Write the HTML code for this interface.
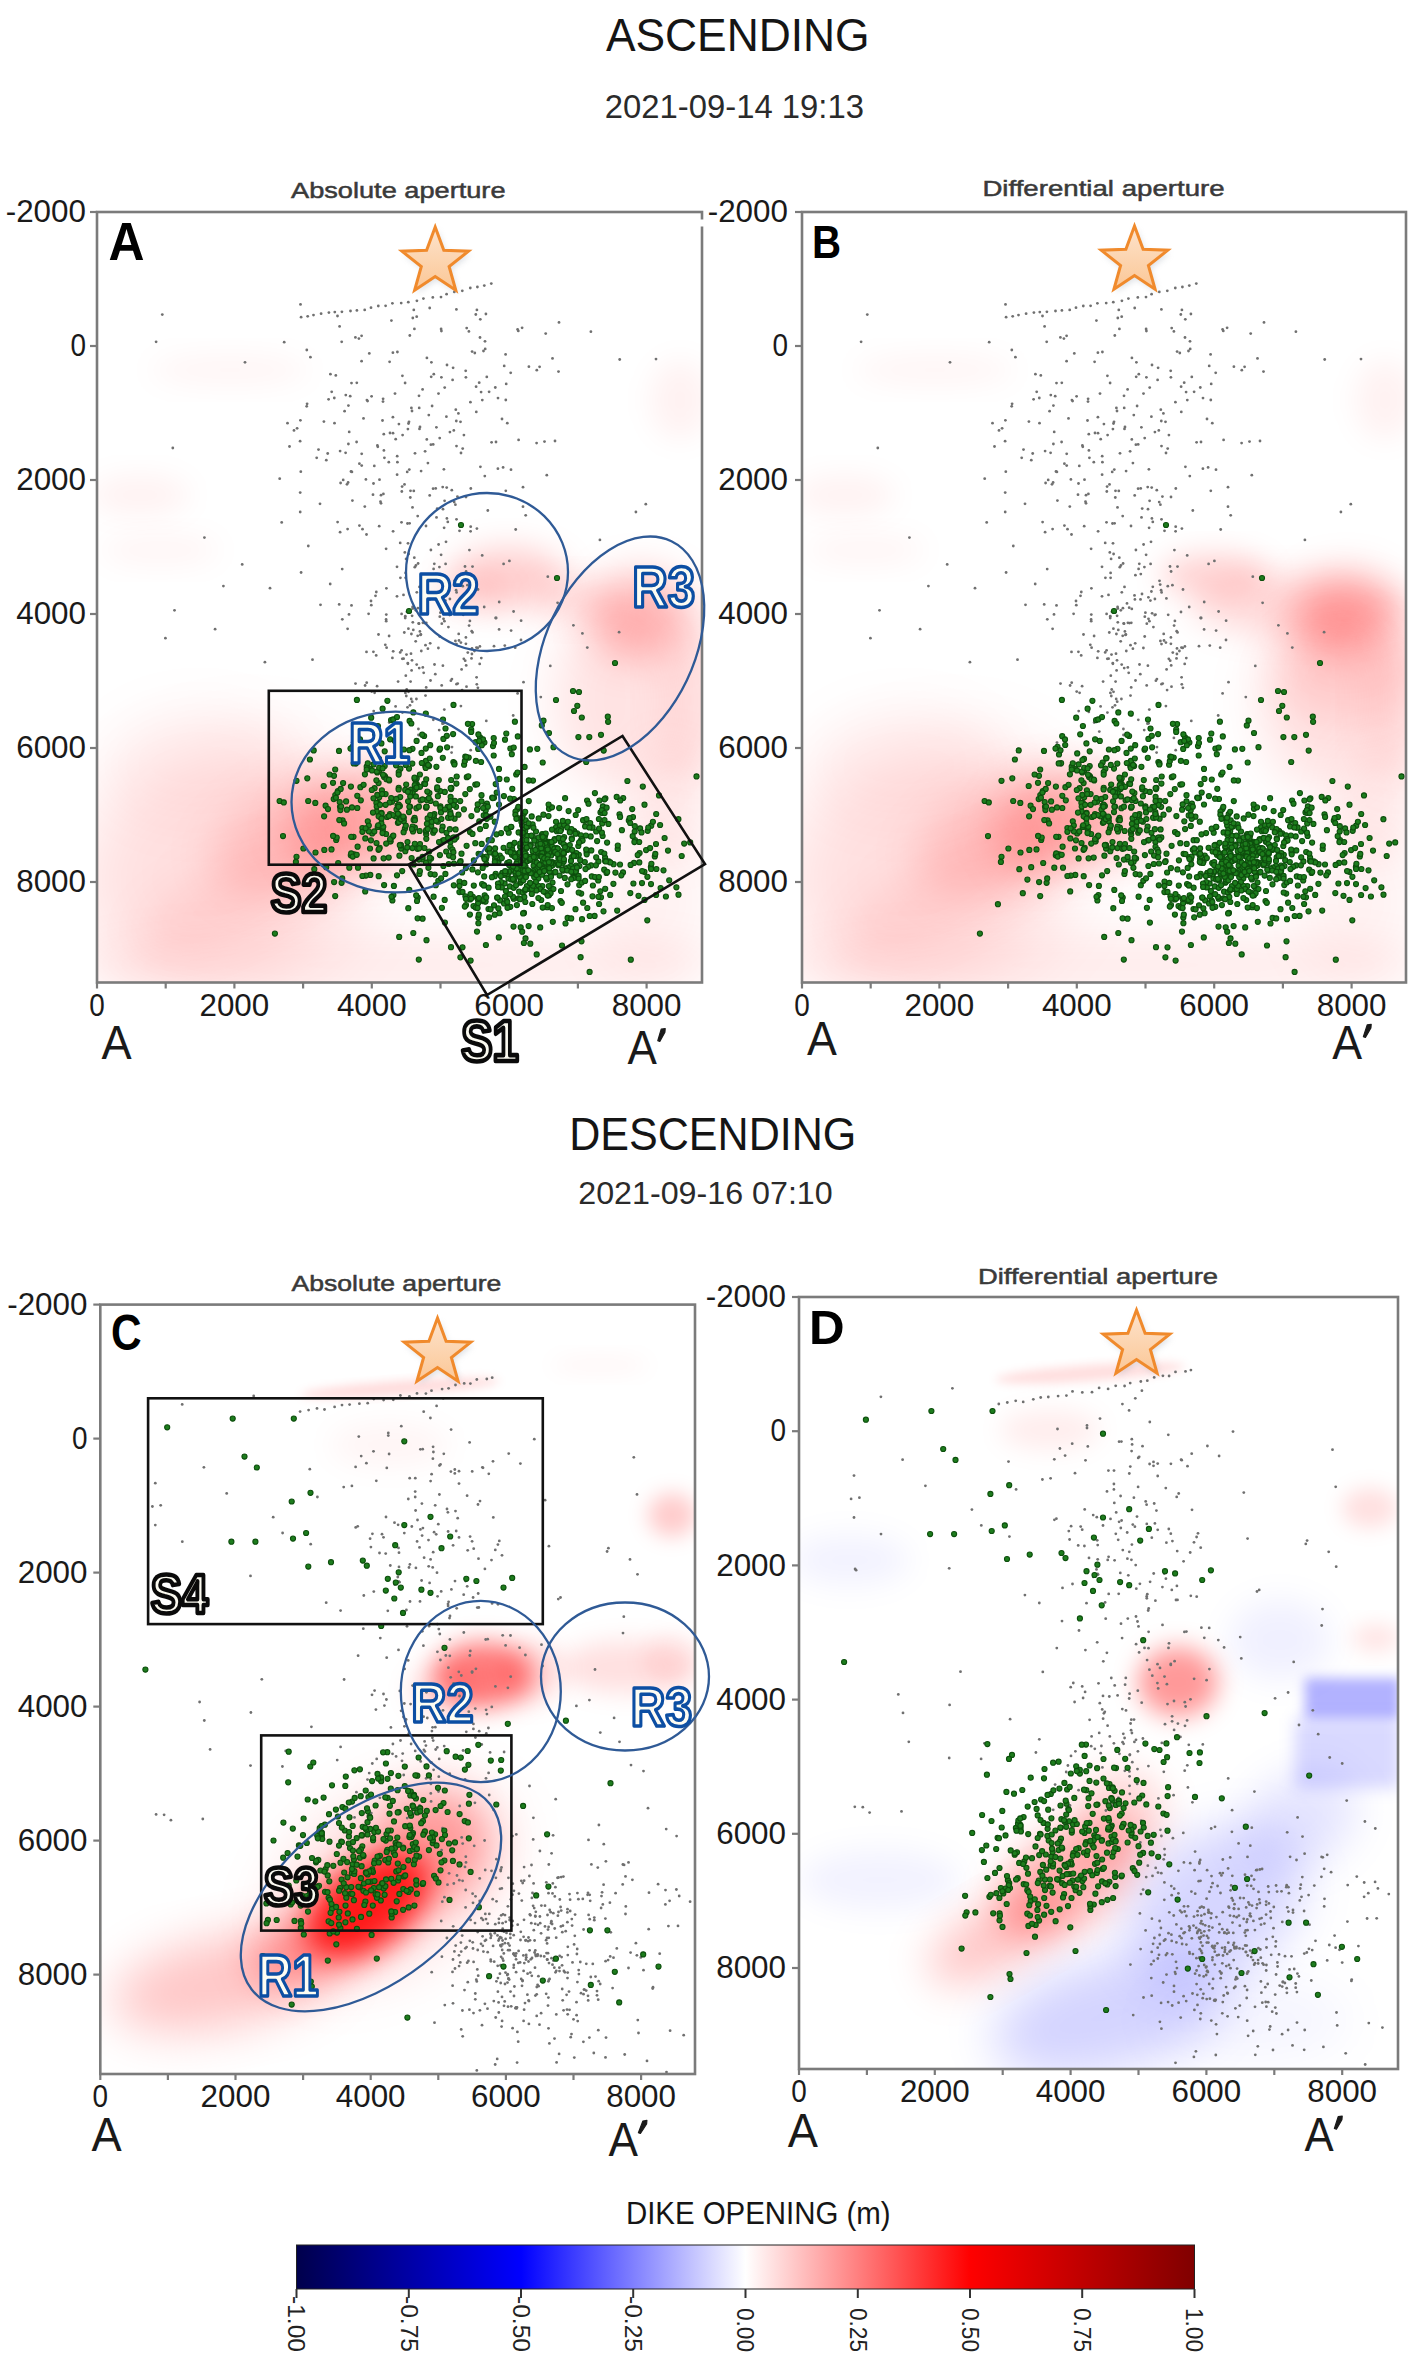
<!DOCTYPE html>
<html><head><meta charset="utf-8"><style>
html,body{margin:0;padding:0;background:#fff;width:1420px;height:2362px;overflow:hidden}
</style></head><body>
<svg width="1420" height="2362" viewBox="0 0 1420 2362" style="position:absolute;left:0;top:0">
<defs><g id="abgray" fill="#707070"><circle cx="301.1" cy="317.2" r="1.4"/><circle cx="307.7" cy="316.3" r="1.4"/><circle cx="313.5" cy="315.1" r="1.4"/><circle cx="321.1" cy="313.7" r="1.4"/><circle cx="328.9" cy="312.6" r="1.4"/><circle cx="334.8" cy="312.1" r="1.4"/><circle cx="341.9" cy="311.8" r="1.4"/><circle cx="350.5" cy="311.0" r="1.4"/><circle cx="356.9" cy="310.4" r="1.4"/><circle cx="364.7" cy="309.9" r="1.4"/><circle cx="371.0" cy="307.7" r="1.4"/><circle cx="378.3" cy="306.0" r="1.4"/><circle cx="385.6" cy="305.8" r="1.4"/><circle cx="392.4" cy="303.3" r="1.4"/><circle cx="401.2" cy="303.1" r="1.4"/><circle cx="408.3" cy="302.2" r="1.4"/><circle cx="416.9" cy="300.8" r="1.4"/><circle cx="423.4" cy="298.6" r="1.4"/><circle cx="432.8" cy="297.4" r="1.4"/><circle cx="441.0" cy="297.1" r="1.4"/><circle cx="446.6" cy="294.2" r="1.4"/><circle cx="454.3" cy="291.9" r="1.4"/><circle cx="462.3" cy="290.8" r="1.4"/><circle cx="470.3" cy="288.0" r="1.4"/><circle cx="477.4" cy="287.0" r="1.4"/><circle cx="484.3" cy="285.6" r="1.4"/><circle cx="491.3" cy="283.6" r="1.4"/><circle cx="412.0" cy="411.0" r="1.4"/><circle cx="474.8" cy="353.0" r="1.4"/><circle cx="497.9" cy="468.7" r="1.4"/><circle cx="480.0" cy="337.5" r="1.4"/><circle cx="481.1" cy="392.1" r="1.4"/><circle cx="436.4" cy="427.3" r="1.4"/><circle cx="438.5" cy="393.6" r="1.4"/><circle cx="300.1" cy="441.2" r="1.4"/><circle cx="491.6" cy="442.3" r="1.4"/><circle cx="361.6" cy="335.8" r="1.4"/><circle cx="456.3" cy="421.0" r="1.4"/><circle cx="334.5" cy="423.2" r="1.4"/><circle cx="308.3" cy="546.0" r="1.4"/><circle cx="395.7" cy="439.2" r="1.4"/><circle cx="355.4" cy="337.4" r="1.4"/><circle cx="397.4" cy="352.0" r="1.4"/><circle cx="300.8" cy="471.7" r="1.4"/><circle cx="391.4" cy="320.6" r="1.4"/><circle cx="432.1" cy="406.0" r="1.4"/><circle cx="337.6" cy="522.1" r="1.4"/><circle cx="429.7" cy="308.0" r="1.4"/><circle cx="349.2" cy="431.9" r="1.4"/><circle cx="458.4" cy="413.4" r="1.4"/><circle cx="404.5" cy="484.4" r="1.4"/><circle cx="485.9" cy="314.0" r="1.4"/><circle cx="381.0" cy="503.3" r="1.4"/><circle cx="441.1" cy="328.9" r="1.4"/><circle cx="281.7" cy="522.4" r="1.4"/><circle cx="393.0" cy="433.2" r="1.4"/><circle cx="381.0" cy="495.2" r="1.4"/><circle cx="470.6" cy="531.3" r="1.4"/><circle cx="328.6" cy="399.3" r="1.4"/><circle cx="455.8" cy="409.7" r="1.4"/><circle cx="404.8" cy="552.4" r="1.4"/><circle cx="412.8" cy="318.0" r="1.4"/><circle cx="523.0" cy="487.2" r="1.4"/><circle cx="421.1" cy="471.1" r="1.4"/><circle cx="449.9" cy="432.1" r="1.4"/><circle cx="460.5" cy="421.8" r="1.4"/><circle cx="511.0" cy="469.7" r="1.4"/><circle cx="374.3" cy="465.9" r="1.4"/><circle cx="320.0" cy="503.8" r="1.4"/><circle cx="279.7" cy="478.7" r="1.4"/><circle cx="498.0" cy="398.1" r="1.4"/><circle cx="443.9" cy="469.3" r="1.4"/><circle cx="307.1" cy="403.8" r="1.4"/><circle cx="518.6" cy="439.9" r="1.4"/><circle cx="555.0" cy="441.0" r="1.4"/><circle cx="392.9" cy="417.2" r="1.4"/><circle cx="408.0" cy="543.3" r="1.4"/><circle cx="361.6" cy="361.2" r="1.4"/><circle cx="379.2" cy="526.2" r="1.4"/><circle cx="489.1" cy="391.8" r="1.4"/><circle cx="459.5" cy="530.8" r="1.4"/><circle cx="419.2" cy="407.9" r="1.4"/><circle cx="465.7" cy="370.8" r="1.4"/><circle cx="429.7" cy="495.4" r="1.4"/><circle cx="525.7" cy="515.3" r="1.4"/><circle cx="447.0" cy="365.0" r="1.4"/><circle cx="463.9" cy="435.1" r="1.4"/><circle cx="536.6" cy="443.1" r="1.4"/><circle cx="422.6" cy="389.4" r="1.4"/><circle cx="409.3" cy="469.6" r="1.4"/><circle cx="348.4" cy="405.6" r="1.4"/><circle cx="339.6" cy="326.4" r="1.4"/><circle cx="452.6" cy="379.9" r="1.4"/><circle cx="388.8" cy="462.2" r="1.4"/><circle cx="366.9" cy="400.1" r="1.4"/><circle cx="402.4" cy="375.8" r="1.4"/><circle cx="362.5" cy="529.2" r="1.4"/><circle cx="446.7" cy="487.6" r="1.4"/><circle cx="334.3" cy="398.0" r="1.4"/><circle cx="466.0" cy="497.0" r="1.4"/><circle cx="359.4" cy="463.7" r="1.4"/><circle cx="505.8" cy="490.8" r="1.4"/><circle cx="405.1" cy="383.0" r="1.4"/><circle cx="306.7" cy="406.3" r="1.4"/><circle cx="419.5" cy="428.9" r="1.4"/><circle cx="401.8" cy="491.5" r="1.4"/><circle cx="485.2" cy="348.9" r="1.4"/><circle cx="420.0" cy="426.9" r="1.4"/><circle cx="419.0" cy="395.8" r="1.4"/><circle cx="447.8" cy="521.9" r="1.4"/><circle cx="383.0" cy="401.6" r="1.4"/><circle cx="485.0" cy="341.3" r="1.4"/><circle cx="453.8" cy="430.4" r="1.4"/><circle cx="361.7" cy="453.8" r="1.4"/><circle cx="397.4" cy="462.2" r="1.4"/><circle cx="446.4" cy="416.7" r="1.4"/><circle cx="430.9" cy="444.7" r="1.4"/><circle cx="402.1" cy="486.6" r="1.4"/><circle cx="407.5" cy="523.5" r="1.4"/><circle cx="383.1" cy="398.8" r="1.4"/><circle cx="413.8" cy="309.9" r="1.4"/><circle cx="552.5" cy="358.4" r="1.4"/><circle cx="431.4" cy="362.3" r="1.4"/><circle cx="462.7" cy="448.6" r="1.4"/><circle cx="505.8" cy="400.0" r="1.4"/><circle cx="428.8" cy="415.1" r="1.4"/><circle cx="431.2" cy="376.8" r="1.4"/><circle cx="401.5" cy="522.3" r="1.4"/><circle cx="468.9" cy="331.4" r="1.4"/><circle cx="426.8" cy="439.4" r="1.4"/><circle cx="340.6" cy="483.0" r="1.4"/><circle cx="361.7" cy="465.6" r="1.4"/><circle cx="479.2" cy="382.7" r="1.4"/><circle cx="455.4" cy="504.7" r="1.4"/><circle cx="379.5" cy="479.7" r="1.4"/><circle cx="515.7" cy="529.5" r="1.4"/><circle cx="392.9" cy="352.7" r="1.4"/><circle cx="495.3" cy="387.5" r="1.4"/><circle cx="517.6" cy="329.4" r="1.4"/><circle cx="377.4" cy="445.5" r="1.4"/><circle cx="365.9" cy="479.4" r="1.4"/><circle cx="544.5" cy="441.6" r="1.4"/><circle cx="442.7" cy="487.1" r="1.4"/><circle cx="409.6" cy="523.3" r="1.4"/><circle cx="330.4" cy="374.2" r="1.4"/><circle cx="327.7" cy="453.5" r="1.4"/><circle cx="503.1" cy="467.4" r="1.4"/><circle cx="398.9" cy="424.1" r="1.4"/><circle cx="502.0" cy="419.0" r="1.4"/><circle cx="377.8" cy="446.8" r="1.4"/><circle cx="300.4" cy="420.3" r="1.4"/><circle cx="411.4" cy="407.9" r="1.4"/><circle cx="487.8" cy="510.5" r="1.4"/><circle cx="483.5" cy="351.0" r="1.4"/><circle cx="408.5" cy="423.5" r="1.4"/><circle cx="410.3" cy="497.5" r="1.4"/><circle cx="414.3" cy="557.7" r="1.4"/><circle cx="415.0" cy="453.3" r="1.4"/><circle cx="480.4" cy="466.8" r="1.4"/><circle cx="348.1" cy="482.5" r="1.4"/><circle cx="539.6" cy="366.8" r="1.4"/><circle cx="476.3" cy="411.9" r="1.4"/><circle cx="300.2" cy="492.6" r="1.4"/><circle cx="441.4" cy="377.3" r="1.4"/><circle cx="496.0" cy="442.0" r="1.4"/><circle cx="433.1" cy="488.7" r="1.4"/><circle cx="373.0" cy="494.7" r="1.4"/><circle cx="416.7" cy="316.7" r="1.4"/><circle cx="456.4" cy="309.4" r="1.4"/><circle cx="373.5" cy="483.5" r="1.4"/><circle cx="364.8" cy="506.6" r="1.4"/><circle cx="340.1" cy="451.1" r="1.4"/><circle cx="470.4" cy="402.2" r="1.4"/><circle cx="382.5" cy="420.5" r="1.4"/><circle cx="345.8" cy="395.1" r="1.4"/><circle cx="389.6" cy="361.8" r="1.4"/><circle cx="457.4" cy="496.6" r="1.4"/><circle cx="413.8" cy="490.9" r="1.4"/><circle cx="506.2" cy="383.9" r="1.4"/><circle cx="558.5" cy="371.6" r="1.4"/><circle cx="412.5" cy="507.4" r="1.4"/><circle cx="356.6" cy="442.0" r="1.4"/><circle cx="397.2" cy="456.2" r="1.4"/><circle cx="528.9" cy="366.7" r="1.4"/><circle cx="367.6" cy="401.1" r="1.4"/><circle cx="356.8" cy="382.8" r="1.4"/><circle cx="347.6" cy="529.1" r="1.4"/><circle cx="417.7" cy="516.1" r="1.4"/><circle cx="466.7" cy="328.1" r="1.4"/><circle cx="437.2" cy="508.6" r="1.4"/><circle cx="383.8" cy="434.2" r="1.4"/><circle cx="414.4" cy="328.9" r="1.4"/><circle cx="383.4" cy="493.9" r="1.4"/><circle cx="435.7" cy="488.4" r="1.4"/><circle cx="350.2" cy="396.2" r="1.4"/><circle cx="480.3" cy="319.3" r="1.4"/><circle cx="409.8" cy="335.5" r="1.4"/><circle cx="426.0" cy="526.0" r="1.4"/><circle cx="505.6" cy="354.4" r="1.4"/><circle cx="444.7" cy="387.6" r="1.4"/><circle cx="559.0" cy="322.4" r="1.4"/><circle cx="351.5" cy="383.1" r="1.4"/><circle cx="475.8" cy="314.5" r="1.4"/><circle cx="476.1" cy="386.7" r="1.4"/><circle cx="465.9" cy="377.3" r="1.4"/><circle cx="351.9" cy="471.9" r="1.4"/><circle cx="407.9" cy="429.1" r="1.4"/><circle cx="546.8" cy="475.2" r="1.4"/><circle cx="482.3" cy="400.1" r="1.4"/><circle cx="522.1" cy="327.8" r="1.4"/><circle cx="340.1" cy="532.2" r="1.4"/><circle cx="436.5" cy="517.4" r="1.4"/><circle cx="444.6" cy="500.8" r="1.4"/><circle cx="507.3" cy="423.2" r="1.4"/><circle cx="407.2" cy="471.9" r="1.4"/><circle cx="439.7" cy="438.1" r="1.4"/><circle cx="433.8" cy="374.2" r="1.4"/><circle cx="444.1" cy="527.8" r="1.4"/><circle cx="454.2" cy="502.1" r="1.4"/><circle cx="469.4" cy="550.1" r="1.4"/><circle cx="348.4" cy="444.0" r="1.4"/><circle cx="486.8" cy="376.9" r="1.4"/><circle cx="297.1" cy="428.3" r="1.4"/><circle cx="306.8" cy="350.0" r="1.4"/><circle cx="358.9" cy="338.6" r="1.4"/><circle cx="390.0" cy="433.0" r="1.4"/><circle cx="310.4" cy="357.2" r="1.4"/><circle cx="425.1" cy="451.3" r="1.4"/><circle cx="461.0" cy="453.0" r="1.4"/><circle cx="294.0" cy="430.4" r="1.4"/><circle cx="397.1" cy="474.7" r="1.4"/><circle cx="410.5" cy="490.8" r="1.4"/><circle cx="344.6" cy="411.2" r="1.4"/><circle cx="331.7" cy="391.8" r="1.4"/><circle cx="476.9" cy="309.9" r="1.4"/><circle cx="351.0" cy="471.5" r="1.4"/><circle cx="383.9" cy="450.4" r="1.4"/><circle cx="523.0" cy="506.7" r="1.4"/><circle cx="384.4" cy="457.8" r="1.4"/><circle cx="433.2" cy="444.4" r="1.4"/><circle cx="347.0" cy="484.3" r="1.4"/><circle cx="510.7" cy="372.8" r="1.4"/><circle cx="352.4" cy="500.6" r="1.4"/><circle cx="456.5" cy="446.1" r="1.4"/><circle cx="343.2" cy="479.9" r="1.4"/><circle cx="380.5" cy="501.7" r="1.4"/><circle cx="451.8" cy="490.2" r="1.4"/><circle cx="341.7" cy="341.8" r="1.4"/><circle cx="484.8" cy="476.1" r="1.4"/><circle cx="395.0" cy="393.6" r="1.4"/><circle cx="402.6" cy="435.1" r="1.4"/><circle cx="369.3" cy="353.4" r="1.4"/><circle cx="409.0" cy="421.8" r="1.4"/><circle cx="363.5" cy="418.4" r="1.4"/><circle cx="323.9" cy="421.6" r="1.4"/><circle cx="289.5" cy="446.5" r="1.4"/><circle cx="456.5" cy="519.3" r="1.4"/><circle cx="424.2" cy="607.7" r="1.4"/><circle cx="462.1" cy="690.1" r="1.4"/><circle cx="349.0" cy="614.4" r="1.4"/><circle cx="412.8" cy="608.5" r="1.4"/><circle cx="394.3" cy="731.6" r="1.4"/><circle cx="450.9" cy="680.7" r="1.4"/><circle cx="407.5" cy="707.3" r="1.4"/><circle cx="426.8" cy="608.9" r="1.4"/><circle cx="355.5" cy="683.6" r="1.4"/><circle cx="386.1" cy="548.8" r="1.4"/><circle cx="462.8" cy="586.2" r="1.4"/><circle cx="426.2" cy="687.4" r="1.4"/><circle cx="342.3" cy="619.3" r="1.4"/><circle cx="418.5" cy="735.0" r="1.4"/><circle cx="430.5" cy="680.5" r="1.4"/><circle cx="471.5" cy="658.4" r="1.4"/><circle cx="447.8" cy="586.8" r="1.4"/><circle cx="419.0" cy="623.7" r="1.4"/><circle cx="412.2" cy="701.7" r="1.4"/><circle cx="465.9" cy="643.8" r="1.4"/><circle cx="439.8" cy="616.7" r="1.4"/><circle cx="445.6" cy="563.9" r="1.4"/><circle cx="435.3" cy="674.2" r="1.4"/><circle cx="405.6" cy="577.8" r="1.4"/><circle cx="389.2" cy="722.5" r="1.4"/><circle cx="339.2" cy="604.4" r="1.4"/><circle cx="406.7" cy="689.5" r="1.4"/><circle cx="449.9" cy="599.0" r="1.4"/><circle cx="438.6" cy="544.5" r="1.4"/><circle cx="400.4" cy="577.8" r="1.4"/><circle cx="449.7" cy="615.1" r="1.4"/><circle cx="513.6" cy="611.5" r="1.4"/><circle cx="430.2" cy="643.3" r="1.4"/><circle cx="521.0" cy="640.0" r="1.4"/><circle cx="359.4" cy="525.6" r="1.4"/><circle cx="451.9" cy="679.1" r="1.4"/><circle cx="412.0" cy="660.3" r="1.4"/><circle cx="468.9" cy="737.9" r="1.4"/><circle cx="389.1" cy="636.0" r="1.4"/><circle cx="377.1" cy="686.2" r="1.4"/><circle cx="419.5" cy="586.9" r="1.4"/><circle cx="461.6" cy="669.4" r="1.4"/><circle cx="423.7" cy="672.8" r="1.4"/><circle cx="342.2" cy="569.1" r="1.4"/><circle cx="419.9" cy="631.4" r="1.4"/><circle cx="494.9" cy="738.8" r="1.4"/><circle cx="472.5" cy="632.4" r="1.4"/><circle cx="400.2" cy="652.4" r="1.4"/><circle cx="393.1" cy="531.3" r="1.4"/><circle cx="375.5" cy="595.8" r="1.4"/><circle cx="515.2" cy="647.7" r="1.4"/><circle cx="420.5" cy="634.9" r="1.4"/><circle cx="397.0" cy="717.5" r="1.4"/><circle cx="452.9" cy="735.4" r="1.4"/><circle cx="386.4" cy="588.3" r="1.4"/><circle cx="503.6" cy="563.9" r="1.4"/><circle cx="422.8" cy="667.4" r="1.4"/><circle cx="408.6" cy="554.0" r="1.4"/><circle cx="425.5" cy="695.6" r="1.4"/><circle cx="447.1" cy="613.3" r="1.4"/><circle cx="513.2" cy="715.5" r="1.4"/><circle cx="460.9" cy="642.6" r="1.4"/><circle cx="477.7" cy="647.9" r="1.4"/><circle cx="422.0" cy="603.4" r="1.4"/><circle cx="466.5" cy="686.7" r="1.4"/><circle cx="444.3" cy="709.6" r="1.4"/><circle cx="402.3" cy="658.8" r="1.4"/><circle cx="445.4" cy="600.6" r="1.4"/><circle cx="420.9" cy="634.4" r="1.4"/><circle cx="450.5" cy="614.6" r="1.4"/><circle cx="443.6" cy="723.3" r="1.4"/><circle cx="517.6" cy="693.4" r="1.4"/><circle cx="397.0" cy="566.8" r="1.4"/><circle cx="471.9" cy="654.0" r="1.4"/><circle cx="405.3" cy="616.2" r="1.4"/><circle cx="433.6" cy="568.9" r="1.4"/><circle cx="452.0" cy="747.1" r="1.4"/><circle cx="412.6" cy="607.0" r="1.4"/><circle cx="395.6" cy="706.4" r="1.4"/><circle cx="403.5" cy="594.9" r="1.4"/><circle cx="424.5" cy="623.1" r="1.4"/><circle cx="434.5" cy="664.5" r="1.4"/><circle cx="406.1" cy="558.9" r="1.4"/><circle cx="415.9" cy="565.5" r="1.4"/><circle cx="406.3" cy="696.0" r="1.4"/><circle cx="411.0" cy="653.7" r="1.4"/><circle cx="440.4" cy="612.7" r="1.4"/><circle cx="418.4" cy="729.0" r="1.4"/><circle cx="444.4" cy="621.2" r="1.4"/><circle cx="435.5" cy="599.4" r="1.4"/><circle cx="448.4" cy="627.1" r="1.4"/><circle cx="465.9" cy="637.4" r="1.4"/><circle cx="429.3" cy="743.5" r="1.4"/><circle cx="419.2" cy="668.1" r="1.4"/><circle cx="399.7" cy="761.2" r="1.4"/><circle cx="386.1" cy="619.5" r="1.4"/><circle cx="413.3" cy="629.9" r="1.4"/><circle cx="371.3" cy="605.2" r="1.4"/><circle cx="459.0" cy="640.5" r="1.4"/><circle cx="476.0" cy="612.0" r="1.4"/><circle cx="426.9" cy="715.3" r="1.4"/><circle cx="421.3" cy="651.0" r="1.4"/><circle cx="469.1" cy="625.6" r="1.4"/><circle cx="393.2" cy="651.3" r="1.4"/><circle cx="446.4" cy="591.5" r="1.4"/><circle cx="408.5" cy="691.8" r="1.4"/><circle cx="521.1" cy="620.7" r="1.4"/><circle cx="523.5" cy="682.2" r="1.4"/><circle cx="412.8" cy="622.3" r="1.4"/><circle cx="402.4" cy="712.6" r="1.4"/><circle cx="499.2" cy="602.0" r="1.4"/><circle cx="405.4" cy="692.9" r="1.4"/><circle cx="439.4" cy="567.1" r="1.4"/><circle cx="417.7" cy="635.8" r="1.4"/><circle cx="442.9" cy="665.7" r="1.4"/><circle cx="442.5" cy="723.7" r="1.4"/><circle cx="386.2" cy="621.2" r="1.4"/><circle cx="408.4" cy="628.7" r="1.4"/><circle cx="460.9" cy="706.1" r="1.4"/><circle cx="458.7" cy="633.9" r="1.4"/><circle cx="404.3" cy="632.5" r="1.4"/><circle cx="540.8" cy="697.1" r="1.4"/><circle cx="446.0" cy="541.8" r="1.4"/><circle cx="422.9" cy="622.8" r="1.4"/><circle cx="356.1" cy="765.5" r="1.4"/><circle cx="366.5" cy="651.9" r="1.4"/><circle cx="496.2" cy="618.0" r="1.4"/><circle cx="470.7" cy="750.2" r="1.4"/><circle cx="429.9" cy="599.4" r="1.4"/><circle cx="467.8" cy="652.6" r="1.4"/><circle cx="403.6" cy="658.7" r="1.4"/><circle cx="398.1" cy="681.6" r="1.4"/><circle cx="451.6" cy="752.6" r="1.4"/><circle cx="366.5" cy="534.5" r="1.4"/><circle cx="412.1" cy="615.8" r="1.4"/><circle cx="463.8" cy="658.8" r="1.4"/><circle cx="351.5" cy="605.4" r="1.4"/><circle cx="470.7" cy="526.7" r="1.4"/><circle cx="435.8" cy="574.1" r="1.4"/><circle cx="416.7" cy="664.6" r="1.4"/><circle cx="504.8" cy="645.6" r="1.4"/><circle cx="406.9" cy="611.8" r="1.4"/><circle cx="438.4" cy="648.0" r="1.4"/><circle cx="401.6" cy="650.3" r="1.4"/><circle cx="441.8" cy="623.7" r="1.4"/><circle cx="385.3" cy="644.8" r="1.4"/><circle cx="417.9" cy="608.2" r="1.4"/><circle cx="405.2" cy="618.0" r="1.4"/><circle cx="407.8" cy="663.1" r="1.4"/><circle cx="454.5" cy="580.8" r="1.4"/><circle cx="479.9" cy="646.4" r="1.4"/><circle cx="443.5" cy="618.8" r="1.4"/><circle cx="466.1" cy="571.5" r="1.4"/><circle cx="430.9" cy="550.0" r="1.4"/><circle cx="474.4" cy="651.0" r="1.4"/><circle cx="465.0" cy="566.5" r="1.4"/><circle cx="434.3" cy="563.8" r="1.4"/><circle cx="373.7" cy="711.1" r="1.4"/><circle cx="486.3" cy="720.9" r="1.4"/><circle cx="455.2" cy="584.6" r="1.4"/><circle cx="376.3" cy="592.0" r="1.4"/><circle cx="456.5" cy="644.1" r="1.4"/><circle cx="443.4" cy="597.3" r="1.4"/><circle cx="371.7" cy="691.6" r="1.4"/><circle cx="426.3" cy="622.8" r="1.4"/><circle cx="407.9" cy="663.8" r="1.4"/><circle cx="392.4" cy="657.9" r="1.4"/><circle cx="383.8" cy="711.9" r="1.4"/><circle cx="373.4" cy="651.8" r="1.4"/><circle cx="441.7" cy="685.4" r="1.4"/><circle cx="376.2" cy="655.4" r="1.4"/><circle cx="366.7" cy="682.7" r="1.4"/><circle cx="411.6" cy="670.4" r="1.4"/><circle cx="416.4" cy="699.0" r="1.4"/><circle cx="472.5" cy="566.6" r="1.4"/><circle cx="478.0" cy="589.5" r="1.4"/><circle cx="347.6" cy="628.8" r="1.4"/><circle cx="405.6" cy="572.9" r="1.4"/><circle cx="481.3" cy="658.1" r="1.4"/><circle cx="456.6" cy="592.4" r="1.4"/><circle cx="469.9" cy="620.9" r="1.4"/><circle cx="365.1" cy="685.5" r="1.4"/><circle cx="406.5" cy="654.6" r="1.4"/><circle cx="418.7" cy="623.4" r="1.4"/><circle cx="477.9" cy="687.8" r="1.4"/><circle cx="411.4" cy="634.0" r="1.4"/><circle cx="425.5" cy="645.2" r="1.4"/><circle cx="482.2" cy="555.4" r="1.4"/><circle cx="466.2" cy="665.4" r="1.4"/><circle cx="433.3" cy="719.8" r="1.4"/><circle cx="378.5" cy="634.5" r="1.4"/><circle cx="467.4" cy="585.2" r="1.4"/><circle cx="371.0" cy="601.0" r="1.4"/><circle cx="439.2" cy="730.1" r="1.4"/><circle cx="484.2" cy="607.0" r="1.4"/><circle cx="463.2" cy="614.8" r="1.4"/><circle cx="410.0" cy="705.3" r="1.4"/><circle cx="479.7" cy="663.9" r="1.4"/><circle cx="476.8" cy="684.3" r="1.4"/><circle cx="439.7" cy="636.5" r="1.4"/><circle cx="427.9" cy="648.7" r="1.4"/><circle cx="410.6" cy="681.6" r="1.4"/><circle cx="455.4" cy="641.0" r="1.4"/><circle cx="397.0" cy="596.3" r="1.4"/><circle cx="416.8" cy="592.3" r="1.4"/><circle cx="418.1" cy="563.5" r="1.4"/><circle cx="437.0" cy="594.0" r="1.4"/><circle cx="415.7" cy="641.3" r="1.4"/><circle cx="411.2" cy="699.0" r="1.4"/><circle cx="476.9" cy="528.6" r="1.4"/><circle cx="429.5" cy="595.4" r="1.4"/><circle cx="374.6" cy="692.8" r="1.4"/><circle cx="509.4" cy="560.9" r="1.4"/><circle cx="405.8" cy="675.7" r="1.4"/><circle cx="430.4" cy="575.2" r="1.4"/><circle cx="456.1" cy="590.2" r="1.4"/><circle cx="456.5" cy="684.2" r="1.4"/><circle cx="368.6" cy="613.8" r="1.4"/><circle cx="352.0" cy="742.6" r="1.4"/><circle cx="457.7" cy="683.6" r="1.4"/><circle cx="245.0" cy="362.3" r="1.4"/><circle cx="587.3" cy="647.6" r="1.4"/><circle cx="635.9" cy="512.0" r="1.4"/><circle cx="162.3" cy="314.6" r="1.4"/><circle cx="264.9" cy="662.2" r="1.4"/><circle cx="312.5" cy="659.7" r="1.4"/><circle cx="337.5" cy="316.0" r="1.4"/><circle cx="547.8" cy="576.7" r="1.4"/><circle cx="443.0" cy="509.2" r="1.4"/><circle cx="504.2" cy="365.9" r="1.4"/><circle cx="318.5" cy="449.6" r="1.4"/><circle cx="204.4" cy="537.6" r="1.4"/><circle cx="426.9" cy="357.9" r="1.4"/><circle cx="590.9" cy="331.7" r="1.4"/><circle cx="335.8" cy="375.4" r="1.4"/><circle cx="536.8" cy="370.2" r="1.4"/><circle cx="174.5" cy="610.3" r="1.4"/><circle cx="330.2" cy="584.0" r="1.4"/><circle cx="511.1" cy="630.6" r="1.4"/><circle cx="320.5" cy="604.8" r="1.4"/><circle cx="410.7" cy="612.1" r="1.4"/><circle cx="284.2" cy="342.2" r="1.4"/><circle cx="472.0" cy="648.4" r="1.4"/><circle cx="300.2" cy="512.0" r="1.4"/><circle cx="441.4" cy="331.0" r="1.4"/><circle cx="461.4" cy="598.4" r="1.4"/><circle cx="300.5" cy="304.4" r="1.4"/><circle cx="316.7" cy="457.8" r="1.4"/><circle cx="453.1" cy="367.8" r="1.4"/><circle cx="165.4" cy="638.2" r="1.4"/><circle cx="427.9" cy="463.1" r="1.4"/><circle cx="545.7" cy="333.6" r="1.4"/><circle cx="495.6" cy="618.0" r="1.4"/><circle cx="345.6" cy="452.8" r="1.4"/><circle cx="619.7" cy="359.5" r="1.4"/><circle cx="470.8" cy="488.5" r="1.4"/><circle cx="400.2" cy="542.9" r="1.4"/><circle cx="441.1" cy="554.8" r="1.4"/><circle cx="270.0" cy="588.2" r="1.4"/><circle cx="371.6" cy="396.3" r="1.4"/><circle cx="223.4" cy="586.1" r="1.4"/><circle cx="619.1" cy="632.2" r="1.4"/><circle cx="550.3" cy="665.9" r="1.4"/><circle cx="645.8" cy="504.2" r="1.4"/><circle cx="518.3" cy="330.9" r="1.4"/><circle cx="156.1" cy="341.8" r="1.4"/><circle cx="465.2" cy="660.7" r="1.4"/><circle cx="386.6" cy="647.7" r="1.4"/><circle cx="242.2" cy="564.4" r="1.4"/><circle cx="472.1" cy="351.6" r="1.4"/><circle cx="301.1" cy="572.5" r="1.4"/><circle cx="414.8" cy="567.2" r="1.4"/><circle cx="401.6" cy="613.9" r="1.4"/><circle cx="446.9" cy="518.4" r="1.4"/><circle cx="573.4" cy="625.3" r="1.4"/><circle cx="476.6" cy="677.3" r="1.4"/><circle cx="471.7" cy="631.2" r="1.4"/><circle cx="415.8" cy="610.3" r="1.4"/><circle cx="326.3" cy="460.2" r="1.4"/><circle cx="494.0" cy="646.2" r="1.4"/><circle cx="582.4" cy="633.4" r="1.4"/><circle cx="476.4" cy="647.6" r="1.4"/><circle cx="656.0" cy="359.1" r="1.4"/><circle cx="287.5" cy="423.2" r="1.4"/><circle cx="386.3" cy="614.6" r="1.4"/><circle cx="599.9" cy="539.9" r="1.4"/><circle cx="172.8" cy="448.0" r="1.4"/><circle cx="499.1" cy="629.4" r="1.4"/><circle cx="215.1" cy="629.2" r="1.4"/><circle cx="557.6" cy="602.8" r="1.4"/></g><g fill="#a09aa2"><circle cx="246.3" cy="651.3" r="1.4"/><circle cx="297.3" cy="695.0" r="1.4"/><circle cx="333.7" cy="721.5" r="1.4"/><circle cx="335.7" cy="718.6" r="1.4"/><circle cx="307.1" cy="682.0" r="1.4"/><circle cx="314.1" cy="727.1" r="1.4"/><circle cx="307.0" cy="719.0" r="1.4"/><circle cx="267.6" cy="738.7" r="1.4"/><circle cx="312.5" cy="709.8" r="1.4"/><circle cx="272.4" cy="771.8" r="1.4"/><circle cx="257.9" cy="744.0" r="1.4"/><circle cx="327.8" cy="759.2" r="1.4"/><circle cx="230.0" cy="729.9" r="1.4"/><circle cx="275.6" cy="737.4" r="1.4"/><circle cx="293.2" cy="742.6" r="1.4"/><circle cx="288.8" cy="713.0" r="1.4"/><circle cx="286.5" cy="755.2" r="1.4"/><circle cx="311.8" cy="709.5" r="1.4"/><circle cx="335.2" cy="777.6" r="1.4"/><circle cx="293.8" cy="698.4" r="1.4"/><circle cx="321.4" cy="736.8" r="1.4"/><circle cx="304.1" cy="735.1" r="1.4"/><circle cx="287.0" cy="749.5" r="1.4"/><circle cx="290.7" cy="651.8" r="1.4"/><circle cx="298.3" cy="745.5" r="1.4"/><circle cx="303.9" cy="742.1" r="1.4"/><circle cx="293.0" cy="689.6" r="1.4"/><circle cx="314.2" cy="750.8" r="1.4"/><circle cx="274.9" cy="745.3" r="1.4"/><circle cx="301.1" cy="671.3" r="1.4"/><circle cx="313.8" cy="695.1" r="1.4"/><circle cx="299.0" cy="643.3" r="1.4"/><circle cx="332.1" cy="714.0" r="1.4"/><circle cx="309.1" cy="712.1" r="1.4"/><circle cx="268.2" cy="726.6" r="1.4"/><circle cx="264.5" cy="734.2" r="1.4"/><circle cx="323.3" cy="715.0" r="1.4"/><circle cx="256.3" cy="754.5" r="1.4"/><circle cx="265.0" cy="721.5" r="1.4"/><circle cx="300.5" cy="724.7" r="1.4"/><circle cx="253.0" cy="743.1" r="1.4"/><circle cx="274.5" cy="721.8" r="1.4"/><circle cx="333.4" cy="751.1" r="1.4"/><circle cx="288.6" cy="715.5" r="1.4"/><circle cx="334.2" cy="725.2" r="1.4"/></g>
<g id="abgreen" fill="#1d7d1d" stroke="#0d4f0d" stroke-width="1.1"><circle cx="398.8" cy="814.7" r="2.55"/><circle cx="424.2" cy="783.5" r="2.55"/><circle cx="382.8" cy="830.3" r="2.55"/><circle cx="377.8" cy="802.9" r="2.55"/><circle cx="442.8" cy="840.5" r="2.55"/><circle cx="376.4" cy="803.1" r="2.55"/><circle cx="360.8" cy="800.3" r="2.55"/><circle cx="426.1" cy="807.7" r="2.55"/><circle cx="456.1" cy="806.8" r="2.55"/><circle cx="376.7" cy="811.5" r="2.55"/><circle cx="398.7" cy="787.8" r="2.55"/><circle cx="399.1" cy="819.0" r="2.55"/><circle cx="335.2" cy="896.1" r="2.55"/><circle cx="486.9" cy="803.7" r="2.55"/><circle cx="523.7" cy="814.0" r="2.55"/><circle cx="464.1" cy="764.7" r="2.55"/><circle cx="414.9" cy="827.7" r="2.55"/><circle cx="315.5" cy="852.5" r="2.55"/><circle cx="333.0" cy="782.8" r="2.55"/><circle cx="411.6" cy="858.0" r="2.55"/><circle cx="381.4" cy="743.4" r="2.55"/><circle cx="417.8" cy="786.1" r="2.55"/><circle cx="429.4" cy="793.0" r="2.55"/><circle cx="425.4" cy="766.2" r="2.55"/><circle cx="431.1" cy="858.6" r="2.55"/><circle cx="279.6" cy="801.0" r="2.55"/><circle cx="433.9" cy="817.9" r="2.55"/><circle cx="499.0" cy="804.5" r="2.55"/><circle cx="426.2" cy="834.2" r="2.55"/><circle cx="376.7" cy="806.6" r="2.55"/><circle cx="397.9" cy="822.8" r="2.55"/><circle cx="400.2" cy="797.1" r="2.55"/><circle cx="517.5" cy="809.1" r="2.55"/><circle cx="425.8" cy="748.6" r="2.55"/><circle cx="354.2" cy="854.3" r="2.55"/><circle cx="409.0" cy="768.6" r="2.55"/><circle cx="470.0" cy="832.1" r="2.55"/><circle cx="373.6" cy="858.4" r="2.55"/><circle cx="296.5" cy="856.8" r="2.55"/><circle cx="430.6" cy="874.1" r="2.55"/><circle cx="384.7" cy="766.0" r="2.55"/><circle cx="431.3" cy="823.0" r="2.55"/><circle cx="440.4" cy="806.4" r="2.55"/><circle cx="426.3" cy="838.8" r="2.55"/><circle cx="346.1" cy="801.4" r="2.55"/><circle cx="409.0" cy="812.1" r="2.55"/><circle cx="373.0" cy="812.6" r="2.55"/><circle cx="335.2" cy="769.5" r="2.55"/><circle cx="453.9" cy="837.5" r="2.55"/><circle cx="331.5" cy="849.4" r="2.55"/><circle cx="454.8" cy="800.9" r="2.55"/><circle cx="409.3" cy="889.9" r="2.55"/><circle cx="449.1" cy="817.8" r="2.55"/><circle cx="380.3" cy="826.6" r="2.55"/><circle cx="379.2" cy="770.5" r="2.55"/><circle cx="405.3" cy="851.2" r="2.55"/><circle cx="389.2" cy="780.5" r="2.55"/><circle cx="455.6" cy="829.4" r="2.55"/><circle cx="428.6" cy="861.8" r="2.55"/><circle cx="413.0" cy="831.5" r="2.55"/><circle cx="440.2" cy="791.0" r="2.55"/><circle cx="388.7" cy="857.6" r="2.55"/><circle cx="379.0" cy="758.9" r="2.55"/><circle cx="416.6" cy="783.9" r="2.55"/><circle cx="362.4" cy="828.0" r="2.55"/><circle cx="340.0" cy="806.8" r="2.55"/><circle cx="392.1" cy="801.7" r="2.55"/><circle cx="350.8" cy="855.2" r="2.55"/><circle cx="485.8" cy="825.9" r="2.55"/><circle cx="385.1" cy="776.6" r="2.55"/><circle cx="367.8" cy="821.3" r="2.55"/><circle cx="400.4" cy="768.7" r="2.55"/><circle cx="403.8" cy="821.2" r="2.55"/><circle cx="341.6" cy="882.8" r="2.55"/><circle cx="373.6" cy="764.4" r="2.55"/><circle cx="416.4" cy="808.2" r="2.55"/><circle cx="379.2" cy="797.3" r="2.55"/><circle cx="379.7" cy="826.5" r="2.55"/><circle cx="342.2" cy="878.4" r="2.55"/><circle cx="390.1" cy="739.3" r="2.55"/><circle cx="442.6" cy="826.7" r="2.55"/><circle cx="408.1" cy="801.3" r="2.55"/><circle cx="412.6" cy="826.6" r="2.55"/><circle cx="420.0" cy="786.8" r="2.55"/><circle cx="397.6" cy="814.9" r="2.55"/><circle cx="450.4" cy="841.9" r="2.55"/><circle cx="416.7" cy="778.5" r="2.55"/><circle cx="398.9" cy="821.9" r="2.55"/><circle cx="428.0" cy="824.6" r="2.55"/><circle cx="422.6" cy="859.5" r="2.55"/><circle cx="317.8" cy="893.2" r="2.55"/><circle cx="384.1" cy="885.1" r="2.55"/><circle cx="456.3" cy="837.4" r="2.55"/><circle cx="335.3" cy="795.0" r="2.55"/><circle cx="353.5" cy="836.8" r="2.55"/><circle cx="410.0" cy="790.5" r="2.55"/><circle cx="339.7" cy="802.0" r="2.55"/><circle cx="410.9" cy="789.7" r="2.55"/><circle cx="395.4" cy="816.3" r="2.55"/><circle cx="352.5" cy="746.8" r="2.55"/><circle cx="349.3" cy="867.7" r="2.55"/><circle cx="399.9" cy="806.1" r="2.55"/><circle cx="390.0" cy="814.2" r="2.55"/><circle cx="370.3" cy="874.9" r="2.55"/><circle cx="450.5" cy="846.8" r="2.55"/><circle cx="427.6" cy="818.4" r="2.55"/><circle cx="426.5" cy="806.9" r="2.55"/><circle cx="459.4" cy="892.1" r="2.55"/><circle cx="392.4" cy="836.8" r="2.55"/><circle cx="453.3" cy="837.5" r="2.55"/><circle cx="437.9" cy="821.7" r="2.55"/><circle cx="419.4" cy="873.9" r="2.55"/><circle cx="439.9" cy="855.1" r="2.55"/><circle cx="413.3" cy="933.0" r="2.55"/><circle cx="518.3" cy="806.9" r="2.55"/><circle cx="456.4" cy="783.6" r="2.55"/><circle cx="469.8" cy="789.1" r="2.55"/><circle cx="448.8" cy="864.0" r="2.55"/><circle cx="410.0" cy="806.7" r="2.55"/><circle cx="434.7" cy="874.6" r="2.55"/><circle cx="412.3" cy="763.6" r="2.55"/><circle cx="433.2" cy="832.7" r="2.55"/><circle cx="417.6" cy="918.3" r="2.55"/><circle cx="412.4" cy="848.1" r="2.55"/><circle cx="377.4" cy="760.0" r="2.55"/><circle cx="337.9" cy="791.0" r="2.55"/><circle cx="478.2" cy="748.9" r="2.55"/><circle cx="414.6" cy="817.9" r="2.55"/><circle cx="499.0" cy="768.9" r="2.55"/><circle cx="370.9" cy="840.3" r="2.55"/><circle cx="384.2" cy="775.5" r="2.55"/><circle cx="434.0" cy="830.5" r="2.55"/><circle cx="383.6" cy="858.3" r="2.55"/><circle cx="443.4" cy="866.0" r="2.55"/><circle cx="453.4" cy="804.9" r="2.55"/><circle cx="340.7" cy="788.9" r="2.55"/><circle cx="425.9" cy="760.9" r="2.55"/><circle cx="325.6" cy="805.7" r="2.55"/><circle cx="522.2" cy="825.4" r="2.55"/><circle cx="466.8" cy="777.2" r="2.55"/><circle cx="426.0" cy="862.8" r="2.55"/><circle cx="454.6" cy="818.7" r="2.55"/><circle cx="418.9" cy="859.6" r="2.55"/><circle cx="404.9" cy="828.7" r="2.55"/><circle cx="415.4" cy="784.2" r="2.55"/><circle cx="396.5" cy="809.5" r="2.55"/><circle cx="323.7" cy="786.0" r="2.55"/><circle cx="414.7" cy="778.9" r="2.55"/><circle cx="452.4" cy="849.6" r="2.55"/><circle cx="390.7" cy="841.2" r="2.55"/><circle cx="417.4" cy="848.8" r="2.55"/><circle cx="384.1" cy="776.9" r="2.55"/><circle cx="356.1" cy="763.2" r="2.55"/><circle cx="429.1" cy="766.1" r="2.55"/><circle cx="463.9" cy="809.3" r="2.55"/><circle cx="333.7" cy="799.1" r="2.55"/><circle cx="481.5" cy="801.4" r="2.55"/><circle cx="430.5" cy="800.9" r="2.55"/><circle cx="336.2" cy="839.9" r="2.55"/><circle cx="394.8" cy="740.9" r="2.55"/><circle cx="400.5" cy="844.9" r="2.55"/><circle cx="362.4" cy="831.8" r="2.55"/><circle cx="446.5" cy="832.8" r="2.55"/><circle cx="353.7" cy="763.4" r="2.55"/><circle cx="413.8" cy="864.5" r="2.55"/><circle cx="405.2" cy="789.9" r="2.55"/><circle cx="434.4" cy="814.0" r="2.55"/><circle cx="357.2" cy="736.2" r="2.55"/><circle cx="372.2" cy="833.4" r="2.55"/><circle cx="374.6" cy="788.2" r="2.55"/><circle cx="441.4" cy="819.0" r="2.55"/><circle cx="360.4" cy="787.2" r="2.55"/><circle cx="376.5" cy="843.1" r="2.55"/><circle cx="460.6" cy="861.2" r="2.55"/><circle cx="351.2" cy="853.4" r="2.55"/><circle cx="307.3" cy="778.3" r="2.55"/><circle cx="412.7" cy="792.6" r="2.55"/><circle cx="397.9" cy="813.7" r="2.55"/><circle cx="406.2" cy="784.5" r="2.55"/><circle cx="440.4" cy="808.0" r="2.55"/><circle cx="346.9" cy="809.7" r="2.55"/><circle cx="436.4" cy="766.8" r="2.55"/><circle cx="437.2" cy="789.3" r="2.55"/><circle cx="431.2" cy="826.0" r="2.55"/><circle cx="480.1" cy="829.1" r="2.55"/><circle cx="372.2" cy="753.4" r="2.55"/><circle cx="410.0" cy="792.7" r="2.55"/><circle cx="472.5" cy="833.9" r="2.55"/><circle cx="450.3" cy="812.2" r="2.55"/><circle cx="343.1" cy="783.1" r="2.55"/><circle cx="313.7" cy="750.4" r="2.55"/><circle cx="447.6" cy="806.8" r="2.55"/><circle cx="400.9" cy="819.3" r="2.55"/><circle cx="443.9" cy="840.1" r="2.55"/><circle cx="381.9" cy="790.3" r="2.55"/><circle cx="466.6" cy="845.8" r="2.55"/><circle cx="377.3" cy="772.5" r="2.55"/><circle cx="426.0" cy="831.5" r="2.55"/><circle cx="393.9" cy="885.9" r="2.55"/><circle cx="418.9" cy="806.7" r="2.55"/><circle cx="506.8" cy="779.5" r="2.55"/><circle cx="414.7" cy="785.3" r="2.55"/><circle cx="494.0" cy="797.8" r="2.55"/><circle cx="413.6" cy="819.9" r="2.55"/><circle cx="357.6" cy="846.7" r="2.55"/><circle cx="527.9" cy="826.6" r="2.55"/><circle cx="376.9" cy="771.5" r="2.55"/><circle cx="381.5" cy="812.9" r="2.55"/><circle cx="403.9" cy="749.5" r="2.55"/><circle cx="494.8" cy="821.7" r="2.55"/><circle cx="334.1" cy="882.1" r="2.55"/><circle cx="386.1" cy="834.0" r="2.55"/><circle cx="420.0" cy="844.1" r="2.55"/><circle cx="431.9" cy="821.7" r="2.55"/><circle cx="342.6" cy="820.3" r="2.55"/><circle cx="380.1" cy="804.8" r="2.55"/><circle cx="432.8" cy="815.3" r="2.55"/><circle cx="426.8" cy="799.9" r="2.55"/><circle cx="379.2" cy="767.8" r="2.55"/><circle cx="309.9" cy="759.5" r="2.55"/><circle cx="402.2" cy="871.1" r="2.55"/><circle cx="357.3" cy="808.0" r="2.55"/><circle cx="377.7" cy="826.9" r="2.55"/><circle cx="495.9" cy="862.7" r="2.55"/><circle cx="385.6" cy="794.1" r="2.55"/><circle cx="415.5" cy="789.1" r="2.55"/><circle cx="370.2" cy="769.0" r="2.55"/><circle cx="419.9" cy="774.5" r="2.55"/><circle cx="481.5" cy="795.2" r="2.55"/><circle cx="380.9" cy="818.1" r="2.55"/><circle cx="403.6" cy="832.2" r="2.55"/><circle cx="315.3" cy="802.9" r="2.55"/><circle cx="401.5" cy="758.0" r="2.55"/><circle cx="368.8" cy="825.6" r="2.55"/><circle cx="429.8" cy="758.5" r="2.55"/><circle cx="372.0" cy="770.4" r="2.55"/><circle cx="421.8" cy="763.0" r="2.55"/><circle cx="401.0" cy="848.6" r="2.55"/><circle cx="389.8" cy="841.4" r="2.55"/><circle cx="468.3" cy="776.3" r="2.55"/><circle cx="363.6" cy="784.8" r="2.55"/><circle cx="381.5" cy="813.6" r="2.55"/><circle cx="339.3" cy="820.1" r="2.55"/><circle cx="370.0" cy="848.5" r="2.55"/><circle cx="515.5" cy="811.6" r="2.55"/><circle cx="511.9" cy="854.7" r="2.55"/><circle cx="430.2" cy="745.2" r="2.55"/><circle cx="416.5" cy="787.5" r="2.55"/><circle cx="453.4" cy="852.2" r="2.55"/><circle cx="415.9" cy="796.4" r="2.55"/><circle cx="525.7" cy="820.3" r="2.55"/><circle cx="437.9" cy="796.2" r="2.55"/><circle cx="425.1" cy="783.9" r="2.55"/><circle cx="409.4" cy="806.8" r="2.55"/><circle cx="377.3" cy="794.9" r="2.55"/><circle cx="397.6" cy="805.5" r="2.55"/><circle cx="391.2" cy="798.1" r="2.55"/><circle cx="387.1" cy="817.0" r="2.55"/><circle cx="383.3" cy="826.8" r="2.55"/><circle cx="378.5" cy="849.8" r="2.55"/><circle cx="366.7" cy="766.7" r="2.55"/><circle cx="308.2" cy="801.0" r="2.55"/><circle cx="381.4" cy="823.3" r="2.55"/><circle cx="386.4" cy="779.2" r="2.55"/><circle cx="450.6" cy="796.9" r="2.55"/><circle cx="450.7" cy="815.0" r="2.55"/><circle cx="460.2" cy="801.1" r="2.55"/><circle cx="426.2" cy="779.3" r="2.55"/><circle cx="389.6" cy="802.5" r="2.55"/><circle cx="411.9" cy="829.0" r="2.55"/><circle cx="368.8" cy="831.3" r="2.55"/><circle cx="337.4" cy="792.5" r="2.55"/><circle cx="407.5" cy="842.0" r="2.55"/><circle cx="430.2" cy="815.0" r="2.55"/><circle cx="326.2" cy="867.2" r="2.55"/><circle cx="424.4" cy="848.0" r="2.55"/><circle cx="471.4" cy="816.1" r="2.55"/><circle cx="365.6" cy="828.3" r="2.55"/><circle cx="374.3" cy="831.4" r="2.55"/><circle cx="378.2" cy="825.3" r="2.55"/><circle cx="377.9" cy="726.0" r="2.55"/><circle cx="444.8" cy="791.9" r="2.55"/><circle cx="490.4" cy="816.7" r="2.55"/><circle cx="344.1" cy="823.4" r="2.55"/><circle cx="354.0" cy="754.4" r="2.55"/><circle cx="352.0" cy="807.4" r="2.55"/><circle cx="414.9" cy="820.2" r="2.55"/><circle cx="419.7" cy="831.0" r="2.55"/><circle cx="465.3" cy="794.1" r="2.55"/><circle cx="448.1" cy="817.7" r="2.55"/><circle cx="324.3" cy="849.9" r="2.55"/><circle cx="351.2" cy="836.8" r="2.55"/><circle cx="401.1" cy="845.4" r="2.55"/><circle cx="481.7" cy="843.9" r="2.55"/><circle cx="324.1" cy="816.3" r="2.55"/><circle cx="385.6" cy="804.8" r="2.55"/><circle cx="399.8" cy="845.2" r="2.55"/><circle cx="414.5" cy="777.7" r="2.55"/><circle cx="492.2" cy="797.5" r="2.55"/><circle cx="382.6" cy="768.4" r="2.55"/><circle cx="388.9" cy="779.7" r="2.55"/><circle cx="484.1" cy="857.0" r="2.55"/><circle cx="283.0" cy="836.1" r="2.55"/><circle cx="397.6" cy="762.6" r="2.55"/><circle cx="336.7" cy="837.6" r="2.55"/><circle cx="407.2" cy="847.4" r="2.55"/><circle cx="365.9" cy="875.6" r="2.55"/><circle cx="426.5" cy="806.7" r="2.55"/><circle cx="451.1" cy="817.4" r="2.55"/><circle cx="383.0" cy="774.8" r="2.55"/><circle cx="413.3" cy="712.4" r="2.55"/><circle cx="367.8" cy="763.3" r="2.55"/><circle cx="446.2" cy="851.5" r="2.55"/><circle cx="382.1" cy="794.0" r="2.55"/><circle cx="479.3" cy="821.3" r="2.55"/><circle cx="477.1" cy="809.7" r="2.55"/><circle cx="435.8" cy="885.2" r="2.55"/><circle cx="386.2" cy="843.6" r="2.55"/><circle cx="439.5" cy="749.7" r="2.55"/><circle cx="499.4" cy="778.9" r="2.55"/><circle cx="441.0" cy="812.4" r="2.55"/><circle cx="373.5" cy="798.3" r="2.55"/><circle cx="453.4" cy="762.1" r="2.55"/><circle cx="409.6" cy="720.9" r="2.55"/><circle cx="371.2" cy="717.7" r="2.55"/><circle cx="378.6" cy="816.3" r="2.55"/><circle cx="283.8" cy="802.4" r="2.55"/><circle cx="371.8" cy="790.0" r="2.55"/><circle cx="426.9" cy="823.8" r="2.55"/><circle cx="461.5" cy="853.7" r="2.55"/><circle cx="379.7" cy="847.8" r="2.55"/><circle cx="449.4" cy="806.8" r="2.55"/><circle cx="378.6" cy="783.1" r="2.55"/><circle cx="365.3" cy="838.4" r="2.55"/><circle cx="381.6" cy="818.5" r="2.55"/><circle cx="364.9" cy="774.3" r="2.55"/><circle cx="508.4" cy="878.4" r="2.55"/><circle cx="445.0" cy="809.5" r="2.55"/><circle cx="358.0" cy="867.7" r="2.55"/><circle cx="340.4" cy="810.1" r="2.55"/><circle cx="412.5" cy="748.8" r="2.55"/><circle cx="399.4" cy="855.7" r="2.55"/><circle cx="443.4" cy="738.9" r="2.55"/><circle cx="464.8" cy="761.2" r="2.55"/><circle cx="398.7" cy="804.7" r="2.55"/><circle cx="352.8" cy="856.6" r="2.55"/><circle cx="405.8" cy="825.7" r="2.55"/><circle cx="334.0" cy="775.8" r="2.55"/><circle cx="485.7" cy="810.5" r="2.55"/><circle cx="392.9" cy="815.1" r="2.55"/><circle cx="360.0" cy="739.4" r="2.55"/><circle cx="341.1" cy="806.5" r="2.55"/><circle cx="441.8" cy="830.3" r="2.55"/><circle cx="329.6" cy="774.5" r="2.55"/><circle cx="362.4" cy="876.0" r="2.55"/><circle cx="350.9" cy="786.6" r="2.55"/><circle cx="428.4" cy="867.8" r="2.55"/><circle cx="439.0" cy="842.1" r="2.55"/><circle cx="481.1" cy="762.0" r="2.55"/><circle cx="435.8" cy="803.5" r="2.55"/><circle cx="451.4" cy="787.9" r="2.55"/><circle cx="459.5" cy="881.5" r="2.55"/><circle cx="533.0" cy="780.6" r="2.55"/><circle cx="382.5" cy="833.1" r="2.55"/><circle cx="475.3" cy="784.6" r="2.55"/><circle cx="477.1" cy="784.3" r="2.55"/><circle cx="485.5" cy="806.1" r="2.55"/><circle cx="453.1" cy="734.1" r="2.55"/><circle cx="303.4" cy="848.5" r="2.55"/><circle cx="295.9" cy="861.9" r="2.55"/><circle cx="335.9" cy="797.8" r="2.55"/><circle cx="450.4" cy="814.1" r="2.55"/><circle cx="403.8" cy="817.8" r="2.55"/><circle cx="390.1" cy="839.0" r="2.55"/><circle cx="434.8" cy="830.4" r="2.55"/><circle cx="427.3" cy="791.6" r="2.55"/><circle cx="356.9" cy="699.9" r="2.55"/><circle cx="483.7" cy="815.4" r="2.55"/><circle cx="426.2" cy="830.2" r="2.55"/><circle cx="365.2" cy="891.4" r="2.55"/><circle cx="420.6" cy="800.3" r="2.55"/><circle cx="410.2" cy="796.5" r="2.55"/><circle cx="274.9" cy="933.6" r="2.55"/><circle cx="422.5" cy="799.4" r="2.55"/><circle cx="357.3" cy="795.8" r="2.55"/><circle cx="360.2" cy="745.0" r="2.55"/><circle cx="296.5" cy="780.8" r="2.55"/><circle cx="428.8" cy="798.2" r="2.55"/><circle cx="436.1" cy="820.8" r="2.55"/><circle cx="328.0" cy="809.1" r="2.55"/><circle cx="454.4" cy="763.2" r="2.55"/><circle cx="366.7" cy="769.5" r="2.55"/><circle cx="376.4" cy="780.3" r="2.55"/><circle cx="355.5" cy="750.3" r="2.55"/><circle cx="454.4" cy="764.5" r="2.55"/><circle cx="396.3" cy="798.9" r="2.55"/><circle cx="379.1" cy="849.0" r="2.55"/><circle cx="393.3" cy="835.7" r="2.55"/><circle cx="338.2" cy="863.0" r="2.55"/><circle cx="392.4" cy="900.5" r="2.55"/><circle cx="566.5" cy="849.6" r="2.55"/><circle cx="525.2" cy="830.9" r="2.55"/><circle cx="552.6" cy="853.3" r="2.55"/><circle cx="571.7" cy="857.3" r="2.55"/><circle cx="563.4" cy="859.7" r="2.55"/><circle cx="539.7" cy="864.1" r="2.55"/><circle cx="524.4" cy="873.5" r="2.55"/><circle cx="517.7" cy="854.3" r="2.55"/><circle cx="562.0" cy="856.7" r="2.55"/><circle cx="538.9" cy="854.9" r="2.55"/><circle cx="534.9" cy="856.9" r="2.55"/><circle cx="548.7" cy="844.9" r="2.55"/><circle cx="528.8" cy="857.4" r="2.55"/><circle cx="495.1" cy="858.9" r="2.55"/><circle cx="574.1" cy="831.0" r="2.55"/><circle cx="542.1" cy="854.1" r="2.55"/><circle cx="541.4" cy="850.4" r="2.55"/><circle cx="587.1" cy="800.6" r="2.55"/><circle cx="527.2" cy="835.9" r="2.55"/><circle cx="537.0" cy="849.3" r="2.55"/><circle cx="545.6" cy="848.8" r="2.55"/><circle cx="544.9" cy="868.6" r="2.55"/><circle cx="526.3" cy="843.4" r="2.55"/><circle cx="521.1" cy="874.7" r="2.55"/><circle cx="532.6" cy="824.3" r="2.55"/><circle cx="548.6" cy="841.8" r="2.55"/><circle cx="551.2" cy="855.5" r="2.55"/><circle cx="576.0" cy="865.6" r="2.55"/><circle cx="580.2" cy="860.2" r="2.55"/><circle cx="578.3" cy="846.0" r="2.55"/><circle cx="546.9" cy="879.5" r="2.55"/><circle cx="536.0" cy="831.5" r="2.55"/><circle cx="545.0" cy="856.3" r="2.55"/><circle cx="505.9" cy="890.9" r="2.55"/><circle cx="521.6" cy="864.0" r="2.55"/><circle cx="495.7" cy="873.8" r="2.55"/><circle cx="545.6" cy="863.2" r="2.55"/><circle cx="560.7" cy="841.4" r="2.55"/><circle cx="521.0" cy="866.4" r="2.55"/><circle cx="550.5" cy="888.2" r="2.55"/><circle cx="543.0" cy="842.4" r="2.55"/><circle cx="521.4" cy="822.0" r="2.55"/><circle cx="484.7" cy="895.3" r="2.55"/><circle cx="584.8" cy="862.1" r="2.55"/><circle cx="548.6" cy="842.9" r="2.55"/><circle cx="540.1" cy="869.8" r="2.55"/><circle cx="576.1" cy="870.7" r="2.55"/><circle cx="518.6" cy="832.4" r="2.55"/><circle cx="525.1" cy="849.3" r="2.55"/><circle cx="558.4" cy="858.2" r="2.55"/><circle cx="540.3" cy="852.5" r="2.55"/><circle cx="517.6" cy="858.8" r="2.55"/><circle cx="538.4" cy="871.9" r="2.55"/><circle cx="525.7" cy="854.0" r="2.55"/><circle cx="573.6" cy="875.8" r="2.55"/><circle cx="536.5" cy="840.3" r="2.55"/><circle cx="546.1" cy="877.7" r="2.55"/><circle cx="577.1" cy="833.3" r="2.55"/><circle cx="508.8" cy="873.1" r="2.55"/><circle cx="520.3" cy="882.7" r="2.55"/><circle cx="534.0" cy="857.1" r="2.55"/><circle cx="508.7" cy="832.7" r="2.55"/><circle cx="525.5" cy="860.9" r="2.55"/><circle cx="537.3" cy="867.6" r="2.55"/><circle cx="555.9" cy="827.5" r="2.55"/><circle cx="537.3" cy="871.0" r="2.55"/><circle cx="562.4" cy="863.5" r="2.55"/><circle cx="580.7" cy="840.7" r="2.55"/><circle cx="548.4" cy="851.0" r="2.55"/><circle cx="585.1" cy="826.4" r="2.55"/><circle cx="542.8" cy="846.7" r="2.55"/><circle cx="578.2" cy="810.1" r="2.55"/><circle cx="532.9" cy="836.8" r="2.55"/><circle cx="519.1" cy="891.7" r="2.55"/><circle cx="519.7" cy="852.4" r="2.55"/><circle cx="544.5" cy="856.4" r="2.55"/><circle cx="530.2" cy="844.5" r="2.55"/><circle cx="557.3" cy="862.5" r="2.55"/><circle cx="494.7" cy="876.2" r="2.55"/><circle cx="527.4" cy="860.9" r="2.55"/><circle cx="552.0" cy="829.6" r="2.55"/><circle cx="485.8" cy="859.8" r="2.55"/><circle cx="521.9" cy="870.6" r="2.55"/><circle cx="578.8" cy="854.8" r="2.55"/><circle cx="488.6" cy="840.2" r="2.55"/><circle cx="566.1" cy="849.9" r="2.55"/><circle cx="517.7" cy="869.0" r="2.55"/><circle cx="586.6" cy="852.2" r="2.55"/><circle cx="576.3" cy="853.0" r="2.55"/><circle cx="534.2" cy="874.7" r="2.55"/><circle cx="546.4" cy="844.2" r="2.55"/><circle cx="520.0" cy="860.4" r="2.55"/><circle cx="512.2" cy="849.4" r="2.55"/><circle cx="532.7" cy="851.1" r="2.55"/><circle cx="510.3" cy="844.8" r="2.55"/><circle cx="605.1" cy="857.7" r="2.55"/><circle cx="560.1" cy="825.4" r="2.55"/><circle cx="541.7" cy="835.4" r="2.55"/><circle cx="551.3" cy="847.8" r="2.55"/><circle cx="525.2" cy="811.8" r="2.55"/><circle cx="576.0" cy="856.1" r="2.55"/><circle cx="553.3" cy="850.8" r="2.55"/><circle cx="486.6" cy="856.7" r="2.55"/><circle cx="541.5" cy="867.6" r="2.55"/><circle cx="523.3" cy="829.8" r="2.55"/><circle cx="571.8" cy="838.3" r="2.55"/><circle cx="586.7" cy="854.3" r="2.55"/><circle cx="538.3" cy="878.5" r="2.55"/><circle cx="515.4" cy="814.7" r="2.55"/><circle cx="525.9" cy="856.7" r="2.55"/><circle cx="507.7" cy="863.0" r="2.55"/><circle cx="537.4" cy="845.3" r="2.55"/><circle cx="532.0" cy="856.4" r="2.55"/><circle cx="545.3" cy="854.2" r="2.55"/><circle cx="524.3" cy="857.4" r="2.55"/><circle cx="540.5" cy="873.5" r="2.55"/><circle cx="543.0" cy="868.9" r="2.55"/><circle cx="534.2" cy="876.9" r="2.55"/><circle cx="555.8" cy="848.5" r="2.55"/><circle cx="544.6" cy="859.4" r="2.55"/><circle cx="574.0" cy="831.3" r="2.55"/><circle cx="544.7" cy="846.0" r="2.55"/><circle cx="507.4" cy="874.2" r="2.55"/><circle cx="498.6" cy="861.5" r="2.55"/><circle cx="567.5" cy="884.3" r="2.55"/><circle cx="507.7" cy="851.4" r="2.55"/><circle cx="514.3" cy="853.1" r="2.55"/><circle cx="555.2" cy="852.8" r="2.55"/><circle cx="529.9" cy="859.6" r="2.55"/><circle cx="524.9" cy="853.6" r="2.55"/><circle cx="525.7" cy="843.4" r="2.55"/><circle cx="526.4" cy="848.2" r="2.55"/><circle cx="570.9" cy="866.1" r="2.55"/><circle cx="545.2" cy="843.8" r="2.55"/><circle cx="591.3" cy="850.4" r="2.55"/><circle cx="533.4" cy="827.7" r="2.55"/><circle cx="542.2" cy="837.7" r="2.55"/><circle cx="581.0" cy="835.3" r="2.55"/><circle cx="531.7" cy="816.4" r="2.55"/><circle cx="564.1" cy="837.2" r="2.55"/><circle cx="573.5" cy="855.2" r="2.55"/><circle cx="535.4" cy="857.3" r="2.55"/><circle cx="529.2" cy="888.9" r="2.55"/><circle cx="491.8" cy="840.2" r="2.55"/><circle cx="537.8" cy="845.3" r="2.55"/><circle cx="536.9" cy="851.5" r="2.55"/><circle cx="551.6" cy="842.1" r="2.55"/><circle cx="547.5" cy="853.0" r="2.55"/><circle cx="537.4" cy="848.6" r="2.55"/><circle cx="564.1" cy="825.0" r="2.55"/><circle cx="507.3" cy="863.0" r="2.55"/><circle cx="548.6" cy="870.2" r="2.55"/><circle cx="558.5" cy="865.2" r="2.55"/><circle cx="567.8" cy="867.6" r="2.55"/><circle cx="516.7" cy="863.0" r="2.55"/><circle cx="513.7" cy="898.7" r="2.55"/><circle cx="602.2" cy="823.5" r="2.55"/><circle cx="534.6" cy="863.0" r="2.55"/><circle cx="573.4" cy="876.9" r="2.55"/><circle cx="533.6" cy="865.7" r="2.55"/><circle cx="556.3" cy="848.2" r="2.55"/><circle cx="514.2" cy="856.2" r="2.55"/><circle cx="558.9" cy="863.9" r="2.55"/><circle cx="542.2" cy="834.0" r="2.55"/><circle cx="542.2" cy="852.9" r="2.55"/><circle cx="563.8" cy="861.4" r="2.55"/><circle cx="520.3" cy="847.2" r="2.55"/><circle cx="540.5" cy="887.7" r="2.55"/><circle cx="556.8" cy="831.2" r="2.55"/><circle cx="573.1" cy="868.5" r="2.55"/><circle cx="503.6" cy="847.8" r="2.55"/><circle cx="531.4" cy="835.7" r="2.55"/><circle cx="509.8" cy="886.4" r="2.55"/><circle cx="590.2" cy="823.0" r="2.55"/><circle cx="537.2" cy="868.2" r="2.55"/><circle cx="559.6" cy="875.6" r="2.55"/><circle cx="557.4" cy="848.5" r="2.55"/><circle cx="511.8" cy="870.5" r="2.55"/><circle cx="515.4" cy="873.7" r="2.55"/><circle cx="521.2" cy="878.0" r="2.55"/><circle cx="581.3" cy="840.8" r="2.55"/><circle cx="564.5" cy="845.2" r="2.55"/><circle cx="552.4" cy="862.2" r="2.55"/><circle cx="552.5" cy="882.6" r="2.55"/><circle cx="551.0" cy="875.3" r="2.55"/><circle cx="561.5" cy="842.1" r="2.55"/><circle cx="553.4" cy="889.1" r="2.55"/><circle cx="549.1" cy="852.7" r="2.55"/><circle cx="559.2" cy="808.1" r="2.55"/><circle cx="537.2" cy="872.6" r="2.55"/><circle cx="549.2" cy="865.0" r="2.55"/><circle cx="538.6" cy="837.5" r="2.55"/><circle cx="535.2" cy="872.9" r="2.55"/><circle cx="602.9" cy="806.4" r="2.55"/><circle cx="534.8" cy="870.0" r="2.55"/><circle cx="542.3" cy="886.0" r="2.55"/><circle cx="552.2" cy="846.5" r="2.55"/><circle cx="560.3" cy="860.2" r="2.55"/><circle cx="556.0" cy="821.8" r="2.55"/><circle cx="563.5" cy="844.0" r="2.55"/><circle cx="547.8" cy="855.4" r="2.55"/><circle cx="544.5" cy="838.8" r="2.55"/><circle cx="552.9" cy="865.1" r="2.55"/><circle cx="591.0" cy="865.4" r="2.55"/><circle cx="515.3" cy="871.5" r="2.55"/><circle cx="554.5" cy="872.5" r="2.55"/><circle cx="549.0" cy="895.2" r="2.55"/><circle cx="561.2" cy="829.3" r="2.55"/><circle cx="499.8" cy="855.6" r="2.55"/><circle cx="562.6" cy="858.4" r="2.55"/><circle cx="567.3" cy="827.5" r="2.55"/><circle cx="534.1" cy="873.5" r="2.55"/><circle cx="540.8" cy="856.3" r="2.55"/><circle cx="554.4" cy="848.7" r="2.55"/><circle cx="542.3" cy="844.9" r="2.55"/><circle cx="511.3" cy="869.8" r="2.55"/><circle cx="551.4" cy="866.1" r="2.55"/><circle cx="541.7" cy="856.7" r="2.55"/><circle cx="513.7" cy="887.8" r="2.55"/><circle cx="549.6" cy="871.8" r="2.55"/><circle cx="519.6" cy="874.6" r="2.55"/><circle cx="543.1" cy="860.5" r="2.55"/><circle cx="516.9" cy="905.1" r="2.55"/><circle cx="513.5" cy="853.8" r="2.55"/><circle cx="535.7" cy="884.0" r="2.55"/><circle cx="565.5" cy="868.6" r="2.55"/><circle cx="530.5" cy="858.6" r="2.55"/><circle cx="517.1" cy="862.0" r="2.55"/><circle cx="567.7" cy="849.8" r="2.55"/><circle cx="545.4" cy="862.6" r="2.55"/><circle cx="522.5" cy="840.1" r="2.55"/><circle cx="514.0" cy="880.4" r="2.55"/><circle cx="554.2" cy="840.5" r="2.55"/><circle cx="486.3" cy="864.3" r="2.55"/><circle cx="542.0" cy="874.7" r="2.55"/><circle cx="516.7" cy="863.7" r="2.55"/><circle cx="496.1" cy="856.3" r="2.55"/><circle cx="554.7" cy="839.0" r="2.55"/><circle cx="538.4" cy="885.8" r="2.55"/><circle cx="530.8" cy="845.0" r="2.55"/><circle cx="523.4" cy="865.1" r="2.55"/><circle cx="522.6" cy="858.9" r="2.55"/><circle cx="559.3" cy="856.8" r="2.55"/><circle cx="560.0" cy="858.4" r="2.55"/><circle cx="533.1" cy="871.2" r="2.55"/><circle cx="575.4" cy="833.7" r="2.55"/><circle cx="545.6" cy="892.6" r="2.55"/><circle cx="535.7" cy="857.5" r="2.55"/><circle cx="530.0" cy="860.1" r="2.55"/><circle cx="541.2" cy="900.0" r="2.55"/><circle cx="397.0" cy="875.3" r="2.55"/><circle cx="521.0" cy="881.8" r="2.55"/><circle cx="579.3" cy="885.1" r="2.55"/><circle cx="568.6" cy="811.1" r="2.55"/><circle cx="604.5" cy="820.0" r="2.55"/><circle cx="642.8" cy="786.6" r="2.55"/><circle cx="650.9" cy="866.9" r="2.55"/><circle cx="620.0" cy="864.5" r="2.55"/><circle cx="633.4" cy="883.5" r="2.55"/><circle cx="588.2" cy="866.8" r="2.55"/><circle cx="549.0" cy="808.8" r="2.55"/><circle cx="627.4" cy="781.0" r="2.55"/><circle cx="528.8" cy="801.1" r="2.55"/><circle cx="560.5" cy="901.1" r="2.55"/><circle cx="509.2" cy="862.1" r="2.55"/><circle cx="504.6" cy="883.4" r="2.55"/><circle cx="551.4" cy="862.4" r="2.55"/><circle cx="638.5" cy="895.8" r="2.55"/><circle cx="590.7" cy="836.4" r="2.55"/><circle cx="604.2" cy="869.7" r="2.55"/><circle cx="608.4" cy="823.9" r="2.55"/><circle cx="635.0" cy="840.2" r="2.55"/><circle cx="651.0" cy="884.1" r="2.55"/><circle cx="642.0" cy="883.1" r="2.55"/><circle cx="664.6" cy="838.0" r="2.55"/><circle cx="584.8" cy="820.7" r="2.55"/><circle cx="608.8" cy="861.4" r="2.55"/><circle cx="623.2" cy="798.0" r="2.55"/><circle cx="530.5" cy="856.8" r="2.55"/><circle cx="462.5" cy="891.9" r="2.55"/><circle cx="676.4" cy="887.3" r="2.55"/><circle cx="656.4" cy="869.0" r="2.55"/><circle cx="684.2" cy="843.6" r="2.55"/><circle cx="547.2" cy="907.2" r="2.55"/><circle cx="654.8" cy="856.4" r="2.55"/><circle cx="617.7" cy="848.9" r="2.55"/><circle cx="582.0" cy="839.1" r="2.55"/><circle cx="655.3" cy="853.9" r="2.55"/><circle cx="567.6" cy="917.9" r="2.55"/><circle cx="598.4" cy="861.4" r="2.55"/><circle cx="547.7" cy="905.1" r="2.55"/><circle cx="573.8" cy="877.9" r="2.55"/><circle cx="615.4" cy="872.6" r="2.55"/><circle cx="639.3" cy="862.4" r="2.55"/><circle cx="639.6" cy="853.0" r="2.55"/><circle cx="563.1" cy="870.6" r="2.55"/><circle cx="646.1" cy="850.1" r="2.55"/><circle cx="554.6" cy="840.3" r="2.55"/><circle cx="544.3" cy="858.3" r="2.55"/><circle cx="465.4" cy="896.3" r="2.55"/><circle cx="600.3" cy="891.3" r="2.55"/><circle cx="602.6" cy="836.0" r="2.55"/><circle cx="569.8" cy="845.1" r="2.55"/><circle cx="565.5" cy="923.5" r="2.55"/><circle cx="596.2" cy="831.5" r="2.55"/><circle cx="526.9" cy="886.2" r="2.55"/><circle cx="592.9" cy="885.5" r="2.55"/><circle cx="600.5" cy="812.4" r="2.55"/><circle cx="602.3" cy="812.9" r="2.55"/><circle cx="526.5" cy="826.8" r="2.55"/><circle cx="592.5" cy="896.3" r="2.55"/><circle cx="548.8" cy="886.1" r="2.55"/><circle cx="530.3" cy="943.7" r="2.55"/><circle cx="521.1" cy="861.8" r="2.55"/><circle cx="540.1" cy="889.1" r="2.55"/><circle cx="678.4" cy="819.2" r="2.55"/><circle cx="575.7" cy="815.0" r="2.55"/><circle cx="473.8" cy="885.6" r="2.55"/><circle cx="632.2" cy="809.1" r="2.55"/><circle cx="640.1" cy="828.4" r="2.55"/><circle cx="601.9" cy="810.2" r="2.55"/><circle cx="460.1" cy="862.0" r="2.55"/><circle cx="466.0" cy="905.1" r="2.55"/><circle cx="580.6" cy="957.2" r="2.55"/><circle cx="558.7" cy="837.9" r="2.55"/><circle cx="542.9" cy="837.5" r="2.55"/><circle cx="595.9" cy="865.3" r="2.55"/><circle cx="444.9" cy="922.6" r="2.55"/><circle cx="583.1" cy="902.7" r="2.55"/><circle cx="536.4" cy="875.0" r="2.55"/><circle cx="545.1" cy="835.4" r="2.55"/><circle cx="681.7" cy="856.0" r="2.55"/><circle cx="567.1" cy="848.8" r="2.55"/><circle cx="520.8" cy="879.6" r="2.55"/><circle cx="534.3" cy="840.6" r="2.55"/><circle cx="560.2" cy="851.0" r="2.55"/><circle cx="633.0" cy="817.1" r="2.55"/><circle cx="489.2" cy="917.3" r="2.55"/><circle cx="558.5" cy="830.2" r="2.55"/><circle cx="644.4" cy="871.8" r="2.55"/><circle cx="469.9" cy="914.6" r="2.55"/><circle cx="644.5" cy="899.9" r="2.55"/><circle cx="585.9" cy="835.5" r="2.55"/><circle cx="575.5" cy="909.2" r="2.55"/><circle cx="561.8" cy="902.8" r="2.55"/><circle cx="509.1" cy="865.0" r="2.55"/><circle cx="606.5" cy="872.9" r="2.55"/><circle cx="594.9" cy="793.1" r="2.55"/><circle cx="647.4" cy="876.8" r="2.55"/><circle cx="619.5" cy="814.3" r="2.55"/><circle cx="641.5" cy="832.4" r="2.55"/><circle cx="511.2" cy="879.4" r="2.55"/><circle cx="487.8" cy="849.8" r="2.55"/><circle cx="601.2" cy="852.0" r="2.55"/><circle cx="525.5" cy="938.4" r="2.55"/><circle cx="542.4" cy="836.4" r="2.55"/><circle cx="547.5" cy="859.3" r="2.55"/><circle cx="579.4" cy="866.0" r="2.55"/><circle cx="582.6" cy="840.5" r="2.55"/><circle cx="536.3" cy="890.4" r="2.55"/><circle cx="557.7" cy="848.6" r="2.55"/><circle cx="604.3" cy="853.6" r="2.55"/><circle cx="515.2" cy="856.9" r="2.55"/><circle cx="613.6" cy="864.2" r="2.55"/><circle cx="571.2" cy="918.4" r="2.55"/><circle cx="563.9" cy="853.7" r="2.55"/><circle cx="579.1" cy="842.6" r="2.55"/><circle cx="522.8" cy="892.4" r="2.55"/><circle cx="596.2" cy="857.3" r="2.55"/><circle cx="552.0" cy="807.3" r="2.55"/><circle cx="586.2" cy="762.0" r="2.55"/><circle cx="601.9" cy="832.7" r="2.55"/><circle cx="511.3" cy="827.0" r="2.55"/><circle cx="594.6" cy="915.9" r="2.55"/><circle cx="628.8" cy="820.6" r="2.55"/><circle cx="571.4" cy="830.0" r="2.55"/><circle cx="591.9" cy="827.6" r="2.55"/><circle cx="551.9" cy="908.1" r="2.55"/><circle cx="512.3" cy="845.3" r="2.55"/><circle cx="605.4" cy="798.3" r="2.55"/><circle cx="445.4" cy="873.9" r="2.55"/><circle cx="525.0" cy="890.5" r="2.55"/><circle cx="617.8" cy="845.5" r="2.55"/><circle cx="656.1" cy="895.0" r="2.55"/><circle cx="542.7" cy="835.3" r="2.55"/><circle cx="588.5" cy="803.7" r="2.55"/><circle cx="501.8" cy="887.4" r="2.55"/><circle cx="634.7" cy="831.6" r="2.55"/><circle cx="623.0" cy="872.4" r="2.55"/><circle cx="536.7" cy="954.4" r="2.55"/><circle cx="516.1" cy="885.3" r="2.55"/><circle cx="565.1" cy="798.2" r="2.55"/><circle cx="651.1" cy="869.0" r="2.55"/><circle cx="634.8" cy="826.2" r="2.55"/><circle cx="562.0" cy="945.5" r="2.55"/><circle cx="634.0" cy="862.9" r="2.55"/><circle cx="601.0" cy="897.3" r="2.55"/><circle cx="478.4" cy="923.2" r="2.55"/><circle cx="630.6" cy="864.9" r="2.55"/><circle cx="564.8" cy="877.9" r="2.55"/><circle cx="606.6" cy="807.7" r="2.55"/><circle cx="532.3" cy="904.0" r="2.55"/><circle cx="549.3" cy="868.2" r="2.55"/><circle cx="562.3" cy="869.7" r="2.55"/><circle cx="669.2" cy="880.3" r="2.55"/><circle cx="571.5" cy="829.0" r="2.55"/><circle cx="690.2" cy="842.4" r="2.55"/><circle cx="610.3" cy="862.4" r="2.55"/><circle cx="604.6" cy="813.1" r="2.55"/><circle cx="478.1" cy="903.2" r="2.55"/><circle cx="630.2" cy="823.0" r="2.55"/><circle cx="586.2" cy="849.6" r="2.55"/><circle cx="477.9" cy="872.3" r="2.55"/><circle cx="598.9" cy="819.0" r="2.55"/><circle cx="530.1" cy="846.0" r="2.55"/><circle cx="548.5" cy="816.1" r="2.55"/><circle cx="639.2" cy="842.0" r="2.55"/><circle cx="617.2" cy="910.6" r="2.55"/><circle cx="539.6" cy="871.9" r="2.55"/><circle cx="632.7" cy="836.2" r="2.55"/><circle cx="591.8" cy="876.4" r="2.55"/><circle cx="581.5" cy="941.3" r="2.55"/><circle cx="572.2" cy="850.1" r="2.55"/><circle cx="545.7" cy="833.5" r="2.55"/><circle cx="483.3" cy="901.2" r="2.55"/><circle cx="561.0" cy="891.0" r="2.55"/><circle cx="656.2" cy="814.0" r="2.55"/><circle cx="604.5" cy="799.3" r="2.55"/><circle cx="660.1" cy="825.0" r="2.55"/><circle cx="560.5" cy="831.1" r="2.55"/><circle cx="512.3" cy="788.8" r="2.55"/><circle cx="478.6" cy="853.8" r="2.55"/><circle cx="605.2" cy="888.8" r="2.55"/><circle cx="472.4" cy="869.4" r="2.55"/><circle cx="524.5" cy="866.0" r="2.55"/><circle cx="634.4" cy="842.1" r="2.55"/><circle cx="660.6" cy="888.1" r="2.55"/><circle cx="485.9" cy="945.0" r="2.55"/><circle cx="668.0" cy="850.6" r="2.55"/><circle cx="517.5" cy="818.0" r="2.55"/><circle cx="637.7" cy="855.1" r="2.55"/><circle cx="518.3" cy="869.7" r="2.55"/><circle cx="642.1" cy="871.1" r="2.55"/><circle cx="470.6" cy="960.6" r="2.55"/><circle cx="581.2" cy="893.6" r="2.55"/><circle cx="547.5" cy="847.8" r="2.55"/><circle cx="585.5" cy="869.1" r="2.55"/><circle cx="616.7" cy="796.9" r="2.55"/><circle cx="607.2" cy="871.9" r="2.55"/><circle cx="555.2" cy="851.9" r="2.55"/><circle cx="605.1" cy="861.0" r="2.55"/><circle cx="569.8" cy="832.2" r="2.55"/><circle cx="562.9" cy="839.1" r="2.55"/><circle cx="501.1" cy="833.1" r="2.55"/><circle cx="541.2" cy="848.2" r="2.55"/><circle cx="525.5" cy="875.1" r="2.55"/><circle cx="550.6" cy="893.3" r="2.55"/><circle cx="597.1" cy="841.1" r="2.55"/><circle cx="494.8" cy="914.7" r="2.55"/><circle cx="663.5" cy="870.3" r="2.55"/><circle cx="629.6" cy="818.1" r="2.55"/><circle cx="621.9" cy="830.2" r="2.55"/><circle cx="578.4" cy="737.1" r="2.55"/><circle cx="503.8" cy="874.9" r="2.55"/><circle cx="651.2" cy="825.7" r="2.55"/><circle cx="508.9" cy="871.5" r="2.55"/><circle cx="516.2" cy="774.5" r="2.55"/><circle cx="502.3" cy="873.0" r="2.55"/><circle cx="550.9" cy="863.1" r="2.55"/><circle cx="599.4" cy="800.5" r="2.55"/><circle cx="496.5" cy="834.3" r="2.55"/><circle cx="583.1" cy="820.2" r="2.55"/><circle cx="526.4" cy="856.9" r="2.55"/><circle cx="484.5" cy="859.1" r="2.55"/><circle cx="530.4" cy="858.7" r="2.55"/><circle cx="567.2" cy="870.5" r="2.55"/><circle cx="505.0" cy="896.5" r="2.55"/><circle cx="524.0" cy="912.9" r="2.55"/><circle cx="524.3" cy="896.9" r="2.55"/><circle cx="598.4" cy="896.8" r="2.55"/><circle cx="581.8" cy="882.5" r="2.55"/><circle cx="497.2" cy="897.7" r="2.55"/><circle cx="525.5" cy="866.6" r="2.55"/><circle cx="480.4" cy="854.1" r="2.55"/><circle cx="578.6" cy="875.9" r="2.55"/><circle cx="599.1" cy="828.5" r="2.55"/><circle cx="501.8" cy="858.1" r="2.55"/><circle cx="516.7" cy="868.6" r="2.55"/><circle cx="630.3" cy="893.1" r="2.55"/><circle cx="492.7" cy="798.1" r="2.55"/><circle cx="453.8" cy="885.3" r="2.55"/><circle cx="393.4" cy="895.0" r="2.55"/><circle cx="598.2" cy="880.5" r="2.55"/><circle cx="567.9" cy="821.8" r="2.55"/><circle cx="449.1" cy="855.6" r="2.55"/><circle cx="575.6" cy="871.6" r="2.55"/><circle cx="650.1" cy="848.1" r="2.55"/><circle cx="607.1" cy="842.6" r="2.55"/><circle cx="505.8" cy="871.9" r="2.55"/><circle cx="459.4" cy="885.9" r="2.55"/><circle cx="620.1" cy="816.9" r="2.55"/><circle cx="444.7" cy="899.9" r="2.55"/><circle cx="523.4" cy="880.3" r="2.55"/><circle cx="483.9" cy="885.2" r="2.55"/><circle cx="589.7" cy="916.0" r="2.55"/><circle cx="555.4" cy="871.9" r="2.55"/><circle cx="514.0" cy="799.0" r="2.55"/><circle cx="696.5" cy="776.4" r="2.55"/><circle cx="659.0" cy="795.4" r="2.55"/><circle cx="656.0" cy="844.0" r="2.55"/><circle cx="589.6" cy="971.9" r="2.55"/><circle cx="514.5" cy="878.6" r="2.55"/><circle cx="389.0" cy="816.0" r="2.55"/><circle cx="419.2" cy="848.3" r="2.55"/><circle cx="665.9" cy="896.5" r="2.55"/><circle cx="651.4" cy="863.8" r="2.55"/><circle cx="610.2" cy="894.9" r="2.55"/><circle cx="454.6" cy="839.6" r="2.55"/><circle cx="522.1" cy="817.7" r="2.55"/><circle cx="586.5" cy="819.0" r="2.55"/><circle cx="477.7" cy="804.4" r="2.55"/><circle cx="501.2" cy="882.0" r="2.55"/><circle cx="495.1" cy="848.4" r="2.55"/><circle cx="419.9" cy="871.0" r="2.55"/><circle cx="500.1" cy="900.4" r="2.55"/><circle cx="314.3" cy="869.2" r="2.55"/><circle cx="543.4" cy="814.7" r="2.55"/><circle cx="403.2" cy="816.5" r="2.55"/><circle cx="495.7" cy="784.1" r="2.55"/><circle cx="571.3" cy="871.8" r="2.55"/><circle cx="538.7" cy="818.4" r="2.55"/><circle cx="489.9" cy="852.4" r="2.55"/><circle cx="448.1" cy="837.9" r="2.55"/><circle cx="536.8" cy="862.5" r="2.55"/><circle cx="528.6" cy="926.1" r="2.55"/><circle cx="520.4" cy="846.3" r="2.55"/><circle cx="429.7" cy="857.7" r="2.55"/><circle cx="398.5" cy="806.7" r="2.55"/><circle cx="585.1" cy="880.9" r="2.55"/><circle cx="620.3" cy="800.4" r="2.55"/><circle cx="582.0" cy="919.2" r="2.55"/><circle cx="482.1" cy="884.1" r="2.55"/><circle cx="417.7" cy="897.5" r="2.55"/><circle cx="405.8" cy="764.9" r="2.55"/><circle cx="422.6" cy="918.7" r="2.55"/><circle cx="433.6" cy="896.7" r="2.55"/><circle cx="456.7" cy="776.5" r="2.55"/><circle cx="539.5" cy="864.9" r="2.55"/><circle cx="469.9" cy="899.4" r="2.55"/><circle cx="292.9" cy="904.2" r="2.55"/><circle cx="497.4" cy="897.5" r="2.55"/><circle cx="438.3" cy="880.8" r="2.55"/><circle cx="416.2" cy="895.4" r="2.55"/><circle cx="647.3" cy="920.3" r="2.55"/><circle cx="407.9" cy="791.7" r="2.55"/><circle cx="462.1" cy="872.5" r="2.55"/><circle cx="510.4" cy="748.5" r="2.55"/><circle cx="644.5" cy="804.7" r="2.55"/><circle cx="578.7" cy="892.5" r="2.55"/><circle cx="509.5" cy="845.4" r="2.55"/><circle cx="499.6" cy="913.2" r="2.55"/><circle cx="526.7" cy="847.6" r="2.55"/><circle cx="498.8" cy="937.4" r="2.55"/><circle cx="605.9" cy="861.4" r="2.55"/><circle cx="510.1" cy="798.7" r="2.55"/><circle cx="516.4" cy="818.8" r="2.55"/><circle cx="506.7" cy="828.7" r="2.55"/><circle cx="398.6" cy="789.5" r="2.55"/><circle cx="595.0" cy="877.1" r="2.55"/><circle cx="418.8" cy="959.6" r="2.55"/><circle cx="613.4" cy="883.8" r="2.55"/><circle cx="563.9" cy="859.3" r="2.55"/><circle cx="557.4" cy="854.1" r="2.55"/><circle cx="414.8" cy="843.8" r="2.55"/><circle cx="486.7" cy="818.8" r="2.55"/><circle cx="322.4" cy="879.6" r="2.55"/><circle cx="630.8" cy="959.7" r="2.55"/><circle cx="571.2" cy="879.2" r="2.55"/><circle cx="540.2" cy="927.4" r="2.55"/><circle cx="478.3" cy="917.6" r="2.55"/><circle cx="598.9" cy="877.0" r="2.55"/><circle cx="571.0" cy="860.9" r="2.55"/><circle cx="450.5" cy="801.1" r="2.55"/><circle cx="498.0" cy="862.9" r="2.55"/><circle cx="522.4" cy="835.1" r="2.55"/><circle cx="487.8" cy="806.7" r="2.55"/><circle cx="551.5" cy="842.1" r="2.55"/><circle cx="502.6" cy="872.9" r="2.55"/><circle cx="647.7" cy="830.8" r="2.55"/><circle cx="488.6" cy="887.7" r="2.55"/><circle cx="592.6" cy="827.4" r="2.55"/><circle cx="599.1" cy="904.0" r="2.55"/><circle cx="399.2" cy="936.9" r="2.55"/><circle cx="678.5" cy="894.7" r="2.55"/><circle cx="547.0" cy="847.5" r="2.55"/><circle cx="451.2" cy="780.0" r="2.55"/><circle cx="529.9" cy="749.4" r="2.55"/><circle cx="378.7" cy="876.2" r="2.55"/><circle cx="427.8" cy="829.1" r="2.55"/><circle cx="603.5" cy="911.3" r="2.55"/><circle cx="429.2" cy="851.5" r="2.55"/><circle cx="493.0" cy="746.1" r="2.55"/><circle cx="422.6" cy="856.9" r="2.55"/><circle cx="356.7" cy="854.8" r="2.55"/><circle cx="460.4" cy="957.3" r="2.55"/><circle cx="437.2" cy="787.4" r="2.55"/><circle cx="489.2" cy="848.4" r="2.55"/><circle cx="398.7" cy="772.0" r="2.55"/><circle cx="425.7" cy="767.9" r="2.55"/><circle cx="587.3" cy="908.0" r="2.55"/><circle cx="471.2" cy="729.5" r="2.55"/><circle cx="578.6" cy="878.6" r="2.55"/><circle cx="525.3" cy="902.0" r="2.55"/><circle cx="458.5" cy="814.7" r="2.55"/><circle cx="652.9" cy="821.8" r="2.55"/><circle cx="447.1" cy="747.3" r="2.55"/><circle cx="535.4" cy="849.9" r="2.55"/><circle cx="391.5" cy="896.8" r="2.55"/><circle cx="484.4" cy="742.6" r="2.55"/><circle cx="552.8" cy="921.8" r="2.55"/><circle cx="571.8" cy="839.2" r="2.55"/><circle cx="621.3" cy="875.3" r="2.55"/><circle cx="532.0" cy="872.8" r="2.55"/><circle cx="408.3" cy="908.2" r="2.55"/><circle cx="398.7" cy="774.6" r="2.55"/><circle cx="504.1" cy="903.4" r="2.55"/><circle cx="547.7" cy="849.4" r="2.55"/><circle cx="475.3" cy="843.2" r="2.55"/><circle cx="522.7" cy="832.7" r="2.55"/><circle cx="562.8" cy="820.9" r="2.55"/><circle cx="648.3" cy="827.5" r="2.55"/><circle cx="528.5" cy="823.3" r="2.55"/><circle cx="451.0" cy="789.1" r="2.55"/><circle cx="417.0" cy="901.0" r="2.55"/><circle cx="333.1" cy="835.9" r="2.55"/><circle cx="473.9" cy="860.3" r="2.55"/><circle cx="339.0" cy="750.9" r="2.55"/><circle cx="531.8" cy="888.9" r="2.55"/><circle cx="535.9" cy="882.1" r="2.55"/><circle cx="453.1" cy="857.2" r="2.55"/><circle cx="543.5" cy="720.7" r="2.55"/><circle cx="517.8" cy="736.4" r="2.55"/><circle cx="438.8" cy="780.1" r="2.55"/><circle cx="450.6" cy="788.0" r="2.55"/><circle cx="528.8" cy="780.4" r="2.55"/><circle cx="465.3" cy="756.7" r="2.55"/><circle cx="503.9" cy="796.1" r="2.55"/><circle cx="577.3" cy="705.8" r="2.55"/><circle cx="480.0" cy="737.4" r="2.55"/><circle cx="449.9" cy="829.2" r="2.55"/><circle cx="483.1" cy="808.0" r="2.55"/><circle cx="483.0" cy="739.4" r="2.55"/><circle cx="511.8" cy="754.2" r="2.55"/><circle cx="542.7" cy="762.5" r="2.55"/><circle cx="442.8" cy="757.8" r="2.55"/><circle cx="541.8" cy="725.4" r="2.55"/><circle cx="517.5" cy="772.5" r="2.55"/><circle cx="524.6" cy="766.9" r="2.55"/><circle cx="478.4" cy="734.4" r="2.55"/><circle cx="468.7" cy="757.6" r="2.55"/><circle cx="496.7" cy="792.6" r="2.55"/><circle cx="486.2" cy="815.5" r="2.55"/><circle cx="493.7" cy="738.0" r="2.55"/><circle cx="505.0" cy="739.7" r="2.55"/><circle cx="514.9" cy="721.7" r="2.55"/><circle cx="428.1" cy="764.9" r="2.55"/><circle cx="494.0" cy="743.1" r="2.55"/><circle cx="513.7" cy="747.6" r="2.55"/><circle cx="506.3" cy="733.5" r="2.55"/><circle cx="446.8" cy="735.8" r="2.55"/><circle cx="453.5" cy="704.9" r="2.55"/><circle cx="382.6" cy="708.7" r="2.55"/><circle cx="409.4" cy="750.2" r="2.55"/><circle cx="411.3" cy="723.5" r="2.55"/><circle cx="387.4" cy="700.8" r="2.55"/><circle cx="350.5" cy="748.6" r="2.55"/><circle cx="443.0" cy="719.5" r="2.55"/><circle cx="475.7" cy="742.2" r="2.55"/><circle cx="391.1" cy="720.1" r="2.55"/><circle cx="475.9" cy="760.9" r="2.55"/><circle cx="421.5" cy="752.9" r="2.55"/><circle cx="493.7" cy="755.5" r="2.55"/><circle cx="440.1" cy="748.5" r="2.55"/><circle cx="472.1" cy="724.0" r="2.55"/><circle cx="445.5" cy="728.5" r="2.55"/><circle cx="375.2" cy="734.3" r="2.55"/><circle cx="425.8" cy="713.6" r="2.55"/><circle cx="466.4" cy="757.1" r="2.55"/><circle cx="467.9" cy="723.8" r="2.55"/><circle cx="384.7" cy="751.3" r="2.55"/><circle cx="401.2" cy="758.3" r="2.55"/><circle cx="416.6" cy="740.9" r="2.55"/><circle cx="424.1" cy="736.0" r="2.55"/><circle cx="481.8" cy="745.2" r="2.55"/><circle cx="396.0" cy="765.3" r="2.55"/><circle cx="479.2" cy="741.1" r="2.55"/><circle cx="393.2" cy="719.4" r="2.55"/><circle cx="397.0" cy="717.1" r="2.55"/><circle cx="471.2" cy="731.9" r="2.55"/><circle cx="422.2" cy="734.7" r="2.55"/><circle cx="494.8" cy="862.0" r="2.55"/><circle cx="519.8" cy="876.8" r="2.55"/><circle cx="477.7" cy="899.0" r="2.55"/><circle cx="451.0" cy="947.2" r="2.55"/><circle cx="513.0" cy="896.8" r="2.55"/><circle cx="488.5" cy="909.0" r="2.55"/><circle cx="494.3" cy="854.4" r="2.55"/><circle cx="520.7" cy="927.3" r="2.55"/><circle cx="510.1" cy="894.2" r="2.55"/><circle cx="538.4" cy="898.0" r="2.55"/><circle cx="495.2" cy="853.7" r="2.55"/><circle cx="531.8" cy="894.0" r="2.55"/><circle cx="510.5" cy="852.2" r="2.55"/><circle cx="500.8" cy="875.9" r="2.55"/><circle cx="505.1" cy="873.2" r="2.55"/><circle cx="544.3" cy="870.9" r="2.55"/><circle cx="464.3" cy="882.9" r="2.55"/><circle cx="484.8" cy="901.1" r="2.55"/><circle cx="465.9" cy="898.8" r="2.55"/><circle cx="530.8" cy="873.2" r="2.55"/><circle cx="477.0" cy="931.6" r="2.55"/><circle cx="589.4" cy="827.5" r="2.55"/><circle cx="472.8" cy="896.8" r="2.55"/><circle cx="526.5" cy="840.0" r="2.55"/><circle cx="527.4" cy="870.3" r="2.55"/><circle cx="548.9" cy="862.2" r="2.55"/><circle cx="483.9" cy="885.5" r="2.55"/><circle cx="518.4" cy="873.6" r="2.55"/><circle cx="454.0" cy="863.5" r="2.55"/><circle cx="505.2" cy="871.2" r="2.55"/><circle cx="565.0" cy="847.2" r="2.55"/><circle cx="563.5" cy="852.9" r="2.55"/><circle cx="524.5" cy="871.1" r="2.55"/><circle cx="518.6" cy="898.4" r="2.55"/><circle cx="485.6" cy="901.6" r="2.55"/><circle cx="544.4" cy="837.9" r="2.55"/><circle cx="498.3" cy="908.3" r="2.55"/><circle cx="525.4" cy="889.3" r="2.55"/><circle cx="510.3" cy="906.8" r="2.55"/><circle cx="498.0" cy="883.5" r="2.55"/><circle cx="441.9" cy="907.8" r="2.55"/><circle cx="523.1" cy="913.4" r="2.55"/><circle cx="522.2" cy="931.7" r="2.55"/><circle cx="473.5" cy="906.1" r="2.55"/><circle cx="533.8" cy="857.1" r="2.55"/><circle cx="494.0" cy="905.3" r="2.55"/><circle cx="533.1" cy="885.7" r="2.55"/><circle cx="573.7" cy="856.0" r="2.55"/><circle cx="542.8" cy="836.9" r="2.55"/><circle cx="475.6" cy="907.6" r="2.55"/><circle cx="506.6" cy="900.5" r="2.55"/><circle cx="507.5" cy="907.8" r="2.55"/><circle cx="483.5" cy="900.1" r="2.55"/><circle cx="464.8" cy="906.6" r="2.55"/><circle cx="543.6" cy="891.5" r="2.55"/><circle cx="540.5" cy="843.7" r="2.55"/><circle cx="478.9" cy="898.1" r="2.55"/><circle cx="491.9" cy="877.2" r="2.55"/><circle cx="513.1" cy="866.6" r="2.55"/><circle cx="542.7" cy="907.6" r="2.55"/><circle cx="520.1" cy="899.2" r="2.55"/><circle cx="484.2" cy="876.4" r="2.55"/><circle cx="462.5" cy="947.3" r="2.55"/><circle cx="548.6" cy="804.5" r="2.55"/><circle cx="471.2" cy="898.6" r="2.55"/><circle cx="470.5" cy="894.0" r="2.55"/><circle cx="528.3" cy="870.3" r="2.55"/><circle cx="514.6" cy="842.8" r="2.55"/><circle cx="513.5" cy="926.6" r="2.55"/><circle cx="465.9" cy="868.1" r="2.55"/><circle cx="486.2" cy="897.4" r="2.55"/><circle cx="426.5" cy="940.2" r="2.55"/><circle cx="523.8" cy="864.9" r="2.55"/><circle cx="498.1" cy="887.0" r="2.55"/><circle cx="482.7" cy="867.9" r="2.55"/><circle cx="490.6" cy="909.3" r="2.55"/><circle cx="530.1" cy="882.9" r="2.55"/><circle cx="478.8" cy="914.7" r="2.55"/><circle cx="547.7" cy="895.6" r="2.55"/><circle cx="526.0" cy="876.9" r="2.55"/><circle cx="507.3" cy="902.1" r="2.55"/><circle cx="511.1" cy="826.8" r="2.55"/><circle cx="477.6" cy="908.1" r="2.55"/><circle cx="520.2" cy="843.6" r="2.55"/><circle cx="441.1" cy="878.3" r="2.55"/><circle cx="551.0" cy="876.7" r="2.55"/><circle cx="523.9" cy="943.0" r="2.55"/><circle cx="576.9" cy="867.4" r="2.55"/><circle cx="512.9" cy="879.1" r="2.55"/><circle cx="525.6" cy="856.1" r="2.55"/><circle cx="601.0" cy="734.8" r="2.55"/><circle cx="608.1" cy="721.8" r="2.55"/><circle cx="537.3" cy="748.8" r="2.55"/><circle cx="607.8" cy="716.7" r="2.55"/><circle cx="581.8" cy="717.5" r="2.55"/><circle cx="553.5" cy="747.2" r="2.55"/><circle cx="589.3" cy="737.1" r="2.55"/><circle cx="603.7" cy="750.6" r="2.55"/><circle cx="461.0" cy="525.0" r="2.55"/><circle cx="557.0" cy="578.0" r="2.55"/><circle cx="409.0" cy="611.0" r="2.55"/><circle cx="615.0" cy="663.0" r="2.55"/><circle cx="573.0" cy="691.0" r="2.55"/><circle cx="579.0" cy="692.0" r="2.55"/><circle cx="556.0" cy="700.0" r="2.55"/><circle cx="574.0" cy="711.0" r="2.55"/><circle cx="549.0" cy="733.0" r="2.55"/></g>
<g id="cdgray" fill="#707070"><circle cx="299.3" cy="1411.0" r="1.4"/><circle cx="307.8" cy="1409.5" r="1.4"/><circle cx="316.2" cy="1407.8" r="1.4"/><circle cx="323.7" cy="1408.9" r="1.4"/><circle cx="333.8" cy="1406.3" r="1.4"/><circle cx="341.2" cy="1404.5" r="1.4"/><circle cx="348.8" cy="1404.0" r="1.4"/><circle cx="358.6" cy="1403.1" r="1.4"/><circle cx="366.9" cy="1402.6" r="1.4"/><circle cx="373.0" cy="1398.4" r="1.4"/><circle cx="382.8" cy="1399.4" r="1.4"/><circle cx="392.5" cy="1399.2" r="1.4"/><circle cx="399.6" cy="1394.9" r="1.4"/><circle cx="408.6" cy="1395.9" r="1.4"/><circle cx="416.2" cy="1392.8" r="1.4"/><circle cx="425.1" cy="1393.0" r="1.4"/><circle cx="430.7" cy="1390.1" r="1.4"/><circle cx="441.3" cy="1388.5" r="1.4"/><circle cx="447.8" cy="1387.7" r="1.4"/><circle cx="454.7" cy="1384.4" r="1.4"/><circle cx="463.4" cy="1382.8" r="1.4"/><circle cx="469.6" cy="1383.0" r="1.4"/><circle cx="476.0" cy="1378.9" r="1.4"/><circle cx="486.0" cy="1378.4" r="1.4"/><circle cx="491.4" cy="1377.1" r="1.4"/><circle cx="381.2" cy="1533.6" r="1.4"/><circle cx="440.4" cy="1590.8" r="1.4"/><circle cx="385.2" cy="1516.4" r="1.4"/><circle cx="356.9" cy="1525.7" r="1.4"/><circle cx="447.8" cy="1601.2" r="1.4"/><circle cx="438.7" cy="1464.9" r="1.4"/><circle cx="371.2" cy="1694.2" r="1.4"/><circle cx="472.9" cy="1548.1" r="1.4"/><circle cx="519.6" cy="1463.0" r="1.4"/><circle cx="371.6" cy="1533.2" r="1.4"/><circle cx="372.7" cy="1450.7" r="1.4"/><circle cx="416.7" cy="1519.4" r="1.4"/><circle cx="419.6" cy="1448.7" r="1.4"/><circle cx="354.9" cy="1526.8" r="1.4"/><circle cx="488.0" cy="1473.2" r="1.4"/><circle cx="501.2" cy="1554.7" r="1.4"/><circle cx="476.5" cy="1607.0" r="1.4"/><circle cx="428.3" cy="1625.6" r="1.4"/><circle cx="450.1" cy="1471.0" r="1.4"/><circle cx="481.6" cy="1466.7" r="1.4"/><circle cx="482.2" cy="1467.2" r="1.4"/><circle cx="386.0" cy="1467.3" r="1.4"/><circle cx="435.4" cy="1533.7" r="1.4"/><circle cx="454.2" cy="1580.5" r="1.4"/><circle cx="447.3" cy="1605.3" r="1.4"/><circle cx="398.2" cy="1552.1" r="1.4"/><circle cx="436.8" cy="1595.7" r="1.4"/><circle cx="438.6" cy="1493.9" r="1.4"/><circle cx="358.0" cy="1436.0" r="1.4"/><circle cx="439.0" cy="1633.4" r="1.4"/><circle cx="452.3" cy="1544.7" r="1.4"/><circle cx="373.0" cy="1591.0" r="1.4"/><circle cx="370.1" cy="1546.5" r="1.4"/><circle cx="400.5" cy="1425.6" r="1.4"/><circle cx="375.5" cy="1480.2" r="1.4"/><circle cx="426.3" cy="1684.9" r="1.4"/><circle cx="429.6" cy="1417.4" r="1.4"/><circle cx="405.6" cy="1609.4" r="1.4"/><circle cx="427.9" cy="1565.7" r="1.4"/><circle cx="342.9" cy="1486.5" r="1.4"/><circle cx="309.0" cy="1468.6" r="1.4"/><circle cx="419.6" cy="1528.8" r="1.4"/><circle cx="422.1" cy="1527.5" r="1.4"/><circle cx="458.2" cy="1470.6" r="1.4"/><circle cx="436.2" cy="1572.1" r="1.4"/><circle cx="450.6" cy="1588.8" r="1.4"/><circle cx="454.0" cy="1472.8" r="1.4"/><circle cx="469.3" cy="1536.0" r="1.4"/><circle cx="435.8" cy="1405.3" r="1.4"/><circle cx="475.1" cy="1668.2" r="1.4"/><circle cx="414.8" cy="1509.9" r="1.4"/><circle cx="397.0" cy="1576.4" r="1.4"/><circle cx="397.7" cy="1547.3" r="1.4"/><circle cx="432.4" cy="1551.6" r="1.4"/><circle cx="408.9" cy="1477.6" r="1.4"/><circle cx="407.4" cy="1659.8" r="1.4"/><circle cx="421.9" cy="1448.6" r="1.4"/><circle cx="455.4" cy="1530.4" r="1.4"/><circle cx="438.3" cy="1697.7" r="1.4"/><circle cx="408.2" cy="1566.9" r="1.4"/><circle cx="434.4" cy="1504.7" r="1.4"/><circle cx="458.2" cy="1483.0" r="1.4"/><circle cx="432.6" cy="1451.4" r="1.4"/><circle cx="393.7" cy="1522.1" r="1.4"/><circle cx="454.0" cy="1468.9" r="1.4"/><circle cx="509.9" cy="1676.1" r="1.4"/><circle cx="439.7" cy="1463.8" r="1.4"/><circle cx="387.7" cy="1579.1" r="1.4"/><circle cx="465.0" cy="1683.6" r="1.4"/><circle cx="448.7" cy="1617.5" r="1.4"/><circle cx="421.1" cy="1503.0" r="1.4"/><circle cx="432.1" cy="1458.1" r="1.4"/><circle cx="471.3" cy="1540.7" r="1.4"/><circle cx="466.3" cy="1495.1" r="1.4"/><circle cx="420.8" cy="1579.9" r="1.4"/><circle cx="415.1" cy="1567.3" r="1.4"/><circle cx="494.5" cy="1549.3" r="1.4"/><circle cx="443.0" cy="1453.2" r="1.4"/><circle cx="479.2" cy="1500.5" r="1.4"/><circle cx="378.7" cy="1552.4" r="1.4"/><circle cx="471.4" cy="1470.8" r="1.4"/><circle cx="398.6" cy="1581.6" r="1.4"/><circle cx="369.3" cy="1538.1" r="1.4"/><circle cx="339.8" cy="1610.0" r="1.4"/><circle cx="477.7" cy="1558.1" r="1.4"/><circle cx="466.4" cy="1585.7" r="1.4"/><circle cx="397.7" cy="1649.3" r="1.4"/><circle cx="431.9" cy="1566.8" r="1.4"/><circle cx="490.7" cy="1559.5" r="1.4"/><circle cx="354.8" cy="1466.3" r="1.4"/><circle cx="429.8" cy="1480.5" r="1.4"/><circle cx="497.2" cy="1603.7" r="1.4"/><circle cx="351.1" cy="1485.3" r="1.4"/><circle cx="449.2" cy="1615.4" r="1.4"/><circle cx="447.1" cy="1511.7" r="1.4"/><circle cx="382.7" cy="1536.7" r="1.4"/><circle cx="456.9" cy="1517.6" r="1.4"/><circle cx="414.4" cy="1496.4" r="1.4"/><circle cx="389.5" cy="1564.9" r="1.4"/><circle cx="460.5" cy="1674.9" r="1.4"/><circle cx="363.0" cy="1594.9" r="1.4"/><circle cx="446.2" cy="1508.4" r="1.4"/><circle cx="533.5" cy="1438.6" r="1.4"/><circle cx="418.7" cy="1546.8" r="1.4"/><circle cx="428.8" cy="1582.3" r="1.4"/><circle cx="447.2" cy="1603.5" r="1.4"/><circle cx="411.0" cy="1525.9" r="1.4"/><circle cx="477.2" cy="1503.9" r="1.4"/><circle cx="429.8" cy="1558.8" r="1.4"/><circle cx="360.4" cy="1455.5" r="1.4"/><circle cx="468.8" cy="1441.8" r="1.4"/><circle cx="421.3" cy="1535.0" r="1.4"/><circle cx="467.4" cy="1691.2" r="1.4"/><circle cx="387.5" cy="1435.0" r="1.4"/><circle cx="384.9" cy="1553.0" r="1.4"/><circle cx="442.4" cy="1397.7" r="1.4"/><circle cx="427.7" cy="1539.5" r="1.4"/><circle cx="398.2" cy="1566.3" r="1.4"/><circle cx="477.4" cy="1592.9" r="1.4"/><circle cx="463.0" cy="1631.9" r="1.4"/><circle cx="423.3" cy="1557.1" r="1.4"/><circle cx="478.0" cy="1606.9" r="1.4"/><circle cx="437.5" cy="1523.6" r="1.4"/><circle cx="458.7" cy="1695.4" r="1.4"/><circle cx="387.5" cy="1432.4" r="1.4"/><circle cx="397.3" cy="1524.2" r="1.4"/><circle cx="416.3" cy="1540.8" r="1.4"/><circle cx="433.3" cy="1531.6" r="1.4"/><circle cx="484.1" cy="1568.3" r="1.4"/><circle cx="464.8" cy="1580.5" r="1.4"/><circle cx="432.3" cy="1446.2" r="1.4"/><circle cx="414.5" cy="1477.6" r="1.4"/><circle cx="447.3" cy="1530.9" r="1.4"/><circle cx="407.5" cy="1498.4" r="1.4"/><circle cx="398.1" cy="1581.0" r="1.4"/><circle cx="548.1" cy="1545.6" r="1.4"/><circle cx="498.5" cy="1540.3" r="1.4"/><circle cx="414.4" cy="1491.0" r="1.4"/><circle cx="491.3" cy="1602.8" r="1.4"/><circle cx="393.8" cy="1583.9" r="1.4"/><circle cx="507.9" cy="1453.0" r="1.4"/><circle cx="452.8" cy="1682.7" r="1.4"/><circle cx="466.9" cy="1549.7" r="1.4"/><circle cx="497.1" cy="1544.0" r="1.4"/><circle cx="449.1" cy="1638.8" r="1.4"/><circle cx="419.2" cy="1600.8" r="1.4"/><circle cx="430.8" cy="1473.6" r="1.4"/><circle cx="388.3" cy="1453.4" r="1.4"/><circle cx="454.7" cy="1510.5" r="1.4"/><circle cx="484.9" cy="1638.9" r="1.4"/><circle cx="379.1" cy="1797.2" r="1.4"/><circle cx="424.1" cy="1750.8" r="1.4"/><circle cx="494.6" cy="1685.8" r="1.4"/><circle cx="436.5" cy="1746.8" r="1.4"/><circle cx="432.8" cy="1769.2" r="1.4"/><circle cx="445.0" cy="1654.9" r="1.4"/><circle cx="441.1" cy="1804.8" r="1.4"/><circle cx="353.7" cy="1816.8" r="1.4"/><circle cx="442.2" cy="1709.7" r="1.4"/><circle cx="404.4" cy="1720.3" r="1.4"/><circle cx="509.7" cy="1634.9" r="1.4"/><circle cx="422.6" cy="1645.1" r="1.4"/><circle cx="448.9" cy="1773.1" r="1.4"/><circle cx="472.6" cy="1728.3" r="1.4"/><circle cx="449.9" cy="1676.7" r="1.4"/><circle cx="501.9" cy="1634.7" r="1.4"/><circle cx="486.9" cy="1638.6" r="1.4"/><circle cx="414.4" cy="1750.3" r="1.4"/><circle cx="438.0" cy="1628.5" r="1.4"/><circle cx="391.7" cy="1753.2" r="1.4"/><circle cx="362.5" cy="1628.1" r="1.4"/><circle cx="488.4" cy="1794.4" r="1.4"/><circle cx="449.0" cy="1655.2" r="1.4"/><circle cx="447.6" cy="1667.1" r="1.4"/><circle cx="458.0" cy="1671.2" r="1.4"/><circle cx="504.8" cy="1644.8" r="1.4"/><circle cx="489.3" cy="1751.8" r="1.4"/><circle cx="472.6" cy="1723.3" r="1.4"/><circle cx="474.6" cy="1736.9" r="1.4"/><circle cx="400.3" cy="1710.2" r="1.4"/><circle cx="434.5" cy="1726.6" r="1.4"/><circle cx="406.4" cy="1817.5" r="1.4"/><circle cx="430.4" cy="1761.7" r="1.4"/><circle cx="419.9" cy="1760.8" r="1.4"/><circle cx="421.5" cy="1630.7" r="1.4"/><circle cx="441.7" cy="1827.6" r="1.4"/><circle cx="457.9" cy="1690.1" r="1.4"/><circle cx="355.6" cy="1791.6" r="1.4"/><circle cx="418.9" cy="1804.9" r="1.4"/><circle cx="485.3" cy="1709.2" r="1.4"/><circle cx="430.0" cy="1792.8" r="1.4"/><circle cx="383.6" cy="1705.0" r="1.4"/><circle cx="432.4" cy="1740.0" r="1.4"/><circle cx="431.8" cy="1726.7" r="1.4"/><circle cx="415.2" cy="1692.4" r="1.4"/><circle cx="425.1" cy="1745.0" r="1.4"/><circle cx="402.7" cy="1716.4" r="1.4"/><circle cx="464.3" cy="1778.8" r="1.4"/><circle cx="401.2" cy="1760.2" r="1.4"/><circle cx="430.1" cy="1783.3" r="1.4"/><circle cx="390.1" cy="1726.8" r="1.4"/><circle cx="458.9" cy="1805.4" r="1.4"/><circle cx="438.4" cy="1758.3" r="1.4"/><circle cx="385.6" cy="1698.9" r="1.4"/><circle cx="431.1" cy="1730.5" r="1.4"/><circle cx="465.5" cy="1731.2" r="1.4"/><circle cx="469.5" cy="1650.3" r="1.4"/><circle cx="400.6" cy="1843.0" r="1.4"/><circle cx="375.9" cy="1758.3" r="1.4"/><circle cx="429.7" cy="1705.5" r="1.4"/><circle cx="465.4" cy="1819.3" r="1.4"/><circle cx="425.4" cy="1812.4" r="1.4"/><circle cx="392.1" cy="1743.4" r="1.4"/><circle cx="491.0" cy="1706.3" r="1.4"/><circle cx="462.3" cy="1749.9" r="1.4"/><circle cx="440.8" cy="1849.5" r="1.4"/><circle cx="409.8" cy="1703.5" r="1.4"/><circle cx="410.3" cy="1743.4" r="1.4"/><circle cx="485.5" cy="1732.8" r="1.4"/><circle cx="395.3" cy="1755.8" r="1.4"/><circle cx="469.0" cy="1654.9" r="1.4"/><circle cx="471.3" cy="1671.0" r="1.4"/><circle cx="507.1" cy="1687.2" r="1.4"/><circle cx="368.4" cy="1772.5" r="1.4"/><circle cx="434.9" cy="1748.9" r="1.4"/><circle cx="478.4" cy="1730.6" r="1.4"/><circle cx="425.3" cy="1777.8" r="1.4"/><circle cx="426.5" cy="1717.4" r="1.4"/><circle cx="411.8" cy="1685.0" r="1.4"/><circle cx="480.9" cy="1743.9" r="1.4"/><circle cx="430.1" cy="1700.7" r="1.4"/><circle cx="406.2" cy="1625.7" r="1.4"/><circle cx="447.4" cy="1841.2" r="1.4"/><circle cx="429.9" cy="1778.4" r="1.4"/><circle cx="418.1" cy="1702.4" r="1.4"/><circle cx="371.5" cy="1762.9" r="1.4"/><circle cx="423.1" cy="1749.2" r="1.4"/><circle cx="436.6" cy="1651.2" r="1.4"/><circle cx="438.0" cy="1776.1" r="1.4"/><circle cx="443.7" cy="1789.4" r="1.4"/><circle cx="471.3" cy="1671.9" r="1.4"/><circle cx="439.6" cy="1659.4" r="1.4"/><circle cx="401.9" cy="1753.0" r="1.4"/><circle cx="487.8" cy="1772.3" r="1.4"/><circle cx="423.8" cy="1740.8" r="1.4"/><circle cx="370.5" cy="1812.5" r="1.4"/><circle cx="399.0" cy="1690.3" r="1.4"/><circle cx="500.2" cy="1758.7" r="1.4"/><circle cx="405.3" cy="1718.8" r="1.4"/><circle cx="385.9" cy="1657.1" r="1.4"/><circle cx="461.9" cy="1843.0" r="1.4"/><circle cx="430.3" cy="1800.8" r="1.4"/><circle cx="403.6" cy="1725.7" r="1.4"/><circle cx="443.4" cy="1745.5" r="1.4"/><circle cx="518.8" cy="1647.1" r="1.4"/><circle cx="477.2" cy="1743.2" r="1.4"/><circle cx="382.7" cy="1693.4" r="1.4"/><circle cx="373.8" cy="1690.0" r="1.4"/><circle cx="431.6" cy="1737.2" r="1.4"/><circle cx="524.6" cy="1654.4" r="1.4"/><circle cx="413.4" cy="1812.6" r="1.4"/><circle cx="422.8" cy="1716.1" r="1.4"/><circle cx="399.7" cy="1739.9" r="1.4"/><circle cx="425.6" cy="1691.7" r="1.4"/><circle cx="375.1" cy="1709.0" r="1.4"/><circle cx="343.3" cy="1678.9" r="1.4"/><circle cx="485.2" cy="1777.7" r="1.4"/><circle cx="408.1" cy="1732.7" r="1.4"/><circle cx="468.0" cy="1711.1" r="1.4"/><circle cx="403.5" cy="1702.9" r="1.4"/><circle cx="209.3" cy="1748.8" r="1.4"/><circle cx="198.8" cy="1701.4" r="1.4"/><circle cx="636.2" cy="1493.8" r="1.4"/><circle cx="181.5" cy="1541.1" r="1.4"/><circle cx="202.0" cy="1818.4" r="1.4"/><circle cx="203.1" cy="1466.7" r="1.4"/><circle cx="170.1" cy="1819.6" r="1.4"/><circle cx="450.3" cy="1429.0" r="1.4"/><circle cx="155.6" cy="1576.0" r="1.4"/><circle cx="284.9" cy="1750.3" r="1.4"/><circle cx="544.3" cy="1499.6" r="1.4"/><circle cx="151.6" cy="1505.9" r="1.4"/><circle cx="225.9" cy="1492.8" r="1.4"/><circle cx="261.0" cy="1678.7" r="1.4"/><circle cx="366.7" cy="1779.0" r="1.4"/><circle cx="557.5" cy="1598.5" r="1.4"/><circle cx="387.0" cy="1610.2" r="1.4"/><circle cx="636.7" cy="1573.7" r="1.4"/><circle cx="365.6" cy="1462.6" r="1.4"/><circle cx="599.5" cy="1732.0" r="1.4"/><circle cx="487.6" cy="1727.4" r="1.4"/><circle cx="339.8" cy="1746.3" r="1.4"/><circle cx="252.9" cy="1395.3" r="1.4"/><circle cx="486.1" cy="1713.5" r="1.4"/><circle cx="436.5" cy="1623.5" r="1.4"/><circle cx="422.9" cy="1411.1" r="1.4"/><circle cx="430.3" cy="1762.0" r="1.4"/><circle cx="159.9" cy="1504.7" r="1.4"/><circle cx="409.1" cy="1563.8" r="1.4"/><circle cx="492.2" cy="1460.7" r="1.4"/><circle cx="455.9" cy="1607.7" r="1.4"/><circle cx="541.8" cy="1665.4" r="1.4"/><circle cx="492.5" cy="1516.8" r="1.4"/><circle cx="607.6" cy="1547.6" r="1.4"/><circle cx="458.2" cy="1536.8" r="1.4"/><circle cx="575.6" cy="1705.3" r="1.4"/><circle cx="437.7" cy="1790.9" r="1.4"/><circle cx="606.3" cy="1550.9" r="1.4"/><circle cx="281.8" cy="1532.4" r="1.4"/><circle cx="272.4" cy="1516.6" r="1.4"/><circle cx="203.5" cy="1719.9" r="1.4"/><circle cx="336.4" cy="1759.5" r="1.4"/><circle cx="154.5" cy="1524.5" r="1.4"/><circle cx="630.2" cy="1764.5" r="1.4"/><circle cx="647.2" cy="1807.6" r="1.4"/><circle cx="594.2" cy="1668.9" r="1.4"/><circle cx="633.0" cy="1456.7" r="1.4"/><circle cx="379.5" cy="1637.5" r="1.4"/><circle cx="540.7" cy="1644.1" r="1.4"/><circle cx="249.7" cy="1765.0" r="1.4"/><circle cx="403.8" cy="1668.3" r="1.4"/><circle cx="155.3" cy="1813.8" r="1.4"/><circle cx="163.3" cy="1814.2" r="1.4"/><circle cx="462.9" cy="1594.1" r="1.4"/><circle cx="472.3" cy="1596.9" r="1.4"/><circle cx="618.7" cy="1741.2" r="1.4"/><circle cx="156.6" cy="1577.2" r="1.4"/><circle cx="310.6" cy="1726.2" r="1.4"/><circle cx="309.9" cy="1543.6" r="1.4"/><circle cx="622.2" cy="1632.5" r="1.4"/><circle cx="316.6" cy="1496.4" r="1.4"/><circle cx="154.5" cy="1482.6" r="1.4"/><circle cx="250.1" cy="1711.9" r="1.4"/><circle cx="629.2" cy="1558.8" r="1.4"/><circle cx="181.4" cy="1403.8" r="1.4"/><circle cx="642.7" cy="1770.5" r="1.4"/><circle cx="588.6" cy="1699.5" r="1.4"/><circle cx="403.5" cy="1532.5" r="1.4"/><circle cx="325.4" cy="1602.1" r="1.4"/><circle cx="249.7" cy="1575.3" r="1.4"/><circle cx="623.0" cy="1616.1" r="1.4"/><circle cx="409.2" cy="1600.9" r="1.4"/><circle cx="402.9" cy="1774.4" r="1.4"/><circle cx="474.5" cy="1708.0" r="1.4"/><circle cx="613.3" cy="1717.3" r="1.4"/><circle cx="503.3" cy="1751.4" r="1.4"/><circle cx="357.3" cy="1655.1" r="1.4"/><circle cx="281.6" cy="1765.9" r="1.4"/><circle cx="559.7" cy="1596.9" r="1.4"/><circle cx="474.1" cy="1802.2" r="1.4"/><circle cx="497.8" cy="2001.8" r="1.4"/><circle cx="560.4" cy="1910.0" r="1.4"/><circle cx="548.2" cy="1962.5" r="1.4"/><circle cx="558.7" cy="1970.5" r="1.4"/><circle cx="590.0" cy="1976.4" r="1.4"/><circle cx="525.4" cy="1954.4" r="1.4"/><circle cx="533.8" cy="1951.9" r="1.4"/><circle cx="527.7" cy="1936.9" r="1.4"/><circle cx="461.6" cy="2009.9" r="1.4"/><circle cx="539.1" cy="1915.9" r="1.4"/><circle cx="609.4" cy="1955.8" r="1.4"/><circle cx="464.2" cy="1866.3" r="1.4"/><circle cx="495.1" cy="1877.2" r="1.4"/><circle cx="472.2" cy="1902.2" r="1.4"/><circle cx="505.7" cy="1932.3" r="1.4"/><circle cx="522.8" cy="2020.3" r="1.4"/><circle cx="546.2" cy="1937.4" r="1.4"/><circle cx="536.8" cy="1984.2" r="1.4"/><circle cx="582.6" cy="2041.2" r="1.4"/><circle cx="507.3" cy="1949.6" r="1.4"/><circle cx="480.2" cy="1943.2" r="1.4"/><circle cx="444.0" cy="2004.5" r="1.4"/><circle cx="558.9" cy="1955.2" r="1.4"/><circle cx="481.8" cy="1935.7" r="1.4"/><circle cx="453.6" cy="1950.8" r="1.4"/><circle cx="503.0" cy="1952.8" r="1.4"/><circle cx="507.4" cy="1942.9" r="1.4"/><circle cx="479.1" cy="2009.7" r="1.4"/><circle cx="521.7" cy="1980.5" r="1.4"/><circle cx="525.5" cy="1956.7" r="1.4"/><circle cx="496.7" cy="1934.8" r="1.4"/><circle cx="520.0" cy="1931.2" r="1.4"/><circle cx="568.2" cy="1991.0" r="1.4"/><circle cx="494.5" cy="1923.6" r="1.4"/><circle cx="572.7" cy="2018.7" r="1.4"/><circle cx="484.5" cy="1913.3" r="1.4"/><circle cx="548.8" cy="1978.4" r="1.4"/><circle cx="503.2" cy="1931.1" r="1.4"/><circle cx="475.5" cy="1979.1" r="1.4"/><circle cx="502.5" cy="1960.1" r="1.4"/><circle cx="504.1" cy="1942.6" r="1.4"/><circle cx="602.8" cy="1884.1" r="1.4"/><circle cx="602.0" cy="1903.8" r="1.4"/><circle cx="523.3" cy="2009.1" r="1.4"/><circle cx="521.0" cy="1900.0" r="1.4"/><circle cx="501.0" cy="1887.8" r="1.4"/><circle cx="534.8" cy="1954.1" r="1.4"/><circle cx="601.3" cy="1891.7" r="1.4"/><circle cx="511.7" cy="1894.1" r="1.4"/><circle cx="550.8" cy="1852.7" r="1.4"/><circle cx="523.3" cy="1880.1" r="1.4"/><circle cx="554.9" cy="1958.1" r="1.4"/><circle cx="497.1" cy="1991.1" r="1.4"/><circle cx="500.8" cy="2026.0" r="1.4"/><circle cx="567.0" cy="1946.2" r="1.4"/><circle cx="535.0" cy="1911.2" r="1.4"/><circle cx="529.1" cy="1913.7" r="1.4"/><circle cx="504.7" cy="1972.0" r="1.4"/><circle cx="484.1" cy="1940.2" r="1.4"/><circle cx="540.3" cy="1932.7" r="1.4"/><circle cx="547.2" cy="1929.0" r="1.4"/><circle cx="535.9" cy="2015.3" r="1.4"/><circle cx="511.4" cy="1925.1" r="1.4"/><circle cx="486.9" cy="1923.0" r="1.4"/><circle cx="485.2" cy="1918.5" r="1.4"/><circle cx="501.4" cy="1949.4" r="1.4"/><circle cx="596.2" cy="1994.7" r="1.4"/><circle cx="575.8" cy="2014.6" r="1.4"/><circle cx="498.0" cy="2011.9" r="1.4"/><circle cx="477.4" cy="1975.1" r="1.4"/><circle cx="521.2" cy="1985.2" r="1.4"/><circle cx="566.9" cy="2013.7" r="1.4"/><circle cx="612.7" cy="1957.1" r="1.4"/><circle cx="529.6" cy="1914.7" r="1.4"/><circle cx="547.7" cy="2027.7" r="1.4"/><circle cx="493.4" cy="1961.1" r="1.4"/><circle cx="559.8" cy="1906.4" r="1.4"/><circle cx="452.4" cy="1925.7" r="1.4"/><circle cx="515.3" cy="1958.7" r="1.4"/><circle cx="500.3" cy="1945.7" r="1.4"/><circle cx="513.6" cy="1985.9" r="1.4"/><circle cx="508.8" cy="1945.0" r="1.4"/><circle cx="522.6" cy="1954.8" r="1.4"/><circle cx="603.0" cy="1843.6" r="1.4"/><circle cx="519.7" cy="1939.4" r="1.4"/><circle cx="575.7" cy="2001.6" r="1.4"/><circle cx="452.2" cy="1958.9" r="1.4"/><circle cx="460.4" cy="2028.8" r="1.4"/><circle cx="503.2" cy="2005.2" r="1.4"/><circle cx="489.6" cy="1933.3" r="1.4"/><circle cx="496.4" cy="2058.3" r="1.4"/><circle cx="600.3" cy="1907.4" r="1.4"/><circle cx="513.1" cy="1890.2" r="1.4"/><circle cx="512.9" cy="1967.1" r="1.4"/><circle cx="593.5" cy="1917.0" r="1.4"/><circle cx="517.4" cy="2041.1" r="1.4"/><circle cx="504.8" cy="1938.3" r="1.4"/><circle cx="507.7" cy="1977.9" r="1.4"/><circle cx="530.7" cy="1864.4" r="1.4"/><circle cx="488.5" cy="1913.3" r="1.4"/><circle cx="549.9" cy="1911.6" r="1.4"/><circle cx="561.9" cy="1999.7" r="1.4"/><circle cx="600.7" cy="1895.5" r="1.4"/><circle cx="544.2" cy="1905.1" r="1.4"/><circle cx="458.2" cy="1954.7" r="1.4"/><circle cx="484.4" cy="1869.4" r="1.4"/><circle cx="509.6" cy="1937.3" r="1.4"/><circle cx="551.7" cy="1964.1" r="1.4"/><circle cx="443.6" cy="1896.6" r="1.4"/><circle cx="569.4" cy="1910.4" r="1.4"/><circle cx="515.7" cy="2007.8" r="1.4"/><circle cx="524.2" cy="2002.5" r="1.4"/><circle cx="533.8" cy="1939.9" r="1.4"/><circle cx="547.7" cy="1892.6" r="1.4"/><circle cx="482.2" cy="1919.3" r="1.4"/><circle cx="582.0" cy="1898.3" r="1.4"/><circle cx="547.6" cy="1980.7" r="1.4"/><circle cx="521.8" cy="1979.9" r="1.4"/><circle cx="540.3" cy="2012.6" r="1.4"/><circle cx="499.1" cy="1973.1" r="1.4"/><circle cx="481.2" cy="2024.6" r="1.4"/><circle cx="576.9" cy="2020.5" r="1.4"/><circle cx="480.6" cy="1917.6" r="1.4"/><circle cx="551.7" cy="1892.8" r="1.4"/><circle cx="461.4" cy="1935.0" r="1.4"/><circle cx="513.7" cy="1954.7" r="1.4"/><circle cx="537.8" cy="1985.6" r="1.4"/><circle cx="582.7" cy="1993.6" r="1.4"/><circle cx="440.4" cy="1920.4" r="1.4"/><circle cx="566.7" cy="1908.6" r="1.4"/><circle cx="505.0" cy="1921.2" r="1.4"/><circle cx="580.2" cy="1992.6" r="1.4"/><circle cx="544.2" cy="1925.8" r="1.4"/><circle cx="548.9" cy="1909.4" r="1.4"/><circle cx="441.5" cy="1901.1" r="1.4"/><circle cx="589.4" cy="1900.2" r="1.4"/><circle cx="554.6" cy="1886.6" r="1.4"/><circle cx="562.6" cy="1876.0" r="1.4"/><circle cx="516.2" cy="2006.8" r="1.4"/><circle cx="550.7" cy="1957.6" r="1.4"/><circle cx="548.0" cy="1937.2" r="1.4"/><circle cx="496.9" cy="1965.2" r="1.4"/><circle cx="526.6" cy="1994.1" r="1.4"/><circle cx="583.6" cy="1989.0" r="1.4"/><circle cx="526.8" cy="1973.1" r="1.4"/><circle cx="472.8" cy="1961.3" r="1.4"/><circle cx="604.6" cy="1918.0" r="1.4"/><circle cx="500.6" cy="1937.3" r="1.4"/><circle cx="508.9" cy="1917.0" r="1.4"/><circle cx="497.7" cy="1940.0" r="1.4"/><circle cx="508.8" cy="1919.5" r="1.4"/><circle cx="593.5" cy="1919.6" r="1.4"/><circle cx="501.8" cy="1939.9" r="1.4"/><circle cx="534.6" cy="1995.0" r="1.4"/><circle cx="510.0" cy="1898.7" r="1.4"/><circle cx="566.6" cy="1911.8" r="1.4"/><circle cx="520.4" cy="1978.4" r="1.4"/><circle cx="597.9" cy="1980.6" r="1.4"/><circle cx="587.2" cy="1892.2" r="1.4"/><circle cx="588.9" cy="1894.2" r="1.4"/><circle cx="476.9" cy="1949.4" r="1.4"/><circle cx="558.3" cy="2053.3" r="1.4"/><circle cx="516.9" cy="1924.1" r="1.4"/><circle cx="547.2" cy="1952.6" r="1.4"/><circle cx="550.3" cy="1922.6" r="1.4"/><circle cx="545.5" cy="1881.7" r="1.4"/><circle cx="536.0" cy="1986.4" r="1.4"/><circle cx="522.8" cy="1970.3" r="1.4"/><circle cx="486.7" cy="2008.1" r="1.4"/><circle cx="465.8" cy="1946.5" r="1.4"/><circle cx="459.5" cy="1961.8" r="1.4"/><circle cx="498.3" cy="1938.4" r="1.4"/><circle cx="554.7" cy="1971.7" r="1.4"/><circle cx="499.9" cy="1870.5" r="1.4"/><circle cx="478.9" cy="1877.8" r="1.4"/><circle cx="458.5" cy="1879.6" r="1.4"/><circle cx="508.4" cy="1979.0" r="1.4"/><circle cx="478.9" cy="1900.3" r="1.4"/><circle cx="489.9" cy="1937.3" r="1.4"/><circle cx="521.9" cy="1882.4" r="1.4"/><circle cx="466.4" cy="1962.1" r="1.4"/><circle cx="509.7" cy="1991.0" r="1.4"/><circle cx="546.3" cy="1942.8" r="1.4"/><circle cx="460.4" cy="1951.0" r="1.4"/><circle cx="472.2" cy="1947.9" r="1.4"/><circle cx="587.2" cy="1995.2" r="1.4"/><circle cx="561.3" cy="1964.7" r="1.4"/><circle cx="500.0" cy="1964.5" r="1.4"/><circle cx="586.8" cy="1894.2" r="1.4"/><circle cx="534.5" cy="1949.8" r="1.4"/><circle cx="552.6" cy="1960.0" r="1.4"/><circle cx="545.4" cy="1993.2" r="1.4"/><circle cx="531.2" cy="1957.4" r="1.4"/><circle cx="616.0" cy="1947.8" r="1.4"/><circle cx="558.6" cy="1967.1" r="1.4"/><circle cx="529.5" cy="1972.0" r="1.4"/><circle cx="476.9" cy="1931.4" r="1.4"/><circle cx="501.2" cy="1996.3" r="1.4"/><circle cx="508.9" cy="1949.6" r="1.4"/><circle cx="563.1" cy="1970.3" r="1.4"/><circle cx="500.0" cy="1869.0" r="1.4"/><circle cx="515.4" cy="1952.8" r="1.4"/><circle cx="529.2" cy="1939.7" r="1.4"/><circle cx="514.7" cy="2007.6" r="1.4"/><circle cx="486.9" cy="1951.6" r="1.4"/><circle cx="501.2" cy="1930.3" r="1.4"/><circle cx="522.8" cy="1936.2" r="1.4"/><circle cx="560.8" cy="1956.5" r="1.4"/><circle cx="548.0" cy="1863.9" r="1.4"/><circle cx="562.1" cy="1925.1" r="1.4"/><circle cx="560.1" cy="1925.8" r="1.4"/><circle cx="492.3" cy="1945.3" r="1.4"/><circle cx="498.1" cy="1922.3" r="1.4"/><circle cx="550.6" cy="1920.6" r="1.4"/><circle cx="571.0" cy="1918.5" r="1.4"/><circle cx="474.5" cy="1992.9" r="1.4"/><circle cx="527.8" cy="1999.9" r="1.4"/><circle cx="489.9" cy="1959.1" r="1.4"/><circle cx="545.7" cy="1952.5" r="1.4"/><circle cx="524.7" cy="1939.9" r="1.4"/><circle cx="506.5" cy="1974.4" r="1.4"/><circle cx="566.7" cy="1977.5" r="1.4"/><circle cx="557.1" cy="1915.1" r="1.4"/><circle cx="555.4" cy="1937.1" r="1.4"/><circle cx="525.1" cy="1939.5" r="1.4"/><circle cx="555.5" cy="2013.8" r="1.4"/><circle cx="571.7" cy="1961.8" r="1.4"/><circle cx="441.1" cy="1956.1" r="1.4"/><circle cx="471.8" cy="1893.1" r="1.4"/><circle cx="546.6" cy="1959.1" r="1.4"/><circle cx="474.2" cy="1922.5" r="1.4"/><circle cx="614.8" cy="1892.6" r="1.4"/><circle cx="556.7" cy="1877.2" r="1.4"/><circle cx="515.2" cy="2006.8" r="1.4"/><circle cx="454.9" cy="1945.0" r="1.4"/><circle cx="513.2" cy="1995.4" r="1.4"/><circle cx="528.1" cy="2023.3" r="1.4"/><circle cx="604.8" cy="1960.6" r="1.4"/><circle cx="533.0" cy="1929.6" r="1.4"/><circle cx="537.2" cy="1924.2" r="1.4"/><circle cx="512.9" cy="1934.6" r="1.4"/><circle cx="510.4" cy="2005.7" r="1.4"/><circle cx="582.8" cy="1928.9" r="1.4"/><circle cx="527.7" cy="1960.9" r="1.4"/><circle cx="534.4" cy="1915.3" r="1.4"/><circle cx="454.2" cy="1967.9" r="1.4"/><circle cx="511.9" cy="1920.4" r="1.4"/><circle cx="493.0" cy="2000.5" r="1.4"/><circle cx="512.9" cy="1952.9" r="1.4"/><circle cx="561.5" cy="1931.6" r="1.4"/><circle cx="573.3" cy="1943.8" r="1.4"/><circle cx="485.2" cy="1939.3" r="1.4"/><circle cx="594.7" cy="1976.0" r="1.4"/><circle cx="516.6" cy="2031.3" r="1.4"/><circle cx="456.2" cy="1874.9" r="1.4"/><circle cx="499.9" cy="1982.4" r="1.4"/><circle cx="495.7" cy="1900.7" r="1.4"/><circle cx="564.9" cy="1930.6" r="1.4"/><circle cx="534.6" cy="1915.9" r="1.4"/><circle cx="507.2" cy="2006.1" r="1.4"/><circle cx="490.4" cy="1935.1" r="1.4"/><circle cx="536.9" cy="1953.8" r="1.4"/><circle cx="495.6" cy="1980.7" r="1.4"/><circle cx="476.5" cy="1968.8" r="1.4"/><circle cx="506.9" cy="1973.6" r="1.4"/><circle cx="528.2" cy="2000.5" r="1.4"/><circle cx="624.7" cy="1913.4" r="1.4"/><circle cx="553.9" cy="1927.9" r="1.4"/><circle cx="507.6" cy="1978.2" r="1.4"/><circle cx="568.7" cy="1893.5" r="1.4"/><circle cx="545.3" cy="1939.6" r="1.4"/><circle cx="567.0" cy="1954.5" r="1.4"/><circle cx="566.9" cy="1972.0" r="1.4"/><circle cx="451.7" cy="1971.3" r="1.4"/><circle cx="520.5" cy="1880.2" r="1.4"/><circle cx="460.1" cy="1928.0" r="1.4"/><circle cx="539.4" cy="1922.6" r="1.4"/><circle cx="592.0" cy="1963.3" r="1.4"/><circle cx="566.2" cy="2009.0" r="1.4"/><circle cx="500.4" cy="1914.7" r="1.4"/><circle cx="530.0" cy="1958.7" r="1.4"/><circle cx="564.1" cy="1971.7" r="1.4"/><circle cx="492.9" cy="1809.3" r="1.4"/><circle cx="518.1" cy="1893.0" r="1.4"/><circle cx="469.8" cy="1919.3" r="1.4"/><circle cx="577.9" cy="1969.5" r="1.4"/><circle cx="546.3" cy="1958.9" r="1.4"/><circle cx="551.3" cy="1923.4" r="1.4"/><circle cx="502.2" cy="1913.7" r="1.4"/><circle cx="535.9" cy="1993.7" r="1.4"/><circle cx="499.4" cy="1936.6" r="1.4"/><circle cx="576.4" cy="1948.4" r="1.4"/><circle cx="555.5" cy="1970.2" r="1.4"/><circle cx="535.1" cy="1955.4" r="1.4"/><circle cx="531.7" cy="1892.4" r="1.4"/><circle cx="467.0" cy="1981.6" r="1.4"/><circle cx="527.3" cy="1940.6" r="1.4"/><circle cx="587.8" cy="1914.3" r="1.4"/><circle cx="476.9" cy="1906.2" r="1.4"/><circle cx="554.0" cy="1895.8" r="1.4"/><circle cx="546.7" cy="1914.4" r="1.4"/><circle cx="547.2" cy="2005.0" r="1.4"/><circle cx="511.7" cy="1835.5" r="1.4"/><circle cx="559.0" cy="1898.9" r="1.4"/><circle cx="552.0" cy="1882.8" r="1.4"/><circle cx="464.8" cy="1906.8" r="1.4"/><circle cx="548.1" cy="1979.2" r="1.4"/><circle cx="494.0" cy="1932.6" r="1.4"/><circle cx="519.3" cy="1961.8" r="1.4"/><circle cx="658.9" cy="1953.1" r="1.4"/><circle cx="543.4" cy="1955.8" r="1.4"/><circle cx="491.9" cy="1898.6" r="1.4"/><circle cx="561.4" cy="1988.4" r="1.4"/><circle cx="509.5" cy="1933.4" r="1.4"/><circle cx="523.2" cy="1919.2" r="1.4"/><circle cx="587.4" cy="1999.8" r="1.4"/><circle cx="500.3" cy="1956.2" r="1.4"/><circle cx="509.6" cy="1919.5" r="1.4"/><circle cx="501.6" cy="1943.8" r="1.4"/><circle cx="499.2" cy="1888.2" r="1.4"/><circle cx="513.0" cy="1964.4" r="1.4"/><circle cx="504.2" cy="1914.5" r="1.4"/><circle cx="590.6" cy="1863.8" r="1.4"/><circle cx="536.8" cy="1955.2" r="1.4"/><circle cx="528.8" cy="1949.7" r="1.4"/><circle cx="640.0" cy="1956.8" r="1.4"/><circle cx="501.3" cy="2020.3" r="1.4"/><circle cx="474.7" cy="1895.7" r="1.4"/><circle cx="504.2" cy="1983.4" r="1.4"/><circle cx="525.2" cy="1958.9" r="1.4"/><circle cx="501.9" cy="1928.1" r="1.4"/><circle cx="507.1" cy="1905.7" r="1.4"/><circle cx="565.8" cy="1994.2" r="1.4"/><circle cx="611.8" cy="1987.5" r="1.4"/><circle cx="557.7" cy="1911.4" r="1.4"/><circle cx="534.4" cy="1923.2" r="1.4"/><circle cx="547.6" cy="1997.0" r="1.4"/><circle cx="461.9" cy="2035.7" r="1.4"/><circle cx="629.8" cy="1952.0" r="1.4"/><circle cx="497.1" cy="1977.5" r="1.4"/><circle cx="576.6" cy="1981.5" r="1.4"/><circle cx="609.1" cy="1902.1" r="1.4"/><circle cx="607.3" cy="1959.5" r="1.4"/><circle cx="528.6" cy="1875.4" r="1.4"/><circle cx="499.9" cy="1965.0" r="1.4"/><circle cx="623.3" cy="1864.3" r="1.4"/><circle cx="458.3" cy="1965.5" r="1.4"/><circle cx="627.7" cy="1967.4" r="1.4"/><circle cx="624.7" cy="1875.8" r="1.4"/><circle cx="512.0" cy="1883.1" r="1.4"/><circle cx="430.9" cy="1971.6" r="1.4"/><circle cx="482.0" cy="1945.2" r="1.4"/><circle cx="585.4" cy="1990.0" r="1.4"/><circle cx="468.6" cy="2009.1" r="1.4"/><circle cx="623.9" cy="2053.9" r="1.4"/><circle cx="570.7" cy="2033.5" r="1.4"/><circle cx="473.4" cy="1845.2" r="1.4"/><circle cx="587.7" cy="1839.3" r="1.4"/><circle cx="596.2" cy="1990.5" r="1.4"/><circle cx="511.8" cy="2027.6" r="1.4"/><circle cx="622.1" cy="1863.9" r="1.4"/><circle cx="625.0" cy="1905.8" r="1.4"/><circle cx="605.1" cy="1860.7" r="1.4"/><circle cx="503.9" cy="2000.8" r="1.4"/><circle cx="533.4" cy="1907.5" r="1.4"/><circle cx="490.7" cy="1870.2" r="1.4"/><circle cx="514.8" cy="1955.4" r="1.4"/><circle cx="530.5" cy="1922.6" r="1.4"/><circle cx="471.9" cy="1941.7" r="1.4"/><circle cx="646.2" cy="2060.3" r="1.4"/><circle cx="588.6" cy="2037.0" r="1.4"/><circle cx="499.6" cy="1944.6" r="1.4"/><circle cx="578.1" cy="1973.5" r="1.4"/><circle cx="538.7" cy="2024.1" r="1.4"/><circle cx="597.5" cy="2029.6" r="1.4"/><circle cx="540.0" cy="1955.4" r="1.4"/><circle cx="597.4" cy="1999.1" r="1.4"/><circle cx="576.1" cy="1953.4" r="1.4"/><circle cx="472.7" cy="2012.5" r="1.4"/><circle cx="553.7" cy="2038.0" r="1.4"/><circle cx="483.8" cy="1839.9" r="1.4"/><circle cx="494.9" cy="2016.9" r="1.4"/><circle cx="675.6" cy="1888.9" r="1.4"/><circle cx="554.9" cy="1798.6" r="1.4"/><circle cx="469.0" cy="1940.2" r="1.4"/><circle cx="512.6" cy="1953.5" r="1.4"/><circle cx="574.3" cy="1914.0" r="1.4"/><circle cx="678.4" cy="1895.4" r="1.4"/><circle cx="583.2" cy="1989.0" r="1.4"/><circle cx="585.5" cy="1963.2" r="1.4"/><circle cx="517.8" cy="1950.3" r="1.4"/><circle cx="523.3" cy="1866.5" r="1.4"/><circle cx="476.0" cy="1980.8" r="1.4"/><circle cx="494.4" cy="2063.9" r="1.4"/><circle cx="605.2" cy="2037.0" r="1.4"/><circle cx="637.0" cy="2019.5" r="1.4"/><circle cx="515.3" cy="1971.6" r="1.4"/><circle cx="552.5" cy="1912.6" r="1.4"/><circle cx="560.4" cy="1876.5" r="1.4"/><circle cx="553.5" cy="1967.1" r="1.4"/><circle cx="566.6" cy="1921.6" r="1.4"/><circle cx="577.6" cy="1898.6" r="1.4"/><circle cx="464.9" cy="1889.4" r="1.4"/><circle cx="507.6" cy="1877.2" r="1.4"/><circle cx="467.6" cy="1960.4" r="1.4"/><circle cx="448.3" cy="1872.7" r="1.4"/><circle cx="476.0" cy="2069.8" r="1.4"/><circle cx="647.9" cy="1928.6" r="1.4"/><circle cx="466.2" cy="1821.6" r="1.4"/><circle cx="532.6" cy="1817.2" r="1.4"/><circle cx="636.1" cy="1954.7" r="1.4"/><circle cx="631.6" cy="1879.2" r="1.4"/><circle cx="540.6" cy="1905.0" r="1.4"/><circle cx="579.5" cy="1961.4" r="1.4"/><circle cx="548.6" cy="2042.8" r="1.4"/><circle cx="532.3" cy="1905.2" r="1.4"/><circle cx="664.7" cy="1889.5" r="1.4"/><circle cx="621.9" cy="1883.8" r="1.4"/><circle cx="501.8" cy="1922.6" r="1.4"/><circle cx="452.2" cy="2002.7" r="1.4"/><circle cx="677.2" cy="1925.3" r="1.4"/><circle cx="604.7" cy="2056.8" r="1.4"/><circle cx="588.9" cy="1918.6" r="1.4"/><circle cx="547.8" cy="1926.4" r="1.4"/><circle cx="665.4" cy="1828.5" r="1.4"/><circle cx="682.9" cy="2034.6" r="1.4"/><circle cx="569.3" cy="1899.1" r="1.4"/><circle cx="562.8" cy="2009.7" r="1.4"/><circle cx="465.0" cy="1856.1" r="1.4"/><circle cx="460.1" cy="1942.0" r="1.4"/><circle cx="534.2" cy="1967.1" r="1.4"/><circle cx="501.7" cy="1958.0" r="1.4"/><circle cx="599.4" cy="1983.4" r="1.4"/><circle cx="652.2" cy="1986.6" r="1.4"/><circle cx="490.1" cy="1960.7" r="1.4"/><circle cx="557.7" cy="1876.9" r="1.4"/><circle cx="593.0" cy="2052.4" r="1.4"/><circle cx="571.3" cy="1925.0" r="1.4"/><circle cx="539.1" cy="1850.4" r="1.4"/><circle cx="576.6" cy="1892.5" r="1.4"/><circle cx="528.7" cy="1785.4" r="1.4"/><circle cx="573.5" cy="2057.0" r="1.4"/><circle cx="433.7" cy="2022.1" r="1.4"/><circle cx="516.3" cy="2062.0" r="1.4"/><circle cx="569.9" cy="2036.6" r="1.4"/><circle cx="498.1" cy="1918.2" r="1.4"/><circle cx="635.1" cy="1942.6" r="1.4"/><circle cx="648.2" cy="1892.1" r="1.4"/><circle cx="657.3" cy="1883.6" r="1.4"/><circle cx="500.7" cy="1866.9" r="1.4"/><circle cx="597.0" cy="1867.0" r="1.4"/><circle cx="574.0" cy="1935.2" r="1.4"/><circle cx="668.8" cy="1900.2" r="1.4"/><circle cx="532.8" cy="1882.8" r="1.4"/><circle cx="667.6" cy="1925.5" r="1.4"/><circle cx="675.8" cy="1835.5" r="1.4"/><circle cx="651.9" cy="1987.9" r="1.4"/><circle cx="689.3" cy="1901.1" r="1.4"/><circle cx="517.5" cy="1962.3" r="1.4"/><circle cx="506.7" cy="1982.0" r="1.4"/><circle cx="642.7" cy="1969.6" r="1.4"/><circle cx="474.5" cy="1998.7" r="1.4"/><circle cx="669.3" cy="2030.1" r="1.4"/><circle cx="610.0" cy="1931.7" r="1.4"/><circle cx="451.8" cy="1985.1" r="1.4"/><circle cx="515.5" cy="1833.8" r="1.4"/><circle cx="446.1" cy="1937.4" r="1.4"/><circle cx="464.5" cy="1947.7" r="1.4"/><circle cx="555.8" cy="2061.8" r="1.4"/><circle cx="484.1" cy="2003.2" r="1.4"/><circle cx="552.3" cy="1834.7" r="1.4"/><circle cx="446.7" cy="1884.1" r="1.4"/><circle cx="463.7" cy="1989.5" r="1.4"/><circle cx="531.0" cy="1975.2" r="1.4"/><circle cx="461.8" cy="1880.2" r="1.4"/><circle cx="598.1" cy="1824.4" r="1.4"/><circle cx="531.1" cy="1897.3" r="1.4"/><circle cx="664.6" cy="1903.8" r="1.4"/><circle cx="665.7" cy="2071.5" r="1.4"/><circle cx="495.6" cy="1858.6" r="1.4"/><circle cx="482.6" cy="1951.0" r="1.4"/><circle cx="465.2" cy="1861.8" r="1.4"/><circle cx="532.4" cy="1838.8" r="1.4"/><circle cx="460.9" cy="1836.8" r="1.4"/><circle cx="537.6" cy="1975.6" r="1.4"/><circle cx="523.5" cy="1962.5" r="1.4"/><circle cx="568.7" cy="2009.2" r="1.4"/><circle cx="453.0" cy="1882.9" r="1.4"/><circle cx="627.7" cy="1861.8" r="1.4"/><circle cx="637.7" cy="2032.4" r="1.4"/></g>
<g id="cdgreen" fill="#1d7d1d" stroke="#0d4f0d" stroke-width="1.1"><circle cx="166.4" cy="1426.7" r="2.55"/><circle cx="231.9" cy="1418.0" r="2.55"/><circle cx="293.0" cy="1418.0" r="2.55"/><circle cx="243.7" cy="1456.0" r="2.55"/><circle cx="256.0" cy="1466.9" r="2.55"/><circle cx="403.5" cy="1440.7" r="2.55"/><circle cx="290.9" cy="1500.9" r="2.55"/><circle cx="309.7" cy="1492.2" r="2.55"/><circle cx="429.7" cy="1516.2" r="2.55"/><circle cx="403.5" cy="1524.5" r="2.55"/><circle cx="305.3" cy="1532.4" r="2.55"/><circle cx="292.2" cy="1538.0" r="2.55"/><circle cx="230.6" cy="1541.1" r="2.55"/><circle cx="254.6" cy="1541.1" r="2.55"/><circle cx="449.4" cy="1535.9" r="2.55"/><circle cx="440.7" cy="1547.6" r="2.55"/><circle cx="394.4" cy="1544.6" r="2.55"/><circle cx="307.5" cy="1566.0" r="2.55"/><circle cx="330.2" cy="1561.6" r="2.55"/><circle cx="366.0" cy="1565.1" r="2.55"/><circle cx="387.0" cy="1578.2" r="2.55"/><circle cx="397.9" cy="1571.7" r="2.55"/><circle cx="400.0" cy="1587.0" r="2.55"/><circle cx="393.5" cy="1597.9" r="2.55"/><circle cx="402.2" cy="1612.3" r="2.55"/><circle cx="420.6" cy="1589.1" r="2.55"/><circle cx="429.7" cy="1592.2" r="2.55"/><circle cx="465.5" cy="1578.2" r="2.55"/><circle cx="475.6" cy="1580.4" r="2.55"/><circle cx="502.7" cy="1587.0" r="2.55"/><circle cx="511.4" cy="1577.3" r="2.55"/><circle cx="380.4" cy="1625.4" r="2.55"/><circle cx="144.6" cy="1669.0" r="2.55"/><circle cx="443.7" cy="1647.2" r="2.55"/><circle cx="507.0" cy="1723.2" r="2.55"/><circle cx="565.1" cy="1720.1" r="2.55"/><circle cx="395.0" cy="1582.0" r="2.55"/><circle cx="385.0" cy="1590.0" r="2.55"/><circle cx="362.0" cy="1560.0" r="2.55"/><circle cx="609.7" cy="1782.6" r="2.55"/><circle cx="546.3" cy="1833.7" r="2.55"/><circle cx="522.3" cy="1805.3" r="2.55"/><circle cx="547.6" cy="1886.0" r="2.55"/><circle cx="535.4" cy="1894.8" r="2.55"/><circle cx="589.1" cy="1929.7" r="2.55"/><circle cx="606.6" cy="1929.7" r="2.55"/><circle cx="555.1" cy="1958.1" r="2.55"/><circle cx="542.0" cy="1980.0" r="2.55"/><circle cx="502.7" cy="1966.0" r="2.55"/><circle cx="488.3" cy="1975.6" r="2.55"/><circle cx="590.0" cy="1984.3" r="2.55"/><circle cx="614.0" cy="1971.2" r="2.55"/><circle cx="642.4" cy="1953.8" r="2.55"/><circle cx="657.7" cy="1966.0" r="2.55"/><circle cx="618.4" cy="2001.8" r="2.55"/><circle cx="406.6" cy="2017.0" r="2.55"/><circle cx="376.0" cy="1958.0" r="2.55"/><circle cx="327.0" cy="1960.0" r="2.55"/><circle cx="290.9" cy="2004.0" r="2.55"/><circle cx="310.0" cy="1981.0" r="2.55"/><circle cx="311.0" cy="1986.0" r="2.55"/><circle cx="292.0" cy="1828.0" r="2.55"/><circle cx="300.0" cy="1875.0" r="2.55"/><circle cx="404.0" cy="1766.0" r="2.55"/><circle cx="410.0" cy="1791.0" r="2.55"/><circle cx="460.0" cy="1757.0" r="2.55"/><circle cx="490.0" cy="1760.0" r="2.55"/><circle cx="500.0" cy="1770.0" r="2.55"/><circle cx="308.4" cy="1887.2" r="2.55"/><circle cx="373.9" cy="1860.0" r="2.55"/><circle cx="361.5" cy="1845.7" r="2.55"/><circle cx="348.1" cy="1835.8" r="2.55"/><circle cx="385.7" cy="1833.4" r="2.55"/><circle cx="350.1" cy="1892.9" r="2.55"/><circle cx="350.4" cy="1886.5" r="2.55"/><circle cx="415.9" cy="1847.7" r="2.55"/><circle cx="363.1" cy="1882.9" r="2.55"/><circle cx="343.4" cy="1871.9" r="2.55"/><circle cx="359.1" cy="1857.1" r="2.55"/><circle cx="326.9" cy="1874.8" r="2.55"/><circle cx="442.7" cy="1802.5" r="2.55"/><circle cx="410.3" cy="1815.1" r="2.55"/><circle cx="373.3" cy="1862.7" r="2.55"/><circle cx="339.3" cy="1887.5" r="2.55"/><circle cx="431.9" cy="1842.6" r="2.55"/><circle cx="338.3" cy="1890.1" r="2.55"/><circle cx="402.4" cy="1847.0" r="2.55"/><circle cx="346.7" cy="1876.7" r="2.55"/><circle cx="374.8" cy="1893.6" r="2.55"/><circle cx="437.2" cy="1787.2" r="2.55"/><circle cx="413.0" cy="1863.6" r="2.55"/><circle cx="319.6" cy="1869.9" r="2.55"/><circle cx="351.8" cy="1863.7" r="2.55"/><circle cx="349.2" cy="1847.5" r="2.55"/><circle cx="300.0" cy="1927.3" r="2.55"/><circle cx="402.3" cy="1909.2" r="2.55"/><circle cx="340.5" cy="1840.9" r="2.55"/><circle cx="373.0" cy="1887.5" r="2.55"/><circle cx="347.9" cy="1842.9" r="2.55"/><circle cx="409.0" cy="1850.4" r="2.55"/><circle cx="379.1" cy="1855.2" r="2.55"/><circle cx="365.1" cy="1871.8" r="2.55"/><circle cx="360.1" cy="1848.8" r="2.55"/><circle cx="346.3" cy="1861.5" r="2.55"/><circle cx="386.6" cy="1849.2" r="2.55"/><circle cx="446.8" cy="1811.4" r="2.55"/><circle cx="402.3" cy="1847.7" r="2.55"/><circle cx="300.1" cy="1920.4" r="2.55"/><circle cx="384.4" cy="1859.5" r="2.55"/><circle cx="385.0" cy="1840.0" r="2.55"/><circle cx="416.1" cy="1893.1" r="2.55"/><circle cx="295.5" cy="1879.9" r="2.55"/><circle cx="385.9" cy="1851.3" r="2.55"/><circle cx="315.2" cy="1861.7" r="2.55"/><circle cx="307.5" cy="1883.1" r="2.55"/><circle cx="352.2" cy="1841.5" r="2.55"/><circle cx="411.8" cy="1805.0" r="2.55"/><circle cx="402.5" cy="1888.4" r="2.55"/><circle cx="419.3" cy="1807.5" r="2.55"/><circle cx="394.8" cy="1842.3" r="2.55"/><circle cx="403.2" cy="1875.9" r="2.55"/><circle cx="355.9" cy="1864.1" r="2.55"/><circle cx="454.2" cy="1841.8" r="2.55"/><circle cx="360.1" cy="1877.6" r="2.55"/><circle cx="392.9" cy="1851.9" r="2.55"/><circle cx="321.1" cy="1834.9" r="2.55"/><circle cx="366.7" cy="1833.8" r="2.55"/><circle cx="409.9" cy="1888.8" r="2.55"/><circle cx="469.8" cy="1871.3" r="2.55"/><circle cx="340.8" cy="1878.9" r="2.55"/><circle cx="451.4" cy="1849.7" r="2.55"/><circle cx="414.0" cy="1859.1" r="2.55"/><circle cx="407.8" cy="1891.4" r="2.55"/><circle cx="353.1" cy="1859.0" r="2.55"/><circle cx="303.8" cy="1900.4" r="2.55"/><circle cx="432.1" cy="1839.7" r="2.55"/><circle cx="360.2" cy="1916.3" r="2.55"/><circle cx="413.2" cy="1794.3" r="2.55"/><circle cx="336.2" cy="1932.0" r="2.55"/><circle cx="369.5" cy="1828.3" r="2.55"/><circle cx="395.8" cy="1844.5" r="2.55"/><circle cx="368.5" cy="1913.1" r="2.55"/><circle cx="298.1" cy="1844.8" r="2.55"/><circle cx="413.1" cy="1807.6" r="2.55"/><circle cx="351.5" cy="1893.5" r="2.55"/><circle cx="412.2" cy="1832.5" r="2.55"/><circle cx="387.4" cy="1861.9" r="2.55"/><circle cx="468.0" cy="1837.7" r="2.55"/><circle cx="382.9" cy="1888.0" r="2.55"/><circle cx="411.6" cy="1833.9" r="2.55"/><circle cx="404.4" cy="1825.6" r="2.55"/><circle cx="416.5" cy="1775.1" r="2.55"/><circle cx="289.9" cy="1903.8" r="2.55"/><circle cx="381.0" cy="1883.5" r="2.55"/><circle cx="368.8" cy="1816.0" r="2.55"/><circle cx="422.2" cy="1820.5" r="2.55"/><circle cx="394.2" cy="1847.3" r="2.55"/><circle cx="410.6" cy="1836.1" r="2.55"/><circle cx="316.4" cy="1834.9" r="2.55"/><circle cx="409.3" cy="1812.4" r="2.55"/><circle cx="373.5" cy="1831.5" r="2.55"/><circle cx="362.7" cy="1855.5" r="2.55"/><circle cx="452.1" cy="1860.3" r="2.55"/><circle cx="301.4" cy="1895.0" r="2.55"/><circle cx="412.4" cy="1848.9" r="2.55"/><circle cx="361.2" cy="1834.8" r="2.55"/><circle cx="443.6" cy="1859.9" r="2.55"/><circle cx="351.1" cy="1872.4" r="2.55"/><circle cx="405.8" cy="1890.2" r="2.55"/><circle cx="423.6" cy="1832.1" r="2.55"/><circle cx="415.6" cy="1884.0" r="2.55"/><circle cx="341.1" cy="1841.4" r="2.55"/><circle cx="327.8" cy="1920.7" r="2.55"/><circle cx="394.3" cy="1911.5" r="2.55"/><circle cx="464.1" cy="1769.0" r="2.55"/><circle cx="353.4" cy="1873.4" r="2.55"/><circle cx="376.7" cy="1856.0" r="2.55"/><circle cx="372.3" cy="1839.6" r="2.55"/><circle cx="390.8" cy="1847.9" r="2.55"/><circle cx="420.4" cy="1822.6" r="2.55"/><circle cx="380.0" cy="1899.8" r="2.55"/><circle cx="468.1" cy="1803.1" r="2.55"/><circle cx="345.5" cy="1897.1" r="2.55"/><circle cx="439.0" cy="1853.2" r="2.55"/><circle cx="397.0" cy="1863.0" r="2.55"/><circle cx="371.4" cy="1868.7" r="2.55"/><circle cx="364.6" cy="1901.0" r="2.55"/><circle cx="390.0" cy="1829.9" r="2.55"/><circle cx="358.2" cy="1850.5" r="2.55"/><circle cx="378.3" cy="1886.6" r="2.55"/><circle cx="372.2" cy="1871.5" r="2.55"/><circle cx="291.3" cy="1901.8" r="2.55"/><circle cx="344.7" cy="1905.0" r="2.55"/><circle cx="328.5" cy="1880.7" r="2.55"/><circle cx="394.2" cy="1854.3" r="2.55"/><circle cx="390.9" cy="1916.9" r="2.55"/><circle cx="443.5" cy="1829.9" r="2.55"/><circle cx="388.1" cy="1858.1" r="2.55"/><circle cx="440.7" cy="1861.7" r="2.55"/><circle cx="434.3" cy="1833.7" r="2.55"/><circle cx="361.9" cy="1826.2" r="2.55"/><circle cx="328.9" cy="1932.9" r="2.55"/><circle cx="353.6" cy="1870.6" r="2.55"/><circle cx="437.7" cy="1881.8" r="2.55"/><circle cx="404.4" cy="1874.8" r="2.55"/><circle cx="365.3" cy="1828.8" r="2.55"/><circle cx="370.1" cy="1881.0" r="2.55"/><circle cx="431.9" cy="1836.6" r="2.55"/><circle cx="317.5" cy="1859.3" r="2.55"/><circle cx="428.1" cy="1849.5" r="2.55"/><circle cx="458.7" cy="1863.8" r="2.55"/><circle cx="353.1" cy="1899.6" r="2.55"/><circle cx="364.5" cy="1827.2" r="2.55"/><circle cx="458.8" cy="1813.5" r="2.55"/><circle cx="444.2" cy="1834.5" r="2.55"/><circle cx="296.9" cy="1900.2" r="2.55"/><circle cx="405.9" cy="1808.2" r="2.55"/><circle cx="366.9" cy="1873.9" r="2.55"/><circle cx="390.9" cy="1913.2" r="2.55"/><circle cx="351.7" cy="1918.8" r="2.55"/><circle cx="367.3" cy="1881.2" r="2.55"/><circle cx="293.7" cy="1920.3" r="2.55"/><circle cx="416.4" cy="1811.9" r="2.55"/><circle cx="478.1" cy="1906.6" r="2.55"/><circle cx="362.6" cy="1890.2" r="2.55"/><circle cx="390.5" cy="1878.2" r="2.55"/><circle cx="429.2" cy="1837.5" r="2.55"/><circle cx="332.5" cy="1930.8" r="2.55"/><circle cx="355.9" cy="1837.5" r="2.55"/><circle cx="410.3" cy="1836.4" r="2.55"/><circle cx="267.1" cy="1919.3" r="2.55"/><circle cx="412.0" cy="1843.6" r="2.55"/><circle cx="407.5" cy="1859.7" r="2.55"/><circle cx="327.8" cy="1897.2" r="2.55"/><circle cx="424.1" cy="1830.8" r="2.55"/><circle cx="408.6" cy="1836.5" r="2.55"/><circle cx="448.2" cy="1842.9" r="2.55"/><circle cx="397.9" cy="1811.5" r="2.55"/><circle cx="376.1" cy="1897.2" r="2.55"/><circle cx="409.5" cy="1827.5" r="2.55"/><circle cx="426.0" cy="1810.3" r="2.55"/><circle cx="395.5" cy="1870.8" r="2.55"/><circle cx="324.8" cy="1868.4" r="2.55"/><circle cx="351.2" cy="1868.3" r="2.55"/><circle cx="338.6" cy="1911.2" r="2.55"/><circle cx="370.9" cy="1870.5" r="2.55"/><circle cx="362.3" cy="1854.5" r="2.55"/><circle cx="409.0" cy="1825.0" r="2.55"/><circle cx="310.5" cy="1895.0" r="2.55"/><circle cx="360.8" cy="1865.6" r="2.55"/><circle cx="265.8" cy="1922.6" r="2.55"/><circle cx="368.5" cy="1870.7" r="2.55"/><circle cx="419.4" cy="1807.9" r="2.55"/><circle cx="370.8" cy="1934.3" r="2.55"/><circle cx="421.9" cy="1883.3" r="2.55"/><circle cx="385.2" cy="1878.8" r="2.55"/><circle cx="415.4" cy="1879.8" r="2.55"/><circle cx="372.3" cy="1837.2" r="2.55"/><circle cx="424.1" cy="1815.0" r="2.55"/><circle cx="329.1" cy="1899.1" r="2.55"/><circle cx="309.7" cy="1890.2" r="2.55"/><circle cx="444.0" cy="1789.9" r="2.55"/><circle cx="463.9" cy="1820.5" r="2.55"/><circle cx="433.3" cy="1875.2" r="2.55"/><circle cx="413.6" cy="1846.4" r="2.55"/><circle cx="373.7" cy="1880.5" r="2.55"/><circle cx="336.0" cy="1853.4" r="2.55"/><circle cx="284.4" cy="1868.9" r="2.55"/><circle cx="441.1" cy="1838.5" r="2.55"/><circle cx="418.3" cy="1856.0" r="2.55"/><circle cx="337.9" cy="1916.9" r="2.55"/><circle cx="360.9" cy="1834.6" r="2.55"/><circle cx="377.3" cy="1831.0" r="2.55"/><circle cx="376.7" cy="1893.8" r="2.55"/><circle cx="422.5" cy="1799.4" r="2.55"/><circle cx="345.4" cy="1886.6" r="2.55"/><circle cx="358.9" cy="1886.7" r="2.55"/><circle cx="378.0" cy="1861.8" r="2.55"/><circle cx="409.0" cy="1834.5" r="2.55"/><circle cx="413.6" cy="1905.0" r="2.55"/><circle cx="435.7" cy="1844.8" r="2.55"/><circle cx="397.8" cy="1869.7" r="2.55"/><circle cx="402.6" cy="1866.5" r="2.55"/><circle cx="339.6" cy="1927.6" r="2.55"/><circle cx="434.8" cy="1809.5" r="2.55"/><circle cx="384.6" cy="1885.6" r="2.55"/><circle cx="397.3" cy="1879.9" r="2.55"/><circle cx="387.2" cy="1830.0" r="2.55"/><circle cx="375.1" cy="1827.2" r="2.55"/><circle cx="431.1" cy="1831.9" r="2.55"/><circle cx="331.2" cy="1908.1" r="2.55"/><circle cx="398.0" cy="1877.0" r="2.55"/><circle cx="435.0" cy="1877.9" r="2.55"/><circle cx="467.1" cy="1821.8" r="2.55"/><circle cx="318.2" cy="1885.2" r="2.55"/><circle cx="347.0" cy="1912.8" r="2.55"/><circle cx="338.2" cy="1845.0" r="2.55"/><circle cx="379.2" cy="1778.9" r="2.55"/><circle cx="367.0" cy="1810.7" r="2.55"/><circle cx="388.7" cy="1813.1" r="2.55"/><circle cx="344.0" cy="1829.9" r="2.55"/><circle cx="302.8" cy="1817.9" r="2.55"/><circle cx="351.3" cy="1801.0" r="2.55"/><circle cx="335.1" cy="1809.0" r="2.55"/><circle cx="328.2" cy="1813.6" r="2.55"/><circle cx="412.2" cy="1805.7" r="2.55"/><circle cx="366.2" cy="1807.7" r="2.55"/><circle cx="287.9" cy="1885.0" r="2.55"/><circle cx="389.3" cy="1837.7" r="2.55"/><circle cx="314.5" cy="1800.7" r="2.55"/><circle cx="386.5" cy="1751.6" r="2.55"/><circle cx="367.6" cy="1796.5" r="2.55"/><circle cx="415.0" cy="1841.9" r="2.55"/><circle cx="338.2" cy="1822.4" r="2.55"/><circle cx="352.1" cy="1850.0" r="2.55"/><circle cx="366.7" cy="1821.6" r="2.55"/><circle cx="328.7" cy="1841.1" r="2.55"/><circle cx="466.9" cy="1750.4" r="2.55"/><circle cx="389.1" cy="1805.2" r="2.55"/><circle cx="422.5" cy="1834.1" r="2.55"/><circle cx="386.7" cy="1778.2" r="2.55"/><circle cx="370.2" cy="1793.9" r="2.55"/><circle cx="376.7" cy="1773.3" r="2.55"/><circle cx="416.1" cy="1848.5" r="2.55"/><circle cx="332.5" cy="1865.2" r="2.55"/><circle cx="324.2" cy="1891.2" r="2.55"/><circle cx="282.4" cy="1857.1" r="2.55"/><circle cx="348.7" cy="1816.7" r="2.55"/><circle cx="296.7" cy="1856.0" r="2.55"/><circle cx="398.0" cy="1844.1" r="2.55"/><circle cx="322.8" cy="1797.0" r="2.55"/><circle cx="320.4" cy="1831.7" r="2.55"/><circle cx="321.0" cy="1832.0" r="2.55"/><circle cx="321.4" cy="1838.4" r="2.55"/><circle cx="393.2" cy="1820.8" r="2.55"/><circle cx="341.0" cy="1827.0" r="2.55"/><circle cx="361.0" cy="1812.5" r="2.55"/><circle cx="396.9" cy="1811.8" r="2.55"/><circle cx="386.8" cy="1797.2" r="2.55"/><circle cx="315.3" cy="1860.3" r="2.55"/><circle cx="282.6" cy="1822.0" r="2.55"/><circle cx="339.7" cy="1862.1" r="2.55"/><circle cx="409.5" cy="1794.9" r="2.55"/><circle cx="477.5" cy="1744.2" r="2.55"/><circle cx="353.6" cy="1769.7" r="2.55"/><circle cx="415.1" cy="1797.8" r="2.55"/><circle cx="342.6" cy="1858.2" r="2.55"/><circle cx="359.1" cy="1768.7" r="2.55"/><circle cx="323.7" cy="1871.0" r="2.55"/><circle cx="390.0" cy="1787.9" r="2.55"/><circle cx="412.7" cy="1795.1" r="2.55"/><circle cx="439.8" cy="1805.4" r="2.55"/><circle cx="380.4" cy="1780.6" r="2.55"/><circle cx="428.1" cy="1774.8" r="2.55"/><circle cx="419.5" cy="1810.7" r="2.55"/><circle cx="417.8" cy="1756.9" r="2.55"/><circle cx="306.0" cy="1842.4" r="2.55"/><circle cx="500.4" cy="1759.4" r="2.55"/><circle cx="413.3" cy="1795.3" r="2.55"/><circle cx="318.5" cy="1830.7" r="2.55"/><circle cx="414.6" cy="1774.7" r="2.55"/><circle cx="341.6" cy="1806.5" r="2.55"/><circle cx="454.8" cy="1756.1" r="2.55"/><circle cx="407.3" cy="1790.3" r="2.55"/><circle cx="495.5" cy="1803.9" r="2.55"/><circle cx="320.9" cy="1832.7" r="2.55"/><circle cx="344.5" cy="1785.3" r="2.55"/><circle cx="397.6" cy="1775.2" r="2.55"/><circle cx="382.7" cy="1838.5" r="2.55"/><circle cx="396.5" cy="1836.9" r="2.55"/><circle cx="369.4" cy="1817.1" r="2.55"/><circle cx="351.9" cy="1825.3" r="2.55"/><circle cx="345.0" cy="1776.0" r="2.55"/><circle cx="359.9" cy="1795.6" r="2.55"/><circle cx="348.3" cy="1831.4" r="2.55"/><circle cx="374.8" cy="1804.9" r="2.55"/><circle cx="382.3" cy="1751.7" r="2.55"/><circle cx="324.1" cy="1824.1" r="2.55"/><circle cx="317.0" cy="1837.7" r="2.55"/><circle cx="352.5" cy="1855.7" r="2.55"/><circle cx="392.0" cy="1800.3" r="2.55"/><circle cx="381.6" cy="1882.6" r="2.55"/><circle cx="272.7" cy="1839.9" r="2.55"/><circle cx="331.2" cy="1784.7" r="2.55"/><circle cx="311.2" cy="1857.4" r="2.55"/><circle cx="396.8" cy="1789.6" r="2.55"/><circle cx="425.7" cy="1765.8" r="2.55"/><circle cx="404.0" cy="1785.5" r="2.55"/><circle cx="448.7" cy="1899.3" r="2.55"/><circle cx="344.6" cy="1921.7" r="2.55"/><circle cx="365.5" cy="1872.5" r="2.55"/><circle cx="338.2" cy="1924.1" r="2.55"/><circle cx="370.3" cy="1889.7" r="2.55"/><circle cx="398.6" cy="1893.3" r="2.55"/><circle cx="316.6" cy="1886.5" r="2.55"/><circle cx="395.9" cy="1900.7" r="2.55"/><circle cx="275.9" cy="1919.4" r="2.55"/><circle cx="326.7" cy="1891.6" r="2.55"/><circle cx="342.9" cy="1882.7" r="2.55"/><circle cx="372.0" cy="1905.0" r="2.55"/><circle cx="407.9" cy="1906.8" r="2.55"/><circle cx="383.8" cy="1894.2" r="2.55"/><circle cx="439.7" cy="1869.7" r="2.55"/><circle cx="329.8" cy="1912.2" r="2.55"/><circle cx="330.5" cy="1922.5" r="2.55"/><circle cx="356.1" cy="1928.2" r="2.55"/><circle cx="365.2" cy="1891.9" r="2.55"/><circle cx="330.7" cy="1903.5" r="2.55"/><circle cx="390.5" cy="1910.8" r="2.55"/><circle cx="357.6" cy="1886.2" r="2.55"/><circle cx="265.6" cy="1902.8" r="2.55"/><circle cx="307.2" cy="1911.0" r="2.55"/><circle cx="335.5" cy="1943.7" r="2.55"/><circle cx="309.2" cy="1892.2" r="2.55"/><circle cx="306.0" cy="1895.5" r="2.55"/><circle cx="363.5" cy="1904.4" r="2.55"/><circle cx="262.1" cy="1955.6" r="2.55"/><circle cx="303.0" cy="1933.9" r="2.55"/><circle cx="326.5" cy="1864.6" r="2.55"/><circle cx="300.4" cy="1922.8" r="2.55"/><circle cx="392.8" cy="1882.2" r="2.55"/><circle cx="299.9" cy="1905.0" r="2.55"/><circle cx="335.3" cy="1906.3" r="2.55"/><circle cx="302.9" cy="1898.3" r="2.55"/><circle cx="415.7" cy="1855.1" r="2.55"/><circle cx="308.7" cy="1897.0" r="2.55"/><circle cx="344.2" cy="1892.6" r="2.55"/><circle cx="422.3" cy="1882.5" r="2.55"/><circle cx="286.8" cy="1852.5" r="2.55"/><circle cx="299.5" cy="1845.2" r="2.55"/><circle cx="302.2" cy="1834.5" r="2.55"/><circle cx="318.9" cy="1827.6" r="2.55"/><circle cx="320.7" cy="1825.4" r="2.55"/><circle cx="337.1" cy="1815.9" r="2.55"/><circle cx="344.6" cy="1808.1" r="2.55"/><circle cx="348.0" cy="1801.9" r="2.55"/><circle cx="353.9" cy="1797.3" r="2.55"/><circle cx="364.9" cy="1789.9" r="2.55"/><circle cx="371.3" cy="1780.5" r="2.55"/><circle cx="380.3" cy="1776.8" r="2.55"/><circle cx="390.1" cy="1772.5" r="2.55"/><circle cx="385.1" cy="1762.9" r="2.55"/><circle cx="287.4" cy="1781.7" r="2.55"/><circle cx="306.9" cy="1798.9" r="2.55"/><circle cx="312.5" cy="1761.9" r="2.55"/><circle cx="468.6" cy="1794.2" r="2.55"/><circle cx="445.9" cy="1750.6" r="2.55"/><circle cx="287.9" cy="1751.1" r="2.55"/><circle cx="384.5" cy="1796.7" r="2.55"/><circle cx="309.5" cy="1765.9" r="2.55"/><circle cx="377.3" cy="1777.9" r="2.55"/><circle cx="467.6" cy="1764.2" r="2.55"/></g>
<filter id="bl3" x="-50%" y="-50%" width="200%" height="200%"><feGaussianBlur stdDeviation="3"/></filter>
<filter id="bl5" x="-50%" y="-50%" width="200%" height="200%"><feGaussianBlur stdDeviation="5"/></filter>
<filter id="bl6" x="-50%" y="-50%" width="200%" height="200%"><feGaussianBlur stdDeviation="6"/></filter>
<filter id="bl8" x="-50%" y="-50%" width="200%" height="200%"><feGaussianBlur stdDeviation="8"/></filter>
<filter id="bl10" x="-50%" y="-50%" width="200%" height="200%"><feGaussianBlur stdDeviation="10"/></filter>
<filter id="bl12" x="-50%" y="-50%" width="200%" height="200%"><feGaussianBlur stdDeviation="12"/></filter>
<filter id="bl14" x="-50%" y="-50%" width="200%" height="200%"><feGaussianBlur stdDeviation="14"/></filter>
<filter id="bl15" x="-50%" y="-50%" width="200%" height="200%"><feGaussianBlur stdDeviation="15"/></filter>
<filter id="bl16" x="-50%" y="-50%" width="200%" height="200%"><feGaussianBlur stdDeviation="16"/></filter>
<filter id="bl18" x="-50%" y="-50%" width="200%" height="200%"><feGaussianBlur stdDeviation="18"/></filter>
<filter id="bl20" x="-50%" y="-50%" width="200%" height="200%"><feGaussianBlur stdDeviation="20"/></filter>
<filter id="bl22" x="-50%" y="-50%" width="200%" height="200%"><feGaussianBlur stdDeviation="22"/></filter>
<filter id="bl24" x="-50%" y="-50%" width="200%" height="200%"><feGaussianBlur stdDeviation="24"/></filter>
<filter id="bl25" x="-50%" y="-50%" width="200%" height="200%"><feGaussianBlur stdDeviation="25"/></filter>
<filter id="bl28" x="-50%" y="-50%" width="200%" height="200%"><feGaussianBlur stdDeviation="28"/></filter>
<filter id="bl35" x="-50%" y="-50%" width="200%" height="200%"><feGaussianBlur stdDeviation="35"/></filter>
<clipPath id="clipA"><rect x="97.0" y="212.0" width="605.0" height="770.5"/></clipPath>
<clipPath id="clipB"><rect x="802.0" y="212.0" width="604.0" height="770.5"/></clipPath>
<clipPath id="clipC"><rect x="100.3" y="1304.6" width="594.7" height="769.4000000000001"/></clipPath>
<clipPath id="clipD"><rect x="799.0" y="1297.0" width="599.0" height="772.0"/></clipPath>
<linearGradient id="seis" x1="0" x2="1" y1="0" y2="0"><stop offset="0" stop-color="#00004c"/><stop offset="0.25" stop-color="#0000ff"/><stop offset="0.5" stop-color="#ffffff"/><stop offset="0.75" stop-color="#ff0000"/><stop offset="1" stop-color="#800000"/></linearGradient>
<linearGradient id="starg" x1="0" x2="0" y1="0" y2="1"><stop offset="0" stop-color="#fde3cc"/><stop offset="1" stop-color="#fbc796"/></linearGradient></defs>
<g clip-path="url(#clipA)">
<ellipse cx="225" cy="865" rx="150" ry="120" transform="rotate(-20 225 865)" fill="#ff0000" fill-opacity="0.12" filter="url(#bl35)"/>
<ellipse cx="200" cy="765" rx="100" ry="60" transform="rotate(0 200 765)" fill="#ff0000" fill-opacity="0.04" filter="url(#bl25)"/>
<ellipse cx="295" cy="835" rx="90" ry="50" transform="rotate(-25 295 835)" fill="#ff0000" fill-opacity="0.13" filter="url(#bl22)"/>
<ellipse cx="250" cy="890" rx="120" ry="35" transform="rotate(-25 250 890)" fill="#ff0000" fill-opacity="0.08" filter="url(#bl22)"/>
<ellipse cx="360" cy="818" rx="75" ry="48" transform="rotate(-20 360 818)" fill="#ff0000" fill-opacity="0.21" filter="url(#bl20)"/>
<ellipse cx="420" cy="830" rx="60" ry="40" transform="rotate(0 420 830)" fill="#ff0000" fill-opacity="0.1" filter="url(#bl20)"/>
<ellipse cx="400" cy="965" rx="320" ry="35" transform="rotate(0 400 965)" fill="#ff0000" fill-opacity="0.07" filter="url(#bl20)"/>
<ellipse cx="508" cy="578" rx="58" ry="30" transform="rotate(0 508 578)" fill="#ff0000" fill-opacity="0.19" filter="url(#bl16)"/>
<ellipse cx="470" cy="592" rx="40" ry="20" transform="rotate(0 470 592)" fill="#ff0000" fill-opacity="0.08" filter="url(#bl14)"/>
<ellipse cx="575" cy="600" rx="40" ry="22" transform="rotate(0 575 600)" fill="#ff0000" fill-opacity="0.1" filter="url(#bl16)"/>
<ellipse cx="641" cy="616" rx="50" ry="42" transform="rotate(0 641 616)" fill="#ff0000" fill-opacity="0.28" filter="url(#bl20)"/>
<ellipse cx="690" cy="700" rx="30" ry="80" transform="rotate(0 690 700)" fill="#ff0000" fill-opacity="0.13" filter="url(#bl20)"/>
<ellipse cx="615" cy="700" rx="60" ry="90" transform="rotate(0 615 700)" fill="#ff0000" fill-opacity="0.11" filter="url(#bl25)"/>
<ellipse cx="670" cy="800" rx="40" ry="60" transform="rotate(0 670 800)" fill="#ff0000" fill-opacity="0.08" filter="url(#bl20)"/>
<ellipse cx="650" cy="900" rx="60" ry="80" transform="rotate(0 650 900)" fill="#ff0000" fill-opacity="0.05" filter="url(#bl25)"/>
<ellipse cx="230" cy="370" rx="80" ry="16" transform="rotate(0 230 370)" fill="#ff0000" fill-opacity="0.04" filter="url(#bl14)"/>
<ellipse cx="140" cy="495" rx="50" ry="20" transform="rotate(0 140 495)" fill="#ff0000" fill-opacity="0.05" filter="url(#bl14)"/>
<ellipse cx="160" cy="550" rx="60" ry="16" transform="rotate(0 160 550)" fill="#ff0000" fill-opacity="0.04" filter="url(#bl14)"/>
<ellipse cx="680" cy="400" rx="30" ry="40" transform="rotate(0 680 400)" fill="#ff0000" fill-opacity="0.05" filter="url(#bl14)"/>
</g>
<g clip-path="url(#clipB)">
<ellipse cx="930" cy="865" rx="150" ry="120" transform="rotate(-20 930 865)" fill="#ff0000" fill-opacity="0.12" filter="url(#bl35)"/>
<ellipse cx="905" cy="765" rx="100" ry="60" transform="rotate(0 905 765)" fill="#ff0000" fill-opacity="0.04" filter="url(#bl25)"/>
<ellipse cx="1000" cy="835" rx="90" ry="50" transform="rotate(-25 1000 835)" fill="#ff0000" fill-opacity="0.13" filter="url(#bl22)"/>
<ellipse cx="955" cy="890" rx="120" ry="35" transform="rotate(-25 955 890)" fill="#ff0000" fill-opacity="0.08" filter="url(#bl22)"/>
<ellipse cx="1065" cy="818" rx="75" ry="48" transform="rotate(-20 1065 818)" fill="#ff0000" fill-opacity="0.21" filter="url(#bl20)"/>
<ellipse cx="1125" cy="830" rx="60" ry="40" transform="rotate(0 1125 830)" fill="#ff0000" fill-opacity="0.1" filter="url(#bl20)"/>
<ellipse cx="1105" cy="965" rx="320" ry="35" transform="rotate(0 1105 965)" fill="#ff0000" fill-opacity="0.07" filter="url(#bl20)"/>
<ellipse cx="1346" cy="616" rx="50" ry="42" transform="rotate(0 1346 616)" fill="#ff0000" fill-opacity="0.28" filter="url(#bl20)"/>
<ellipse cx="1395" cy="700" rx="30" ry="80" transform="rotate(0 1395 700)" fill="#ff0000" fill-opacity="0.13" filter="url(#bl20)"/>
<ellipse cx="1320" cy="700" rx="60" ry="90" transform="rotate(0 1320 700)" fill="#ff0000" fill-opacity="0.11" filter="url(#bl25)"/>
<ellipse cx="1375" cy="800" rx="40" ry="60" transform="rotate(0 1375 800)" fill="#ff0000" fill-opacity="0.08" filter="url(#bl20)"/>
<ellipse cx="1355" cy="900" rx="60" ry="80" transform="rotate(0 1355 900)" fill="#ff0000" fill-opacity="0.05" filter="url(#bl25)"/>
<ellipse cx="935" cy="370" rx="80" ry="16" transform="rotate(0 935 370)" fill="#ff0000" fill-opacity="0.04" filter="url(#bl14)"/>
<ellipse cx="845" cy="495" rx="50" ry="20" transform="rotate(0 845 495)" fill="#ff0000" fill-opacity="0.05" filter="url(#bl14)"/>
<ellipse cx="865" cy="550" rx="60" ry="16" transform="rotate(0 865 550)" fill="#ff0000" fill-opacity="0.04" filter="url(#bl14)"/>
<ellipse cx="1385" cy="400" rx="30" ry="40" transform="rotate(0 1385 400)" fill="#ff0000" fill-opacity="0.05" filter="url(#bl14)"/>
<ellipse cx="1215" cy="575" rx="55" ry="22" transform="rotate(0 1215 575)" fill="#ff0000" fill-opacity="0.16" filter="url(#bl14)"/>
<ellipse cx="1345" cy="672" rx="70" ry="50" transform="rotate(0 1345 672)" fill="#ff0000" fill-opacity="0.1" filter="url(#bl20)"/>
<ellipse cx="1300" cy="605" rx="110" ry="30" transform="rotate(0 1300 605)" fill="#ff0000" fill-opacity="0.14" filter="url(#bl16)"/>
</g>
<g clip-path="url(#clipC)">
<ellipse cx="368" cy="1905" rx="70" ry="42" transform="rotate(-35 368 1905)" fill="#ff0000" fill-opacity="0.85" filter="url(#bl15)"/>
<ellipse cx="320" cy="1940" rx="75" ry="34" transform="rotate(-25 320 1940)" fill="#ff0000" fill-opacity="0.3" filter="url(#bl20)"/>
<ellipse cx="225" cy="1982" rx="115" ry="45" transform="rotate(-12 225 1982)" fill="#ff0000" fill-opacity="0.22" filter="url(#bl24)"/>
<ellipse cx="390" cy="1880" rx="130" ry="80" transform="rotate(-35 390 1880)" fill="#ff0000" fill-opacity="0.14" filter="url(#bl28)"/>
<ellipse cx="430" cy="1848" rx="60" ry="55" transform="rotate(-35 430 1848)" fill="#ff0000" fill-opacity="0.3" filter="url(#bl20)"/>
<ellipse cx="483" cy="1675" rx="50" ry="33" transform="rotate(0 483 1675)" fill="#ff0000" fill-opacity="0.52" filter="url(#bl12)"/>
<ellipse cx="530" cy="1672" rx="30" ry="30" transform="rotate(0 530 1672)" fill="#ff0000" fill-opacity="0.15" filter="url(#bl12)"/>
<ellipse cx="445" cy="1690" rx="35" ry="25" transform="rotate(0 445 1690)" fill="#ff0000" fill-opacity="0.12" filter="url(#bl12)"/>
<ellipse cx="628" cy="1667" rx="68" ry="26" transform="rotate(0 628 1667)" fill="#ff0000" fill-opacity="0.12" filter="url(#bl12)"/>
<ellipse cx="672" cy="1660" rx="28" ry="26" transform="rotate(0 672 1660)" fill="#ff0000" fill-opacity="0.07" filter="url(#bl10)"/>
<ellipse cx="672" cy="1515" rx="24" ry="22" transform="rotate(0 672 1515)" fill="#ff0000" fill-opacity="0.2" filter="url(#bl10)"/>
<ellipse cx="400" cy="1388" rx="100" ry="7" transform="rotate(-4 400 1388)" fill="#ff0000" fill-opacity="0.14" filter="url(#bl5)"/>
<ellipse cx="390" cy="1445" rx="60" ry="22" transform="rotate(0 390 1445)" fill="#ff0000" fill-opacity="0.04" filter="url(#bl14)"/>
<ellipse cx="600" cy="1365" rx="50" ry="10" transform="rotate(0 600 1365)" fill="#ff0000" fill-opacity="0.03" filter="url(#bl10)"/>
</g>
<g clip-path="url(#clipD)">
<ellipse cx="1068" cy="1878" rx="80" ry="45" transform="rotate(-35 1068 1878)" fill="#ff0000" fill-opacity="0.3" filter="url(#bl18)"/>
<ellipse cx="1000" cy="1935" rx="80" ry="32" transform="rotate(-30 1000 1935)" fill="#ff0000" fill-opacity="0.22" filter="url(#bl20)"/>
<ellipse cx="1120" cy="1815" rx="45" ry="45" transform="rotate(-35 1120 1815)" fill="#ff0000" fill-opacity="0.16" filter="url(#bl18)"/>
<ellipse cx="1178" cy="1682" rx="40" ry="35" transform="rotate(0 1178 1682)" fill="#ff0000" fill-opacity="0.4" filter="url(#bl12)"/>
<rect x="1305" y="1678" width="95" height="40" fill="#0000ff" fill-opacity="0.3" filter="url(#bl6)"/>
<rect x="1295" y="1718" width="105" height="70" fill="#0000ff" fill-opacity="0.15" filter="url(#bl8)"/>
<ellipse cx="1280" cy="1640" rx="50" ry="40" transform="rotate(0 1280 1640)" fill="#0000ff" fill-opacity="0.06" filter="url(#bl16)"/>
<ellipse cx="1215" cy="1905" rx="95" ry="70" transform="rotate(-35 1215 1905)" fill="#0000ff" fill-opacity="0.16" filter="url(#bl24)"/>
<ellipse cx="1300" cy="1820" rx="60" ry="45" transform="rotate(-30 1300 1820)" fill="#0000ff" fill-opacity="0.1" filter="url(#bl20)"/>
<ellipse cx="1110" cy="2015" rx="120" ry="55" transform="rotate(-15 1110 2015)" fill="#0000ff" fill-opacity="0.17" filter="url(#bl24)"/>
<ellipse cx="1250" cy="2020" rx="100" ry="40" transform="rotate(0 1250 2020)" fill="#0000ff" fill-opacity="0.04" filter="url(#bl24)"/>
<ellipse cx="850" cy="1560" rx="60" ry="25" transform="rotate(0 850 1560)" fill="#0000ff" fill-opacity="0.05" filter="url(#bl15)"/>
<ellipse cx="880" cy="1880" rx="80" ry="30" transform="rotate(0 880 1880)" fill="#0000ff" fill-opacity="0.05" filter="url(#bl15)"/>
<ellipse cx="1090" cy="1373" rx="95" ry="8" transform="rotate(-4 1090 1373)" fill="#ff0000" fill-opacity="0.13" filter="url(#bl5)"/>
<ellipse cx="1050" cy="1430" rx="50" ry="20" transform="rotate(0 1050 1430)" fill="#ff0000" fill-opacity="0.07" filter="url(#bl12)"/>
<ellipse cx="1370" cy="1508" rx="28" ry="20" transform="rotate(0 1370 1508)" fill="#ff0000" fill-opacity="0.12" filter="url(#bl10)"/>
<ellipse cx="1376" cy="1638" rx="24" ry="14" transform="rotate(0 1376 1638)" fill="#ff0000" fill-opacity="0.1" filter="url(#bl10)"/>
</g>
<g clip-path="url(#clipA)"><g transform="translate(0,0)"><use href="#abgray"/><use href="#abgreen"/></g></g>
<g clip-path="url(#clipB)"><g transform="translate(705,0)"><use href="#abgray"/><use href="#abgreen"/></g></g>
<g clip-path="url(#clipC)"><g transform="translate(0.8,0.6)"><use href="#cdgray"/><use href="#cdgreen"/></g></g>
<g clip-path="url(#clipD)"><g transform="translate(699.5,-7)"><use href="#cdgray"/><use href="#cdgreen"/></g></g>
<rect x="97.0" y="212.0" width="605.0" height="770.5" fill="none" stroke="#7b7b7b" stroke-width="2.6"/>
<line x1="90.0" y1="212.0" x2="97.0" y2="212.0" stroke="#7b7b7b" stroke-width="2.2"/>
<text transform="translate(5.70,222.29) scale(1.0216,1)" font-family='"Liberation Sans", sans-serif' font-weight="normal" font-size="30.70" fill="#1a1a1a">-2000</text>
<line x1="90.0" y1="346.0" x2="97.0" y2="346.0" stroke="#7b7b7b" stroke-width="2.2"/>
<text transform="translate(70.50,356.29) scale(0.9096,1)" font-family='"Liberation Sans", sans-serif' font-weight="normal" font-size="30.70" fill="#1a1a1a">0</text>
<line x1="90.0" y1="480.0" x2="97.0" y2="480.0" stroke="#7b7b7b" stroke-width="2.2"/>
<text transform="translate(16.20,490.29) scale(1.0217,1)" font-family='"Liberation Sans", sans-serif' font-weight="normal" font-size="30.70" fill="#1a1a1a">2000</text>
<line x1="90.0" y1="614.0" x2="97.0" y2="614.0" stroke="#7b7b7b" stroke-width="2.2"/>
<text transform="translate(16.20,624.29) scale(1.0217,1)" font-family='"Liberation Sans", sans-serif' font-weight="normal" font-size="30.70" fill="#1a1a1a">4000</text>
<line x1="90.0" y1="748.0" x2="97.0" y2="748.0" stroke="#7b7b7b" stroke-width="2.2"/>
<text transform="translate(16.20,758.29) scale(1.0217,1)" font-family='"Liberation Sans", sans-serif' font-weight="normal" font-size="30.70" fill="#1a1a1a">6000</text>
<line x1="90.0" y1="882.0" x2="97.0" y2="882.0" stroke="#7b7b7b" stroke-width="2.2"/>
<text transform="translate(16.20,892.29) scale(1.0217,1)" font-family='"Liberation Sans", sans-serif' font-weight="normal" font-size="30.70" fill="#1a1a1a">8000</text>
<line x1="97.0" y1="982.5" x2="97.0" y2="988.5" stroke="#7b7b7b" stroke-width="2.2"/>
<text transform="translate(89.25,1015.79) scale(0.9096,1)" font-family='"Liberation Sans", sans-serif' font-weight="normal" font-size="30.70" fill="#1a1a1a">0</text>
<line x1="165.7" y1="982.5" x2="165.7" y2="988.5" stroke="#7b7b7b" stroke-width="2.2"/>
<line x1="234.4" y1="982.5" x2="234.4" y2="988.5" stroke="#7b7b7b" stroke-width="2.2"/>
<text transform="translate(199.50,1015.79) scale(1.0217,1)" font-family='"Liberation Sans", sans-serif' font-weight="normal" font-size="30.70" fill="#1a1a1a">2000</text>
<line x1="303.1" y1="982.5" x2="303.1" y2="988.5" stroke="#7b7b7b" stroke-width="2.2"/>
<line x1="371.8" y1="982.5" x2="371.8" y2="988.5" stroke="#7b7b7b" stroke-width="2.2"/>
<text transform="translate(336.90,1015.79) scale(1.0217,1)" font-family='"Liberation Sans", sans-serif' font-weight="normal" font-size="30.70" fill="#1a1a1a">4000</text>
<line x1="440.5" y1="982.5" x2="440.5" y2="988.5" stroke="#7b7b7b" stroke-width="2.2"/>
<line x1="509.2" y1="982.5" x2="509.2" y2="988.5" stroke="#7b7b7b" stroke-width="2.2"/>
<text transform="translate(474.30,1015.79) scale(1.0217,1)" font-family='"Liberation Sans", sans-serif' font-weight="normal" font-size="30.70" fill="#1a1a1a">6000</text>
<line x1="577.9" y1="982.5" x2="577.9" y2="988.5" stroke="#7b7b7b" stroke-width="2.2"/>
<line x1="646.6" y1="982.5" x2="646.6" y2="988.5" stroke="#7b7b7b" stroke-width="2.2"/>
<text transform="translate(611.70,1015.79) scale(1.0217,1)" font-family='"Liberation Sans", sans-serif' font-weight="normal" font-size="30.70" fill="#1a1a1a">8000</text>
<text transform="translate(291.00,197.90) scale(1.2339,1)" font-family='"Liberation Sans", sans-serif' font-weight="normal" font-size="22.03" fill="#3a3a3a" stroke="#3a3a3a" stroke-width="0.5">Absolute aperture</text>
<rect x="802.0" y="212.0" width="604.0" height="770.5" fill="none" stroke="#7b7b7b" stroke-width="2.6"/>
<line x1="795.0" y1="212.0" x2="802.0" y2="212.0" stroke="#7b7b7b" stroke-width="2.2"/>
<text transform="translate(707.70,222.29) scale(1.0216,1)" font-family='"Liberation Sans", sans-serif' font-weight="normal" font-size="30.70" fill="#1a1a1a">-2000</text>
<line x1="795.0" y1="346.0" x2="802.0" y2="346.0" stroke="#7b7b7b" stroke-width="2.2"/>
<text transform="translate(772.50,356.29) scale(0.9096,1)" font-family='"Liberation Sans", sans-serif' font-weight="normal" font-size="30.70" fill="#1a1a1a">0</text>
<line x1="795.0" y1="480.0" x2="802.0" y2="480.0" stroke="#7b7b7b" stroke-width="2.2"/>
<text transform="translate(718.20,490.29) scale(1.0217,1)" font-family='"Liberation Sans", sans-serif' font-weight="normal" font-size="30.70" fill="#1a1a1a">2000</text>
<line x1="795.0" y1="614.0" x2="802.0" y2="614.0" stroke="#7b7b7b" stroke-width="2.2"/>
<text transform="translate(718.20,624.29) scale(1.0217,1)" font-family='"Liberation Sans", sans-serif' font-weight="normal" font-size="30.70" fill="#1a1a1a">4000</text>
<line x1="795.0" y1="748.0" x2="802.0" y2="748.0" stroke="#7b7b7b" stroke-width="2.2"/>
<text transform="translate(718.20,758.29) scale(1.0217,1)" font-family='"Liberation Sans", sans-serif' font-weight="normal" font-size="30.70" fill="#1a1a1a">6000</text>
<line x1="795.0" y1="882.0" x2="802.0" y2="882.0" stroke="#7b7b7b" stroke-width="2.2"/>
<text transform="translate(718.20,892.29) scale(1.0217,1)" font-family='"Liberation Sans", sans-serif' font-weight="normal" font-size="30.70" fill="#1a1a1a">8000</text>
<line x1="802.0" y1="982.5" x2="802.0" y2="988.5" stroke="#7b7b7b" stroke-width="2.2"/>
<text transform="translate(794.25,1015.79) scale(0.9096,1)" font-family='"Liberation Sans", sans-serif' font-weight="normal" font-size="30.70" fill="#1a1a1a">0</text>
<line x1="870.7" y1="982.5" x2="870.7" y2="988.5" stroke="#7b7b7b" stroke-width="2.2"/>
<line x1="939.4" y1="982.5" x2="939.4" y2="988.5" stroke="#7b7b7b" stroke-width="2.2"/>
<text transform="translate(904.50,1015.79) scale(1.0217,1)" font-family='"Liberation Sans", sans-serif' font-weight="normal" font-size="30.70" fill="#1a1a1a">2000</text>
<line x1="1008.1" y1="982.5" x2="1008.1" y2="988.5" stroke="#7b7b7b" stroke-width="2.2"/>
<line x1="1076.8" y1="982.5" x2="1076.8" y2="988.5" stroke="#7b7b7b" stroke-width="2.2"/>
<text transform="translate(1041.90,1015.79) scale(1.0217,1)" font-family='"Liberation Sans", sans-serif' font-weight="normal" font-size="30.70" fill="#1a1a1a">4000</text>
<line x1="1145.5" y1="982.5" x2="1145.5" y2="988.5" stroke="#7b7b7b" stroke-width="2.2"/>
<line x1="1214.2" y1="982.5" x2="1214.2" y2="988.5" stroke="#7b7b7b" stroke-width="2.2"/>
<text transform="translate(1179.30,1015.79) scale(1.0217,1)" font-family='"Liberation Sans", sans-serif' font-weight="normal" font-size="30.70" fill="#1a1a1a">6000</text>
<line x1="1282.9" y1="982.5" x2="1282.9" y2="988.5" stroke="#7b7b7b" stroke-width="2.2"/>
<line x1="1351.6" y1="982.5" x2="1351.6" y2="988.5" stroke="#7b7b7b" stroke-width="2.2"/>
<text transform="translate(1316.70,1015.79) scale(1.0217,1)" font-family='"Liberation Sans", sans-serif' font-weight="normal" font-size="30.70" fill="#1a1a1a">8000</text>
<text transform="translate(982.40,196.00) scale(1.2311,1)" font-family='"Liberation Sans", sans-serif' font-weight="normal" font-size="22.46" fill="#3a3a3a" stroke="#3a3a3a" stroke-width="0.5">Differential aperture</text>
<rect x="100.3" y="1304.6" width="594.7" height="769.4000000000001" fill="none" stroke="#7b7b7b" stroke-width="2.6"/>
<line x1="93.3" y1="1304.6" x2="100.3" y2="1304.6" stroke="#7b7b7b" stroke-width="2.2"/>
<text transform="translate(7.20,1314.89) scale(1.0216,1)" font-family='"Liberation Sans", sans-serif' font-weight="normal" font-size="30.70" fill="#1a1a1a">-2000</text>
<line x1="93.3" y1="1438.6" x2="100.3" y2="1438.6" stroke="#7b7b7b" stroke-width="2.2"/>
<text transform="translate(72.00,1448.89) scale(0.9096,1)" font-family='"Liberation Sans", sans-serif' font-weight="normal" font-size="30.70" fill="#1a1a1a">0</text>
<line x1="93.3" y1="1572.6" x2="100.3" y2="1572.6" stroke="#7b7b7b" stroke-width="2.2"/>
<text transform="translate(17.70,1582.89) scale(1.0217,1)" font-family='"Liberation Sans", sans-serif' font-weight="normal" font-size="30.70" fill="#1a1a1a">2000</text>
<line x1="93.3" y1="1706.6" x2="100.3" y2="1706.6" stroke="#7b7b7b" stroke-width="2.2"/>
<text transform="translate(17.70,1716.89) scale(1.0217,1)" font-family='"Liberation Sans", sans-serif' font-weight="normal" font-size="30.70" fill="#1a1a1a">4000</text>
<line x1="93.3" y1="1840.6" x2="100.3" y2="1840.6" stroke="#7b7b7b" stroke-width="2.2"/>
<text transform="translate(17.70,1850.89) scale(1.0217,1)" font-family='"Liberation Sans", sans-serif' font-weight="normal" font-size="30.70" fill="#1a1a1a">6000</text>
<line x1="93.3" y1="1974.6" x2="100.3" y2="1974.6" stroke="#7b7b7b" stroke-width="2.2"/>
<text transform="translate(17.70,1984.89) scale(1.0217,1)" font-family='"Liberation Sans", sans-serif' font-weight="normal" font-size="30.70" fill="#1a1a1a">8000</text>
<line x1="100.3" y1="2074.0" x2="100.3" y2="2080.0" stroke="#7b7b7b" stroke-width="2.2"/>
<text transform="translate(92.55,2107.29) scale(0.9096,1)" font-family='"Liberation Sans", sans-serif' font-weight="normal" font-size="30.70" fill="#1a1a1a">0</text>
<line x1="167.9" y1="2074.0" x2="167.9" y2="2080.0" stroke="#7b7b7b" stroke-width="2.2"/>
<line x1="235.5" y1="2074.0" x2="235.5" y2="2080.0" stroke="#7b7b7b" stroke-width="2.2"/>
<text transform="translate(200.60,2107.29) scale(1.0217,1)" font-family='"Liberation Sans", sans-serif' font-weight="normal" font-size="30.70" fill="#1a1a1a">2000</text>
<line x1="303.1" y1="2074.0" x2="303.1" y2="2080.0" stroke="#7b7b7b" stroke-width="2.2"/>
<line x1="370.7" y1="2074.0" x2="370.7" y2="2080.0" stroke="#7b7b7b" stroke-width="2.2"/>
<text transform="translate(335.80,2107.29) scale(1.0217,1)" font-family='"Liberation Sans", sans-serif' font-weight="normal" font-size="30.70" fill="#1a1a1a">4000</text>
<line x1="438.3" y1="2074.0" x2="438.3" y2="2080.0" stroke="#7b7b7b" stroke-width="2.2"/>
<line x1="505.9" y1="2074.0" x2="505.9" y2="2080.0" stroke="#7b7b7b" stroke-width="2.2"/>
<text transform="translate(471.00,2107.29) scale(1.0217,1)" font-family='"Liberation Sans", sans-serif' font-weight="normal" font-size="30.70" fill="#1a1a1a">6000</text>
<line x1="573.5" y1="2074.0" x2="573.5" y2="2080.0" stroke="#7b7b7b" stroke-width="2.2"/>
<line x1="641.1" y1="2074.0" x2="641.1" y2="2080.0" stroke="#7b7b7b" stroke-width="2.2"/>
<text transform="translate(606.20,2107.29) scale(1.0217,1)" font-family='"Liberation Sans", sans-serif' font-weight="normal" font-size="30.70" fill="#1a1a1a">8000</text>
<text transform="translate(291.50,1290.50) scale(1.2236,1)" font-family='"Liberation Sans", sans-serif' font-weight="normal" font-size="21.74" fill="#3a3a3a" stroke="#3a3a3a" stroke-width="0.5">Absolute aperture</text>
<rect x="799.0" y="1297.0" width="599.0" height="772.0" fill="none" stroke="#7b7b7b" stroke-width="2.6"/>
<line x1="792.0" y1="1297.0" x2="799.0" y2="1297.0" stroke="#7b7b7b" stroke-width="2.2"/>
<text transform="translate(705.70,1307.29) scale(1.0216,1)" font-family='"Liberation Sans", sans-serif' font-weight="normal" font-size="30.70" fill="#1a1a1a">-2000</text>
<line x1="792.0" y1="1431.2" x2="799.0" y2="1431.2" stroke="#7b7b7b" stroke-width="2.2"/>
<text transform="translate(770.50,1441.49) scale(0.9096,1)" font-family='"Liberation Sans", sans-serif' font-weight="normal" font-size="30.70" fill="#1a1a1a">0</text>
<line x1="792.0" y1="1565.4" x2="799.0" y2="1565.4" stroke="#7b7b7b" stroke-width="2.2"/>
<text transform="translate(716.20,1575.69) scale(1.0217,1)" font-family='"Liberation Sans", sans-serif' font-weight="normal" font-size="30.70" fill="#1a1a1a">2000</text>
<line x1="792.0" y1="1699.6" x2="799.0" y2="1699.6" stroke="#7b7b7b" stroke-width="2.2"/>
<text transform="translate(716.20,1709.89) scale(1.0217,1)" font-family='"Liberation Sans", sans-serif' font-weight="normal" font-size="30.70" fill="#1a1a1a">4000</text>
<line x1="792.0" y1="1833.8" x2="799.0" y2="1833.8" stroke="#7b7b7b" stroke-width="2.2"/>
<text transform="translate(716.20,1844.09) scale(1.0217,1)" font-family='"Liberation Sans", sans-serif' font-weight="normal" font-size="30.70" fill="#1a1a1a">6000</text>
<line x1="792.0" y1="1968.0" x2="799.0" y2="1968.0" stroke="#7b7b7b" stroke-width="2.2"/>
<text transform="translate(716.20,1978.29) scale(1.0217,1)" font-family='"Liberation Sans", sans-serif' font-weight="normal" font-size="30.70" fill="#1a1a1a">8000</text>
<line x1="799.0" y1="2069.0" x2="799.0" y2="2075.0" stroke="#7b7b7b" stroke-width="2.2"/>
<text transform="translate(791.25,2102.29) scale(0.9096,1)" font-family='"Liberation Sans", sans-serif' font-weight="normal" font-size="30.70" fill="#1a1a1a">0</text>
<line x1="866.9" y1="2069.0" x2="866.9" y2="2075.0" stroke="#7b7b7b" stroke-width="2.2"/>
<line x1="934.8" y1="2069.0" x2="934.8" y2="2075.0" stroke="#7b7b7b" stroke-width="2.2"/>
<text transform="translate(899.90,2102.29) scale(1.0217,1)" font-family='"Liberation Sans", sans-serif' font-weight="normal" font-size="30.70" fill="#1a1a1a">2000</text>
<line x1="1002.7" y1="2069.0" x2="1002.7" y2="2075.0" stroke="#7b7b7b" stroke-width="2.2"/>
<line x1="1070.6" y1="2069.0" x2="1070.6" y2="2075.0" stroke="#7b7b7b" stroke-width="2.2"/>
<text transform="translate(1035.70,2102.29) scale(1.0217,1)" font-family='"Liberation Sans", sans-serif' font-weight="normal" font-size="30.70" fill="#1a1a1a">4000</text>
<line x1="1138.5" y1="2069.0" x2="1138.5" y2="2075.0" stroke="#7b7b7b" stroke-width="2.2"/>
<line x1="1206.4" y1="2069.0" x2="1206.4" y2="2075.0" stroke="#7b7b7b" stroke-width="2.2"/>
<text transform="translate(1171.50,2102.29) scale(1.0217,1)" font-family='"Liberation Sans", sans-serif' font-weight="normal" font-size="30.70" fill="#1a1a1a">6000</text>
<line x1="1274.3" y1="2069.0" x2="1274.3" y2="2075.0" stroke="#7b7b7b" stroke-width="2.2"/>
<line x1="1342.2" y1="2069.0" x2="1342.2" y2="2075.0" stroke="#7b7b7b" stroke-width="2.2"/>
<text transform="translate(1307.30,2102.29) scale(1.0217,1)" font-family='"Liberation Sans", sans-serif' font-weight="normal" font-size="30.70" fill="#1a1a1a">8000</text>
<text transform="translate(977.90,1283.50) scale(1.2210,1)" font-family='"Liberation Sans", sans-serif' font-weight="normal" font-size="22.46" fill="#3a3a3a" stroke="#3a3a3a" stroke-width="0.5">Differential aperture</text>
<rect x="699" y="219.5" width="6" height="7" fill="#fff"/>
<path d="M435.2,227.0 L443.8,250.2 L468.5,251.2 L449.1,266.5 L455.8,290.3 L435.2,276.6 L414.6,290.3 L421.3,266.5 L401.9,251.2 L426.6,250.2 Z" fill="#9aa3b0" opacity="0.35" transform="translate(2,3)" filter="url(#bl3)"/><path d="M435.2,227.0 L443.8,250.2 L468.5,251.2 L449.1,266.5 L455.8,290.3 L435.2,276.6 L414.6,290.3 L421.3,266.5 L401.9,251.2 L426.6,250.2 Z" fill="url(#starg)" stroke="#f08a2c" stroke-width="3" stroke-linejoin="miter"/>
<path d="M1134.5,226.0 L1143.1,249.2 L1167.8,250.2 L1148.4,265.5 L1155.1,289.3 L1134.5,275.6 L1113.9,289.3 L1120.6,265.5 L1101.2,250.2 L1125.9,249.2 Z" fill="#9aa3b0" opacity="0.35" transform="translate(2,3)" filter="url(#bl3)"/><path d="M1134.5,226.0 L1143.1,249.2 L1167.8,250.2 L1148.4,265.5 L1155.1,289.3 L1134.5,275.6 L1113.9,289.3 L1120.6,265.5 L1101.2,250.2 L1125.9,249.2 Z" fill="url(#starg)" stroke="#f08a2c" stroke-width="3" stroke-linejoin="miter"/>
<path d="M437.5,1318.0 L446.1,1341.2 L470.8,1342.2 L451.4,1357.5 L458.1,1381.3 L437.5,1367.6 L416.9,1381.3 L423.6,1357.5 L404.2,1342.2 L428.9,1341.2 Z" fill="#9aa3b0" opacity="0.35" transform="translate(2,3)" filter="url(#bl3)"/><path d="M437.5,1318.0 L446.1,1341.2 L470.8,1342.2 L451.4,1357.5 L458.1,1381.3 L437.5,1367.6 L416.9,1381.3 L423.6,1357.5 L404.2,1342.2 L428.9,1341.2 Z" fill="url(#starg)" stroke="#f08a2c" stroke-width="3" stroke-linejoin="miter"/>
<path d="M1136.5,1310.0 L1145.1,1333.2 L1169.8,1334.2 L1150.4,1349.5 L1157.1,1373.3 L1136.5,1359.6 L1115.9,1373.3 L1122.6,1349.5 L1103.2,1334.2 L1127.9,1333.2 Z" fill="#9aa3b0" opacity="0.35" transform="translate(2,3)" filter="url(#bl3)"/><path d="M1136.5,1310.0 L1145.1,1333.2 L1169.8,1334.2 L1150.4,1349.5 L1157.1,1373.3 L1136.5,1359.6 L1115.9,1373.3 L1122.6,1349.5 L1103.2,1334.2 L1127.9,1333.2 Z" fill="url(#starg)" stroke="#f08a2c" stroke-width="3" stroke-linejoin="miter"/>
<rect x="268.8" y="690.8" width="252.7" height="173.9000000000001" fill="none" stroke="#111" stroke-width="2.6"/>
<polygon points="408.7,864.7 622.5,736 705,864 487,995" fill="none" stroke="#111" stroke-width="2.6" stroke-linejoin="miter"/>
<ellipse cx="395.5" cy="802" rx="104" ry="90.4" fill="none" stroke="#2f5a96" stroke-width="2.3"/>
<ellipse cx="487" cy="572" rx="81" ry="79" fill="none" stroke="#2f5a96" stroke-width="2.3"/>
<ellipse cx="620" cy="648.5" rx="74" ry="119" transform="rotate(25.6 620 648.5)" fill="none" stroke="#2f5a96" stroke-width="2.3"/>
<rect x="148.1" y="1398.3" width="394.69999999999993" height="225.79999999999995" fill="none" stroke="#111" stroke-width="2.6"/>
<rect x="261.2" y="1735.4" width="250.2" height="195.19999999999982" fill="none" stroke="#111" stroke-width="2.6"/>
<ellipse cx="480.8" cy="1691.5" rx="80" ry="90.6" fill="none" stroke="#2f5a96" stroke-width="2.3"/>
<ellipse cx="625" cy="1676.5" rx="84" ry="74" fill="none" stroke="#2f5a96" stroke-width="2.3"/>
<ellipse cx="371" cy="1897" rx="151" ry="85" transform="rotate(-37.8 371 1897)" fill="none" stroke="#2f5a96" stroke-width="2.3"/>
<text transform="translate(349.10,763.20) scale(0.8437,1)" font-family='"Liberation Sans", sans-serif' font-weight="bold" font-size="56.67" fill="#fdfcf2" stroke="#0c4ea3" stroke-width="3.6" stroke-linejoin="round">R1</text>
<text transform="translate(417.50,614.20) scale(0.8428,1)" font-family='"Liberation Sans", sans-serif' font-weight="bold" font-size="57.29" fill="#fdfcf2" stroke="#0c4ea3" stroke-width="3.6" stroke-linejoin="round">R2</text>
<text transform="translate(632.30,607.13) scale(0.8636,1)" font-family='"Liberation Sans", sans-serif' font-weight="bold" font-size="56.90" fill="#fdfcf2" stroke="#0c4ea3" stroke-width="3.6" stroke-linejoin="round">R3</text>
<text transform="translate(270.80,911.75) scale(0.8397,1)" font-family='"Liberation Sans", sans-serif' font-weight="bold" font-size="54.93" fill="#fbfaf0" stroke="#0a0a0a" stroke-width="4.6" stroke-linejoin="round">S2</text>
<text transform="translate(461.30,1060.63) scale(0.8235,1)" font-family='"Liberation Sans", sans-serif' font-weight="bold" font-size="56.90" fill="#fbfaf0" stroke="#0a0a0a" stroke-width="4.6" stroke-linejoin="round">S1</text>
<text transform="translate(150.80,1612.65) scale(0.8429,1)" font-family='"Liberation Sans", sans-serif' font-weight="bold" font-size="55.49" fill="#fbfaf0" stroke="#0a0a0a" stroke-width="4.6" stroke-linejoin="round">S4</text>
<text transform="translate(263.80,1905.36) scale(0.8265,1)" font-family='"Liberation Sans", sans-serif' font-weight="bold" font-size="54.23" fill="#fbfaf0" stroke="#0a0a0a" stroke-width="4.6" stroke-linejoin="round">S3</text>
<text transform="translate(411.30,1722.20) scale(0.8661,1)" font-family='"Liberation Sans", sans-serif' font-weight="bold" font-size="56.29" fill="#fdfcf2" stroke="#0c4ea3" stroke-width="3.6" stroke-linejoin="round">R2</text>
<text transform="translate(630.80,1725.64) scale(0.8536,1)" font-family='"Liberation Sans", sans-serif' font-weight="bold" font-size="56.20" fill="#fdfcf2" stroke="#0c4ea3" stroke-width="3.6" stroke-linejoin="round">R3</text>
<text transform="translate(257.80,1996.40) scale(0.8086,1)" font-family='"Liberation Sans", sans-serif' font-weight="bold" font-size="58.84" fill="#fdfcf2" stroke="#0c4ea3" stroke-width="3.6" stroke-linejoin="round">R1</text>
<text transform="translate(605.90,51.40) scale(0.9505,1)" font-family='"Liberation Sans", sans-serif' font-weight="normal" font-size="46.67" fill="#151515">ASCENDING</text>
<text transform="translate(604.80,118.30) scale(1.0068,1)" font-family='"Liberation Sans", sans-serif' font-weight="normal" font-size="32.61" fill="#2a2a2a">2021-09-14 19:13</text>
<text transform="translate(569.20,1150.00) scale(0.9173,1)" font-family='"Liberation Sans", sans-serif' font-weight="normal" font-size="46.96" fill="#151515">DESCENDING</text>
<text transform="translate(578.20,1204.10) scale(1.0207,1)" font-family='"Liberation Sans", sans-serif' font-weight="normal" font-size="31.59" fill="#2a2a2a">2021-09-16 07:10</text>
<text transform="translate(108.60,260.00) scale(0.9426,1)" font-family='"Liberation Sans", sans-serif' font-weight="bold" font-size="52.90" fill="#000">A</text>
<text transform="translate(812.00,257.70) scale(0.8767,1)" font-family='"Liberation Sans", sans-serif' font-weight="bold" font-size="45.94" fill="#000">B</text>
<text transform="translate(111.00,1349.51) scale(0.8593,1)" font-family='"Liberation Sans", sans-serif' font-weight="bold" font-size="49.30" fill="#000">C</text>
<text transform="translate(809.00,1344.00) scale(1.0309,1)" font-family='"Liberation Sans", sans-serif' font-weight="bold" font-size="47.83" fill="#000">D</text>
<text transform="translate(101.60,1059.40) scale(0.9315,1)" font-family='"Liberation Sans", sans-serif' font-weight="normal" font-size="48.55" fill="#1a1a1a">A</text>
<text transform="translate(627.50,1063.60) scale(0.9069,1)" font-family='"Liberation Sans", sans-serif' font-weight="normal" font-size="48.55" fill="#1a1a1a">A</text>
<path d="M661.2,1029.2 L665.2,1028.6 L664.9,1032.2 L659.8,1041.4 L657.8,1040.6 Z" fill="#1a1a1a" stroke="#1a1a1a" stroke-width="1.2" stroke-linejoin="round"/>
<text transform="translate(807.00,1054.70) scale(0.9250,1)" font-family='"Liberation Sans", sans-serif' font-weight="normal" font-size="48.41" fill="#1a1a1a">A</text>
<text transform="translate(1332.30,1058.90) scale(0.9334,1)" font-family='"Liberation Sans", sans-serif' font-weight="normal" font-size="47.97" fill="#1a1a1a">A</text>
<path d="M1367.2,1024.9 L1371.2,1024.3 L1370.9,1027.9 L1365.4,1037.4 L1363.4,1036.6 Z" fill="#1a1a1a" stroke="#1a1a1a" stroke-width="1.2" stroke-linejoin="round"/>
<text transform="translate(91.60,2151.10) scale(0.9343,1)" font-family='"Liberation Sans", sans-serif' font-weight="normal" font-size="48.41" fill="#1a1a1a">A</text>
<text transform="translate(608.40,2155.70) scale(0.9210,1)" font-family='"Liberation Sans", sans-serif' font-weight="normal" font-size="47.97" fill="#1a1a1a">A</text>
<path d="M642.9,2121.0 L646.9,2120.4 L646.6,2124.0 L640.4,2133.5 L638.4,2132.7 Z" fill="#1a1a1a" stroke="#1a1a1a" stroke-width="1.2" stroke-linejoin="round"/>
<text transform="translate(787.70,2146.80) scale(0.9343,1)" font-family='"Liberation Sans", sans-serif' font-weight="normal" font-size="48.41" fill="#1a1a1a">A</text>
<text transform="translate(1304.40,2151.40) scale(0.9034,1)" font-family='"Liberation Sans", sans-serif' font-weight="normal" font-size="48.41" fill="#1a1a1a">A</text>
<path d="M1338.2,2116.7 L1342.2,2116.1 L1341.9,2119.7 L1336.4,2129.2 L1334.4,2128.4 Z" fill="#1a1a1a" stroke="#1a1a1a" stroke-width="1.2" stroke-linejoin="round"/>
<rect x="296.5" y="2245" width="898.0" height="44" fill="url(#seis)" stroke="#222" stroke-width="1"/>
<text transform="translate(625.90,2224.40) scale(0.9270,1)" font-family='"Liberation Sans", sans-serif' font-weight="normal" font-size="31.74" fill="#151515">DIKE OPENING (m)</text>
<line x1="296.5" y1="2289" x2="296.5" y2="2298" stroke="#333" stroke-width="2"/>
<g transform="translate(304.9,2296) rotate(90)"><text transform="translate(0.00,16.56) scale(1.0380,1)" font-family='"Liberation Sans", sans-serif' font-weight="normal" font-size="23.66" fill="#222">-1.00</text></g>
<line x1="408.8" y1="2289" x2="408.8" y2="2298" stroke="#333" stroke-width="2"/>
<g transform="translate(417.1,2296) rotate(90)"><text transform="translate(0.00,16.56) scale(1.0380,1)" font-family='"Liberation Sans", sans-serif' font-weight="normal" font-size="23.66" fill="#222">-0.75</text></g>
<line x1="521.0" y1="2289" x2="521.0" y2="2298" stroke="#333" stroke-width="2"/>
<g transform="translate(529.4,2296) rotate(90)"><text transform="translate(0.00,16.56) scale(1.0380,1)" font-family='"Liberation Sans", sans-serif' font-weight="normal" font-size="23.66" fill="#222">-0.50</text></g>
<line x1="633.2" y1="2289" x2="633.2" y2="2298" stroke="#333" stroke-width="2"/>
<g transform="translate(641.6,2296) rotate(90)"><text transform="translate(0.00,16.56) scale(1.0380,1)" font-family='"Liberation Sans", sans-serif' font-weight="normal" font-size="23.66" fill="#222">-0.25</text></g>
<line x1="745.5" y1="2289" x2="745.5" y2="2298" stroke="#333" stroke-width="2"/>
<g transform="translate(753.9,2308) rotate(90)"><text transform="translate(0.00,16.56) scale(0.9561,1)" font-family='"Liberation Sans", sans-serif' font-weight="normal" font-size="23.66" fill="#222">0.00</text></g>
<line x1="857.8" y1="2289" x2="857.8" y2="2298" stroke="#333" stroke-width="2"/>
<g transform="translate(866.1,2308) rotate(90)"><text transform="translate(0.00,16.56) scale(0.9561,1)" font-family='"Liberation Sans", sans-serif' font-weight="normal" font-size="23.66" fill="#222">0.25</text></g>
<line x1="970.0" y1="2289" x2="970.0" y2="2298" stroke="#333" stroke-width="2"/>
<g transform="translate(978.4,2308) rotate(90)"><text transform="translate(0.00,16.56) scale(0.9561,1)" font-family='"Liberation Sans", sans-serif' font-weight="normal" font-size="23.66" fill="#222">0.50</text></g>
<line x1="1082.2" y1="2289" x2="1082.2" y2="2298" stroke="#333" stroke-width="2"/>
<g transform="translate(1090.7,2308) rotate(90)"><text transform="translate(0.00,16.56) scale(0.9561,1)" font-family='"Liberation Sans", sans-serif' font-weight="normal" font-size="23.66" fill="#222">0.75</text></g>
<line x1="1194.5" y1="2289" x2="1194.5" y2="2298" stroke="#333" stroke-width="2"/>
<g transform="translate(1202.9,2308) rotate(90)"><text transform="translate(0.00,16.56) scale(0.9561,1)" font-family='"Liberation Sans", sans-serif' font-weight="normal" font-size="23.66" fill="#222">1.00</text></g>
</svg>
</body></html>
